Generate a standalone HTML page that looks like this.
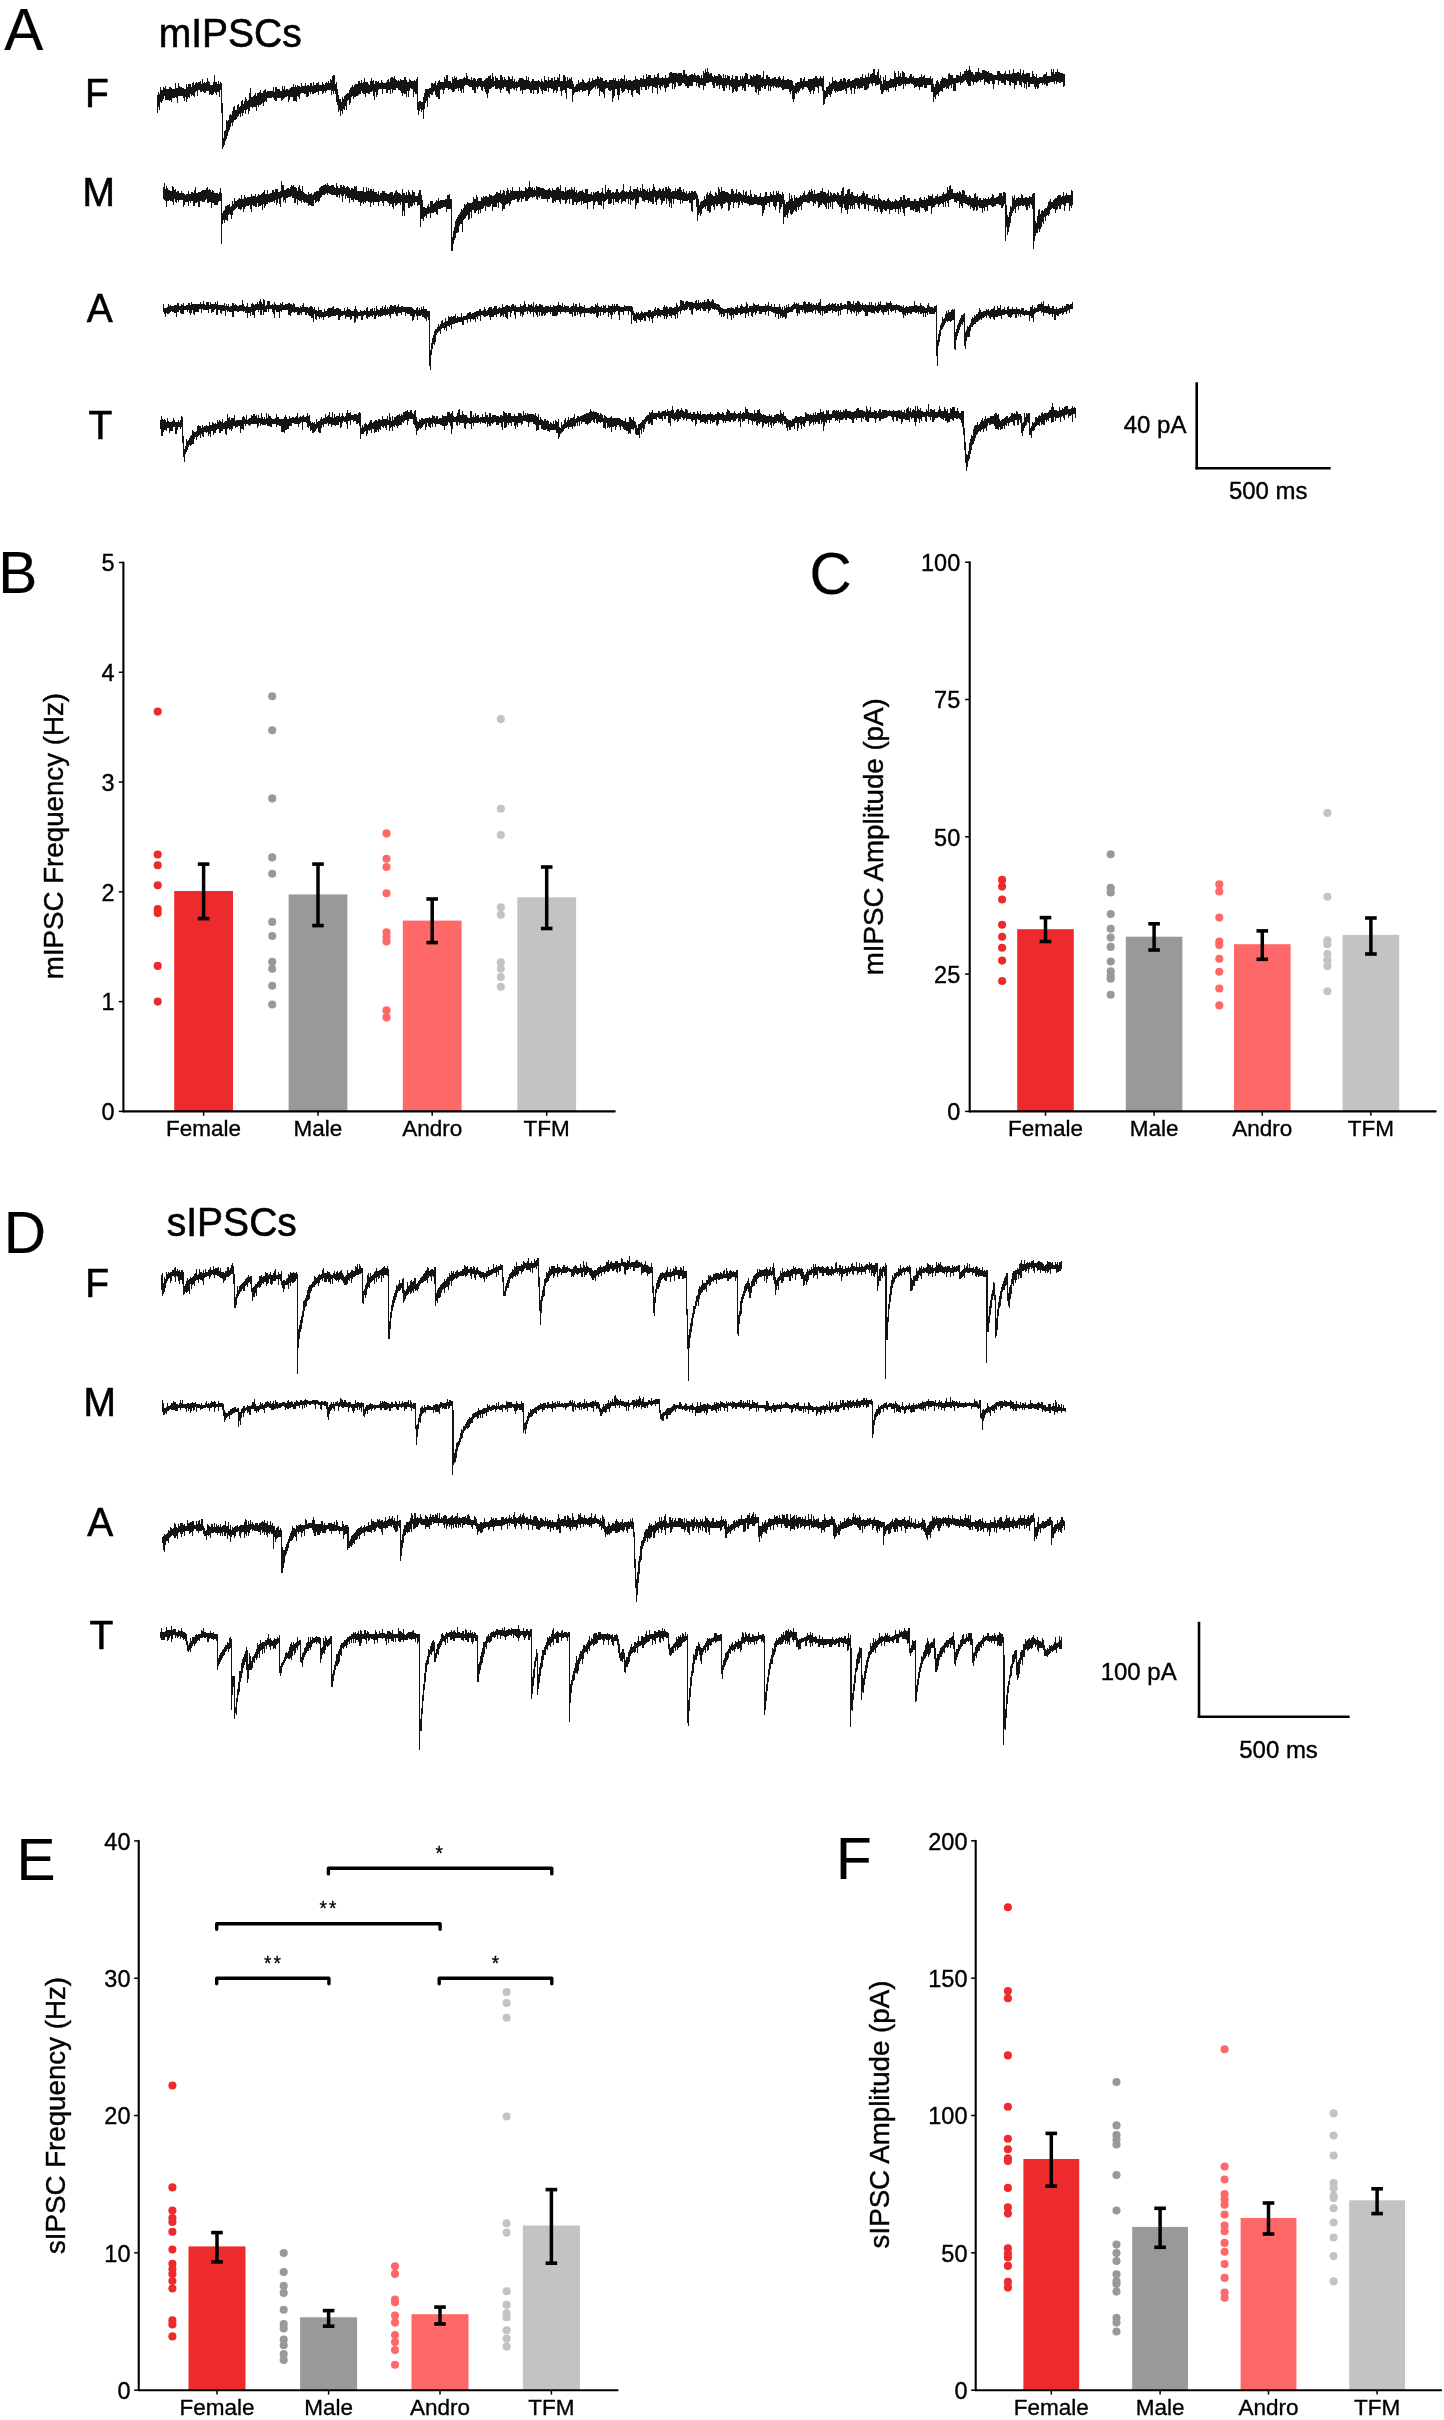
<!DOCTYPE html>
<html><head><meta charset="utf-8"><title>Figure</title>
<style>html,body{margin:0;padding:0;background:#fff;}svg{display:block;will-change:transform;}
text{font-family:"Liberation Sans", sans-serif;fill:#000;}</style></head>
<body><svg width="1444" height="2420" viewBox="0 0 1444 2420">
<rect width="1444" height="2420" fill="#fff"/>
<text x="0" y="0" transform="translate(4.15,49.90) scale(1,1.0)" font-size="58.5" text-anchor="start" stroke="#000" stroke-width="0.2" >A</text>
<text x="0" y="0" transform="translate(-1.75,593.00) scale(1,1.0)" font-size="58.5" text-anchor="start" stroke="#000" stroke-width="0.2" >B</text>
<text x="0" y="0" transform="translate(809.40,593.50) scale(1,1.0)" font-size="58.5" text-anchor="start" stroke="#000" stroke-width="0.2" >C</text>
<text x="0" y="0" transform="translate(3.65,1252.50) scale(1,1.0)" font-size="58.5" text-anchor="start" stroke="#000" stroke-width="0.2" >D</text>
<text x="0" y="0" transform="translate(16.55,1879.80) scale(1,1.0)" font-size="58.5" text-anchor="start" stroke="#000" stroke-width="0.2" >E</text>
<text x="0" y="0" transform="translate(836.05,1879.00) scale(1,1.0)" font-size="58.5" text-anchor="start" stroke="#000" stroke-width="0.2" >F</text>
<text x="0" y="0" transform="translate(158.80,46.50) scale(1,1.035)" font-size="39" text-anchor="start" stroke="#000" stroke-width="0.58" >mIPSCs</text>
<text x="0" y="0" transform="translate(166.80,1236.10) scale(1,1.035)" font-size="39" text-anchor="start" stroke="#000" stroke-width="0.58" >sIPSCs</text>
<text x="0" y="0" transform="translate(84.95,107.00) scale(1,1.035)" font-size="39" text-anchor="start" stroke="#000" stroke-width="0.58" >F</text>
<text x="0" y="0" transform="translate(82.45,206.10) scale(1,1.035)" font-size="39" text-anchor="start" stroke="#000" stroke-width="0.58" >M</text>
<text x="0" y="0" transform="translate(86.75,321.80) scale(1,1.035)" font-size="39" text-anchor="start" stroke="#000" stroke-width="0.58" >A</text>
<text x="0" y="0" transform="translate(88.40,438.90) scale(1,1.035)" font-size="39" text-anchor="start" stroke="#000" stroke-width="0.58" >T</text>
<text x="0" y="0" transform="translate(85.35,1297.00) scale(1,1.035)" font-size="39" text-anchor="start" stroke="#000" stroke-width="0.58" >F</text>
<text x="0" y="0" transform="translate(83.45,1416.20) scale(1,1.035)" font-size="39" text-anchor="start" stroke="#000" stroke-width="0.58" >M</text>
<text x="0" y="0" transform="translate(87.25,1535.90) scale(1,1.035)" font-size="39" text-anchor="start" stroke="#000" stroke-width="0.58" >A</text>
<text x="0" y="0" transform="translate(89.40,1648.90) scale(1,1.035)" font-size="39" text-anchor="start" stroke="#000" stroke-width="0.58" >T</text>
<line x1="1196.70" y1="382.30" x2="1196.70" y2="469.30" stroke="#000" stroke-width="2.6" stroke-linecap="butt"/>
<line x1="1195.50" y1="468.20" x2="1330.70" y2="468.20" stroke="#000" stroke-width="2.6" stroke-linecap="butt"/>
<text x="0" y="0" transform="translate(1123.70,433.10) scale(1,1.035)" font-size="24" text-anchor="start" stroke="#000" stroke-width="0.36" >40 pA</text>
<text x="0" y="0" transform="translate(1228.90,499.00) scale(1,1.035)" font-size="24" text-anchor="start" stroke="#000" stroke-width="0.36" >500 ms</text>
<line x1="1199.00" y1="1621.80" x2="1199.00" y2="1718.00" stroke="#000" stroke-width="2.6" stroke-linecap="butt"/>
<line x1="1197.80" y1="1716.80" x2="1349.70" y2="1716.80" stroke="#000" stroke-width="2.6" stroke-linecap="butt"/>
<text x="0" y="0" transform="translate(1100.65,1679.60) scale(1,1.035)" font-size="24" text-anchor="start" stroke="#000" stroke-width="0.36" >100 pA</text>
<text x="0" y="0" transform="translate(1239.20,1757.90) scale(1,1.035)" font-size="24" text-anchor="start" stroke="#000" stroke-width="0.36" >500 ms</text>
<rect x="174.20" y="891.00" width="58.80" height="220.40" fill="#ed2a2c"/>
<rect x="288.60" y="894.40" width="58.80" height="217.00" fill="#999999"/>
<rect x="402.80" y="920.60" width="58.80" height="190.80" fill="#ff6868"/>
<rect x="517.30" y="897.30" width="58.80" height="214.10" fill="#c3c3c3"/>
<circle cx="157.70" cy="711.60" r="4.05" fill="#ed2a2c"/>
<circle cx="157.70" cy="854.50" r="4.05" fill="#ed2a2c"/>
<circle cx="157.70" cy="865.30" r="4.05" fill="#ed2a2c"/>
<circle cx="157.70" cy="885.30" r="4.05" fill="#ed2a2c"/>
<circle cx="157.70" cy="909.00" r="4.05" fill="#ed2a2c"/>
<circle cx="157.70" cy="913.10" r="4.05" fill="#ed2a2c"/>
<circle cx="157.70" cy="965.90" r="4.05" fill="#ed2a2c"/>
<circle cx="157.70" cy="1001.60" r="4.05" fill="#ed2a2c"/>
<circle cx="272.20" cy="696.20" r="4.05" fill="#999999"/>
<circle cx="272.20" cy="730.30" r="4.05" fill="#999999"/>
<circle cx="272.20" cy="798.40" r="4.05" fill="#999999"/>
<circle cx="272.20" cy="857.40" r="4.05" fill="#999999"/>
<circle cx="272.20" cy="873.70" r="4.05" fill="#999999"/>
<circle cx="272.20" cy="921.90" r="4.05" fill="#999999"/>
<circle cx="272.20" cy="936.00" r="4.05" fill="#999999"/>
<circle cx="272.20" cy="961.70" r="4.05" fill="#999999"/>
<circle cx="272.20" cy="968.80" r="4.05" fill="#999999"/>
<circle cx="272.20" cy="985.80" r="4.05" fill="#999999"/>
<circle cx="272.20" cy="1004.50" r="4.05" fill="#999999"/>
<circle cx="386.50" cy="833.40" r="4.05" fill="#ff6868"/>
<circle cx="386.50" cy="858.70" r="4.05" fill="#ff6868"/>
<circle cx="386.50" cy="867.00" r="4.05" fill="#ff6868"/>
<circle cx="386.50" cy="893.20" r="4.05" fill="#ff6868"/>
<circle cx="386.50" cy="932.20" r="4.05" fill="#ff6868"/>
<circle cx="386.50" cy="937.20" r="4.05" fill="#ff6868"/>
<circle cx="386.50" cy="941.40" r="4.05" fill="#ff6868"/>
<circle cx="386.50" cy="1010.40" r="4.05" fill="#ff6868"/>
<circle cx="386.50" cy="1017.40" r="4.05" fill="#ff6868"/>
<circle cx="500.80" cy="719.10" r="4.05" fill="#c3c3c3"/>
<circle cx="500.80" cy="808.80" r="4.05" fill="#c3c3c3"/>
<circle cx="500.80" cy="835.00" r="4.05" fill="#c3c3c3"/>
<circle cx="500.80" cy="907.30" r="4.05" fill="#c3c3c3"/>
<circle cx="500.80" cy="914.80" r="4.05" fill="#c3c3c3"/>
<circle cx="500.80" cy="962.20" r="4.05" fill="#c3c3c3"/>
<circle cx="500.80" cy="968.80" r="4.05" fill="#c3c3c3"/>
<circle cx="500.80" cy="977.10" r="4.05" fill="#c3c3c3"/>
<circle cx="500.80" cy="986.70" r="4.05" fill="#c3c3c3"/>
<line x1="203.60" y1="864.10" x2="203.60" y2="918.60" stroke="#000" stroke-width="3.5" stroke-linecap="butt"/>
<line x1="197.80" y1="864.10" x2="209.40" y2="864.10" stroke="#000" stroke-width="3.6" stroke-linecap="butt"/>
<line x1="197.80" y1="918.60" x2="209.40" y2="918.60" stroke="#000" stroke-width="3.6" stroke-linecap="butt"/>
<line x1="318.00" y1="864.10" x2="318.00" y2="925.60" stroke="#000" stroke-width="3.5" stroke-linecap="butt"/>
<line x1="312.20" y1="864.10" x2="323.80" y2="864.10" stroke="#000" stroke-width="3.6" stroke-linecap="butt"/>
<line x1="312.20" y1="925.60" x2="323.80" y2="925.60" stroke="#000" stroke-width="3.6" stroke-linecap="butt"/>
<line x1="432.20" y1="899.00" x2="432.20" y2="942.60" stroke="#000" stroke-width="3.5" stroke-linecap="butt"/>
<line x1="426.40" y1="899.00" x2="438.00" y2="899.00" stroke="#000" stroke-width="3.6" stroke-linecap="butt"/>
<line x1="426.40" y1="942.60" x2="438.00" y2="942.60" stroke="#000" stroke-width="3.6" stroke-linecap="butt"/>
<line x1="546.70" y1="867.00" x2="546.70" y2="928.50" stroke="#000" stroke-width="3.5" stroke-linecap="butt"/>
<line x1="540.90" y1="867.00" x2="552.50" y2="867.00" stroke="#000" stroke-width="3.6" stroke-linecap="butt"/>
<line x1="540.90" y1="928.50" x2="552.50" y2="928.50" stroke="#000" stroke-width="3.6" stroke-linecap="butt"/>
<line x1="123.40" y1="562.50" x2="123.40" y2="1111.40" stroke="#000" stroke-width="2.1" stroke-linecap="round"/>
<line x1="123.40" y1="1111.40" x2="614.70" y2="1111.40" stroke="#000" stroke-width="2.1" stroke-linecap="round"/>
<line x1="118.80" y1="1111.40" x2="123.40" y2="1111.40" stroke="#000" stroke-width="1.5" stroke-linecap="butt"/>
<text x="0" y="0" transform="translate(114.50,1120.20) scale(1,1.035)" font-size="23.5" text-anchor="end" stroke="#000" stroke-width="0.35" >0</text>
<line x1="118.80" y1="1001.62" x2="123.40" y2="1001.62" stroke="#000" stroke-width="1.5" stroke-linecap="butt"/>
<text x="0" y="0" transform="translate(114.50,1010.42) scale(1,1.035)" font-size="23.5" text-anchor="end" stroke="#000" stroke-width="0.35" >1</text>
<line x1="118.80" y1="891.84" x2="123.40" y2="891.84" stroke="#000" stroke-width="1.5" stroke-linecap="butt"/>
<text x="0" y="0" transform="translate(114.50,900.64) scale(1,1.035)" font-size="23.5" text-anchor="end" stroke="#000" stroke-width="0.35" >2</text>
<line x1="118.80" y1="782.06" x2="123.40" y2="782.06" stroke="#000" stroke-width="1.5" stroke-linecap="butt"/>
<text x="0" y="0" transform="translate(114.50,790.86) scale(1,1.035)" font-size="23.5" text-anchor="end" stroke="#000" stroke-width="0.35" >3</text>
<line x1="118.80" y1="672.28" x2="123.40" y2="672.28" stroke="#000" stroke-width="1.5" stroke-linecap="butt"/>
<text x="0" y="0" transform="translate(114.50,681.08) scale(1,1.035)" font-size="23.5" text-anchor="end" stroke="#000" stroke-width="0.35" >4</text>
<line x1="118.80" y1="562.50" x2="123.40" y2="562.50" stroke="#000" stroke-width="1.5" stroke-linecap="butt"/>
<text x="0" y="0" transform="translate(114.50,571.30) scale(1,1.035)" font-size="23.5" text-anchor="end" stroke="#000" stroke-width="0.35" >5</text>
<line x1="203.60" y1="1111.40" x2="203.60" y2="1115.80" stroke="#000" stroke-width="1.5" stroke-linecap="butt"/>
<text x="0" y="0" transform="translate(203.60,1136.00) scale(1,1.0)" font-size="22.5" text-anchor="middle" stroke="#000" stroke-width="0.34" >Female</text>
<line x1="318.00" y1="1111.40" x2="318.00" y2="1115.80" stroke="#000" stroke-width="1.5" stroke-linecap="butt"/>
<text x="0" y="0" transform="translate(318.00,1136.00) scale(1,1.0)" font-size="22.5" text-anchor="middle" stroke="#000" stroke-width="0.34" >Male</text>
<line x1="432.20" y1="1111.40" x2="432.20" y2="1115.80" stroke="#000" stroke-width="1.5" stroke-linecap="butt"/>
<text x="0" y="0" transform="translate(432.20,1136.00) scale(1,1.0)" font-size="22.5" text-anchor="middle" stroke="#000" stroke-width="0.34" >Andro</text>
<line x1="546.70" y1="1111.40" x2="546.70" y2="1115.80" stroke="#000" stroke-width="1.5" stroke-linecap="butt"/>
<text x="0" y="0" transform="translate(546.70,1136.00) scale(1,1.0)" font-size="22.5" text-anchor="middle" stroke="#000" stroke-width="0.34" >TFM</text>
<text x="0" y="0" font-size="27.7" stroke="#000" stroke-width="0.42" text-anchor="middle" transform="translate(63.10,836.10) rotate(-90)">mIPSC Frequency (Hz)</text>
<rect x="1017.20" y="929.20" width="56.60" height="182.20" fill="#ed2a2c"/>
<rect x="1125.80" y="936.70" width="56.60" height="174.70" fill="#999999"/>
<rect x="1234.00" y="944.20" width="56.60" height="167.20" fill="#ff6868"/>
<rect x="1342.60" y="934.90" width="56.60" height="176.50" fill="#c3c3c3"/>
<circle cx="1002.10" cy="879.90" r="4.05" fill="#ed2a2c"/>
<circle cx="1002.10" cy="886.60" r="4.05" fill="#ed2a2c"/>
<circle cx="1002.10" cy="899.50" r="4.05" fill="#ed2a2c"/>
<circle cx="1002.10" cy="924.70" r="4.05" fill="#ed2a2c"/>
<circle cx="1002.10" cy="936.70" r="4.05" fill="#ed2a2c"/>
<circle cx="1002.10" cy="947.80" r="4.05" fill="#ed2a2c"/>
<circle cx="1002.10" cy="960.60" r="4.05" fill="#ed2a2c"/>
<circle cx="1002.10" cy="981.00" r="4.05" fill="#ed2a2c"/>
<circle cx="1110.70" cy="854.20" r="4.05" fill="#999999"/>
<circle cx="1110.70" cy="887.90" r="4.05" fill="#999999"/>
<circle cx="1110.70" cy="892.40" r="4.05" fill="#999999"/>
<circle cx="1110.70" cy="914.10" r="4.05" fill="#999999"/>
<circle cx="1110.70" cy="928.70" r="4.05" fill="#999999"/>
<circle cx="1110.70" cy="937.60" r="4.05" fill="#999999"/>
<circle cx="1110.70" cy="946.90" r="4.05" fill="#999999"/>
<circle cx="1110.70" cy="961.50" r="4.05" fill="#999999"/>
<circle cx="1110.70" cy="971.30" r="4.05" fill="#999999"/>
<circle cx="1110.70" cy="975.70" r="4.05" fill="#999999"/>
<circle cx="1110.70" cy="978.80" r="4.05" fill="#999999"/>
<circle cx="1110.70" cy="994.70" r="4.05" fill="#999999"/>
<circle cx="1219.30" cy="884.40" r="4.05" fill="#ff6868"/>
<circle cx="1219.30" cy="891.50" r="4.05" fill="#ff6868"/>
<circle cx="1219.30" cy="917.60" r="4.05" fill="#ff6868"/>
<circle cx="1219.30" cy="941.50" r="4.05" fill="#ff6868"/>
<circle cx="1219.30" cy="945.10" r="4.05" fill="#ff6868"/>
<circle cx="1219.30" cy="958.80" r="4.05" fill="#ff6868"/>
<circle cx="1219.30" cy="971.70" r="4.05" fill="#ff6868"/>
<circle cx="1219.30" cy="988.50" r="4.05" fill="#ff6868"/>
<circle cx="1219.30" cy="1005.40" r="4.05" fill="#ff6868"/>
<circle cx="1327.40" cy="813.00" r="4.05" fill="#c3c3c3"/>
<circle cx="1327.40" cy="896.80" r="4.05" fill="#c3c3c3"/>
<circle cx="1327.40" cy="940.20" r="4.05" fill="#c3c3c3"/>
<circle cx="1327.40" cy="944.20" r="4.05" fill="#c3c3c3"/>
<circle cx="1327.40" cy="954.00" r="4.05" fill="#c3c3c3"/>
<circle cx="1327.40" cy="960.20" r="4.05" fill="#c3c3c3"/>
<circle cx="1327.40" cy="966.00" r="4.05" fill="#c3c3c3"/>
<circle cx="1327.40" cy="991.20" r="4.05" fill="#c3c3c3"/>
<line x1="1045.50" y1="917.60" x2="1045.50" y2="941.50" stroke="#000" stroke-width="3.5" stroke-linecap="butt"/>
<line x1="1039.70" y1="917.60" x2="1051.30" y2="917.60" stroke="#000" stroke-width="3.6" stroke-linecap="butt"/>
<line x1="1039.70" y1="941.50" x2="1051.30" y2="941.50" stroke="#000" stroke-width="3.6" stroke-linecap="butt"/>
<line x1="1154.10" y1="923.80" x2="1154.10" y2="950.00" stroke="#000" stroke-width="3.5" stroke-linecap="butt"/>
<line x1="1148.30" y1="923.80" x2="1159.90" y2="923.80" stroke="#000" stroke-width="3.6" stroke-linecap="butt"/>
<line x1="1148.30" y1="950.00" x2="1159.90" y2="950.00" stroke="#000" stroke-width="3.6" stroke-linecap="butt"/>
<line x1="1262.30" y1="930.90" x2="1262.30" y2="959.30" stroke="#000" stroke-width="3.5" stroke-linecap="butt"/>
<line x1="1256.50" y1="930.90" x2="1268.10" y2="930.90" stroke="#000" stroke-width="3.6" stroke-linecap="butt"/>
<line x1="1256.50" y1="959.30" x2="1268.10" y2="959.30" stroke="#000" stroke-width="3.6" stroke-linecap="butt"/>
<line x1="1370.90" y1="918.00" x2="1370.90" y2="954.00" stroke="#000" stroke-width="3.5" stroke-linecap="butt"/>
<line x1="1365.10" y1="918.00" x2="1376.70" y2="918.00" stroke="#000" stroke-width="3.6" stroke-linecap="butt"/>
<line x1="1365.10" y1="954.00" x2="1376.70" y2="954.00" stroke="#000" stroke-width="3.6" stroke-linecap="butt"/>
<line x1="969.70" y1="562.20" x2="969.70" y2="1111.40" stroke="#000" stroke-width="2.1" stroke-linecap="round"/>
<line x1="969.70" y1="1111.40" x2="1435.70" y2="1111.40" stroke="#000" stroke-width="2.1" stroke-linecap="round"/>
<line x1="965.10" y1="1111.40" x2="969.70" y2="1111.40" stroke="#000" stroke-width="1.5" stroke-linecap="butt"/>
<text x="0" y="0" transform="translate(960.20,1120.20) scale(1,1.035)" font-size="23.5" text-anchor="end" stroke="#000" stroke-width="0.35" >0</text>
<line x1="965.10" y1="974.10" x2="969.70" y2="974.10" stroke="#000" stroke-width="1.5" stroke-linecap="butt"/>
<text x="0" y="0" transform="translate(960.20,982.90) scale(1,1.035)" font-size="23.5" text-anchor="end" stroke="#000" stroke-width="0.35" >25</text>
<line x1="965.10" y1="836.80" x2="969.70" y2="836.80" stroke="#000" stroke-width="1.5" stroke-linecap="butt"/>
<text x="0" y="0" transform="translate(960.20,845.60) scale(1,1.035)" font-size="23.5" text-anchor="end" stroke="#000" stroke-width="0.35" >50</text>
<line x1="965.10" y1="699.50" x2="969.70" y2="699.50" stroke="#000" stroke-width="1.5" stroke-linecap="butt"/>
<text x="0" y="0" transform="translate(960.20,708.30) scale(1,1.035)" font-size="23.5" text-anchor="end" stroke="#000" stroke-width="0.35" >75</text>
<line x1="965.10" y1="562.20" x2="969.70" y2="562.20" stroke="#000" stroke-width="1.5" stroke-linecap="butt"/>
<text x="0" y="0" transform="translate(960.20,571.00) scale(1,1.035)" font-size="23.5" text-anchor="end" stroke="#000" stroke-width="0.35" >100</text>
<line x1="1045.50" y1="1111.40" x2="1045.50" y2="1115.80" stroke="#000" stroke-width="1.5" stroke-linecap="butt"/>
<text x="0" y="0" transform="translate(1045.50,1135.50) scale(1,1.0)" font-size="22.5" text-anchor="middle" stroke="#000" stroke-width="0.34" >Female</text>
<line x1="1154.10" y1="1111.40" x2="1154.10" y2="1115.80" stroke="#000" stroke-width="1.5" stroke-linecap="butt"/>
<text x="0" y="0" transform="translate(1154.10,1135.50) scale(1,1.0)" font-size="22.5" text-anchor="middle" stroke="#000" stroke-width="0.34" >Male</text>
<line x1="1262.30" y1="1111.40" x2="1262.30" y2="1115.80" stroke="#000" stroke-width="1.5" stroke-linecap="butt"/>
<text x="0" y="0" transform="translate(1262.30,1135.50) scale(1,1.0)" font-size="22.5" text-anchor="middle" stroke="#000" stroke-width="0.34" >Andro</text>
<line x1="1370.90" y1="1111.40" x2="1370.90" y2="1115.80" stroke="#000" stroke-width="1.5" stroke-linecap="butt"/>
<text x="0" y="0" transform="translate(1370.90,1135.50) scale(1,1.0)" font-size="22.5" text-anchor="middle" stroke="#000" stroke-width="0.34" >TFM</text>
<text x="0" y="0" font-size="27.7" stroke="#000" stroke-width="0.42" text-anchor="middle" transform="translate(883.10,836.80) rotate(-90)">mIPSC Amplitude (pA)</text>
<rect x="188.50" y="2246.40" width="57.00" height="143.80" fill="#ed2a2c"/>
<rect x="300.10" y="2317.30" width="57.00" height="72.90" fill="#999999"/>
<rect x="411.50" y="2314.20" width="57.00" height="76.00" fill="#ff6868"/>
<rect x="522.90" y="2225.50" width="57.00" height="164.70" fill="#c3c3c3"/>
<circle cx="172.40" cy="2085.50" r="4.05" fill="#ed2a2c"/>
<circle cx="172.40" cy="2187.40" r="4.05" fill="#ed2a2c"/>
<circle cx="172.40" cy="2210.50" r="4.05" fill="#ed2a2c"/>
<circle cx="172.40" cy="2218.00" r="4.05" fill="#ed2a2c"/>
<circle cx="172.40" cy="2222.00" r="4.05" fill="#ed2a2c"/>
<circle cx="172.40" cy="2231.80" r="4.05" fill="#ed2a2c"/>
<circle cx="172.40" cy="2249.50" r="4.05" fill="#ed2a2c"/>
<circle cx="172.40" cy="2263.70" r="4.05" fill="#ed2a2c"/>
<circle cx="172.40" cy="2269.00" r="4.05" fill="#ed2a2c"/>
<circle cx="172.40" cy="2273.90" r="4.05" fill="#ed2a2c"/>
<circle cx="172.40" cy="2281.00" r="4.05" fill="#ed2a2c"/>
<circle cx="172.40" cy="2288.50" r="4.05" fill="#ed2a2c"/>
<circle cx="172.40" cy="2320.40" r="4.05" fill="#ed2a2c"/>
<circle cx="172.40" cy="2324.40" r="4.05" fill="#ed2a2c"/>
<circle cx="172.40" cy="2336.40" r="4.05" fill="#ed2a2c"/>
<circle cx="283.70" cy="2253.00" r="4.05" fill="#999999"/>
<circle cx="283.70" cy="2272.10" r="4.05" fill="#999999"/>
<circle cx="283.70" cy="2285.80" r="4.05" fill="#999999"/>
<circle cx="283.70" cy="2292.90" r="4.05" fill="#999999"/>
<circle cx="283.70" cy="2309.80" r="4.05" fill="#999999"/>
<circle cx="283.70" cy="2324.00" r="4.05" fill="#999999"/>
<circle cx="283.70" cy="2328.40" r="4.05" fill="#999999"/>
<circle cx="283.70" cy="2339.50" r="4.05" fill="#999999"/>
<circle cx="283.70" cy="2345.20" r="4.05" fill="#999999"/>
<circle cx="283.70" cy="2354.10" r="4.05" fill="#999999"/>
<circle cx="283.70" cy="2359.90" r="4.05" fill="#999999"/>
<circle cx="395.00" cy="2266.30" r="4.05" fill="#ff6868"/>
<circle cx="395.00" cy="2273.90" r="4.05" fill="#ff6868"/>
<circle cx="395.00" cy="2299.60" r="4.05" fill="#ff6868"/>
<circle cx="395.00" cy="2302.30" r="4.05" fill="#ff6868"/>
<circle cx="395.00" cy="2315.50" r="4.05" fill="#ff6868"/>
<circle cx="395.00" cy="2322.60" r="4.05" fill="#ff6868"/>
<circle cx="395.00" cy="2335.00" r="4.05" fill="#ff6868"/>
<circle cx="395.00" cy="2342.10" r="4.05" fill="#ff6868"/>
<circle cx="395.00" cy="2350.10" r="4.05" fill="#ff6868"/>
<circle cx="395.00" cy="2364.70" r="4.05" fill="#ff6868"/>
<circle cx="506.60" cy="1992.00" r="4.05" fill="#c3c3c3"/>
<circle cx="506.60" cy="2003.00" r="4.05" fill="#c3c3c3"/>
<circle cx="506.60" cy="2017.70" r="4.05" fill="#c3c3c3"/>
<circle cx="506.60" cy="2116.50" r="4.05" fill="#c3c3c3"/>
<circle cx="506.60" cy="2223.30" r="4.05" fill="#c3c3c3"/>
<circle cx="506.60" cy="2232.60" r="4.05" fill="#c3c3c3"/>
<circle cx="506.60" cy="2291.20" r="4.05" fill="#c3c3c3"/>
<circle cx="506.60" cy="2304.90" r="4.05" fill="#c3c3c3"/>
<circle cx="506.60" cy="2313.30" r="4.05" fill="#c3c3c3"/>
<circle cx="506.60" cy="2317.30" r="4.05" fill="#c3c3c3"/>
<circle cx="506.60" cy="2330.20" r="4.05" fill="#c3c3c3"/>
<circle cx="506.60" cy="2338.60" r="4.05" fill="#c3c3c3"/>
<circle cx="506.60" cy="2346.60" r="4.05" fill="#c3c3c3"/>
<line x1="217.00" y1="2232.60" x2="217.00" y2="2261.90" stroke="#000" stroke-width="3.5" stroke-linecap="butt"/>
<line x1="211.20" y1="2232.60" x2="222.80" y2="2232.60" stroke="#000" stroke-width="3.6" stroke-linecap="butt"/>
<line x1="211.20" y1="2261.90" x2="222.80" y2="2261.90" stroke="#000" stroke-width="3.6" stroke-linecap="butt"/>
<line x1="328.60" y1="2310.60" x2="328.60" y2="2326.20" stroke="#000" stroke-width="3.5" stroke-linecap="butt"/>
<line x1="322.80" y1="2310.60" x2="334.40" y2="2310.60" stroke="#000" stroke-width="3.6" stroke-linecap="butt"/>
<line x1="322.80" y1="2326.20" x2="334.40" y2="2326.20" stroke="#000" stroke-width="3.6" stroke-linecap="butt"/>
<line x1="440.00" y1="2307.10" x2="440.00" y2="2324.00" stroke="#000" stroke-width="3.5" stroke-linecap="butt"/>
<line x1="434.20" y1="2307.10" x2="445.80" y2="2307.10" stroke="#000" stroke-width="3.6" stroke-linecap="butt"/>
<line x1="434.20" y1="2324.00" x2="445.80" y2="2324.00" stroke="#000" stroke-width="3.6" stroke-linecap="butt"/>
<line x1="551.40" y1="2189.60" x2="551.40" y2="2263.20" stroke="#000" stroke-width="3.5" stroke-linecap="butt"/>
<line x1="545.60" y1="2189.60" x2="557.20" y2="2189.60" stroke="#000" stroke-width="3.6" stroke-linecap="butt"/>
<line x1="545.60" y1="2263.20" x2="557.20" y2="2263.20" stroke="#000" stroke-width="3.6" stroke-linecap="butt"/>
<line x1="138.75" y1="1840.90" x2="138.75" y2="2390.20" stroke="#000" stroke-width="2.1" stroke-linecap="round"/>
<line x1="138.75" y1="2390.20" x2="617.60" y2="2390.20" stroke="#000" stroke-width="2.1" stroke-linecap="round"/>
<line x1="134.15" y1="2390.20" x2="138.75" y2="2390.20" stroke="#000" stroke-width="1.5" stroke-linecap="butt"/>
<text x="0" y="0" transform="translate(130.50,2399.00) scale(1,1.035)" font-size="23.5" text-anchor="end" stroke="#000" stroke-width="0.35" >0</text>
<line x1="134.15" y1="2252.88" x2="138.75" y2="2252.88" stroke="#000" stroke-width="1.5" stroke-linecap="butt"/>
<text x="0" y="0" transform="translate(130.50,2261.68) scale(1,1.035)" font-size="23.5" text-anchor="end" stroke="#000" stroke-width="0.35" >10</text>
<line x1="134.15" y1="2115.55" x2="138.75" y2="2115.55" stroke="#000" stroke-width="1.5" stroke-linecap="butt"/>
<text x="0" y="0" transform="translate(130.50,2124.35) scale(1,1.035)" font-size="23.5" text-anchor="end" stroke="#000" stroke-width="0.35" >20</text>
<line x1="134.15" y1="1978.22" x2="138.75" y2="1978.22" stroke="#000" stroke-width="1.5" stroke-linecap="butt"/>
<text x="0" y="0" transform="translate(130.50,1987.02) scale(1,1.035)" font-size="23.5" text-anchor="end" stroke="#000" stroke-width="0.35" >30</text>
<line x1="134.15" y1="1840.90" x2="138.75" y2="1840.90" stroke="#000" stroke-width="1.5" stroke-linecap="butt"/>
<text x="0" y="0" transform="translate(130.50,1849.70) scale(1,1.035)" font-size="23.5" text-anchor="end" stroke="#000" stroke-width="0.35" >40</text>
<line x1="217.00" y1="2390.20" x2="217.00" y2="2394.60" stroke="#000" stroke-width="1.5" stroke-linecap="butt"/>
<text x="0" y="0" transform="translate(217.00,2415.20) scale(1,1.0)" font-size="22.5" text-anchor="middle" stroke="#000" stroke-width="0.34" >Female</text>
<line x1="328.60" y1="2390.20" x2="328.60" y2="2394.60" stroke="#000" stroke-width="1.5" stroke-linecap="butt"/>
<text x="0" y="0" transform="translate(328.60,2415.20) scale(1,1.0)" font-size="22.5" text-anchor="middle" stroke="#000" stroke-width="0.34" >Male</text>
<line x1="440.00" y1="2390.20" x2="440.00" y2="2394.60" stroke="#000" stroke-width="1.5" stroke-linecap="butt"/>
<text x="0" y="0" transform="translate(440.00,2415.20) scale(1,1.0)" font-size="22.5" text-anchor="middle" stroke="#000" stroke-width="0.34" >Andro</text>
<line x1="551.40" y1="2390.20" x2="551.40" y2="2394.60" stroke="#000" stroke-width="1.5" stroke-linecap="butt"/>
<text x="0" y="0" transform="translate(551.40,2415.20) scale(1,1.0)" font-size="22.5" text-anchor="middle" stroke="#000" stroke-width="0.34" >TFM</text>
<text x="0" y="0" font-size="27.7" stroke="#000" stroke-width="0.42" text-anchor="middle" transform="translate(64.90,2115.50) rotate(-90)">sIPSC Frequency (Hz)</text>
<path d="M216.70,1983.80 V1978.20 H328.90 V1983.80" fill="none" stroke="#000" stroke-width="3.4" stroke-linecap="round" stroke-linejoin="round"/>
<text x="0" y="0" transform="translate(273.60,1970.20) scale(1,1.035)" font-size="19" text-anchor="middle" stroke="#000" stroke-width="0.28" letter-spacing="2.2">**</text>
<path d="M216.70,1929.30 V1923.70 H440.10 V1929.30" fill="none" stroke="#000" stroke-width="3.4" stroke-linecap="round" stroke-linejoin="round"/>
<text x="0" y="0" transform="translate(329.00,1915.10) scale(1,1.035)" font-size="19" text-anchor="middle" stroke="#000" stroke-width="0.28" letter-spacing="2.2">**</text>
<path d="M328.40,1873.90 V1868.30 H551.80 V1873.90" fill="none" stroke="#000" stroke-width="3.4" stroke-linecap="round" stroke-linejoin="round"/>
<text x="0" y="0" transform="translate(440.40,1860.40) scale(1,1.035)" font-size="19" text-anchor="middle" stroke="#000" stroke-width="0.28" letter-spacing="2.2">*</text>
<path d="M439.20,1983.80 V1978.20 H551.80 V1983.80" fill="none" stroke="#000" stroke-width="3.4" stroke-linecap="round" stroke-linejoin="round"/>
<text x="0" y="0" transform="translate(496.50,1970.20) scale(1,1.035)" font-size="19" text-anchor="middle" stroke="#000" stroke-width="0.28" letter-spacing="2.2">*</text>
<rect x="1023.40" y="2159.00" width="55.80" height="231.20" fill="#ed2a2c"/>
<rect x="1132.20" y="2226.90" width="55.80" height="163.30" fill="#999999"/>
<rect x="1240.60" y="2218.00" width="55.80" height="172.20" fill="#ff6868"/>
<rect x="1349.20" y="2200.30" width="55.80" height="189.90" fill="#c3c3c3"/>
<circle cx="1007.90" cy="1907.30" r="4.05" fill="#ed2a2c"/>
<circle cx="1007.90" cy="1991.10" r="4.05" fill="#ed2a2c"/>
<circle cx="1007.90" cy="1998.20" r="4.05" fill="#ed2a2c"/>
<circle cx="1007.90" cy="2055.40" r="4.05" fill="#ed2a2c"/>
<circle cx="1007.90" cy="2106.80" r="4.05" fill="#ed2a2c"/>
<circle cx="1007.90" cy="2138.70" r="4.05" fill="#ed2a2c"/>
<circle cx="1007.90" cy="2149.30" r="4.05" fill="#ed2a2c"/>
<circle cx="1007.90" cy="2158.20" r="4.05" fill="#ed2a2c"/>
<circle cx="1007.90" cy="2160.90" r="4.05" fill="#ed2a2c"/>
<circle cx="1007.90" cy="2187.90" r="4.05" fill="#ed2a2c"/>
<circle cx="1007.90" cy="2207.40" r="4.05" fill="#ed2a2c"/>
<circle cx="1007.90" cy="2213.60" r="4.05" fill="#ed2a2c"/>
<circle cx="1007.90" cy="2248.20" r="4.05" fill="#ed2a2c"/>
<circle cx="1007.90" cy="2253.50" r="4.05" fill="#ed2a2c"/>
<circle cx="1007.90" cy="2257.50" r="4.05" fill="#ed2a2c"/>
<circle cx="1007.90" cy="2265.90" r="4.05" fill="#ed2a2c"/>
<circle cx="1007.90" cy="2281.90" r="4.05" fill="#ed2a2c"/>
<circle cx="1007.90" cy="2287.60" r="4.05" fill="#ed2a2c"/>
<circle cx="1116.50" cy="2082.00" r="4.05" fill="#999999"/>
<circle cx="1116.50" cy="2125.40" r="4.05" fill="#999999"/>
<circle cx="1116.50" cy="2135.10" r="4.05" fill="#999999"/>
<circle cx="1116.50" cy="2139.60" r="4.05" fill="#999999"/>
<circle cx="1116.50" cy="2144.50" r="4.05" fill="#999999"/>
<circle cx="1116.50" cy="2175.00" r="4.05" fill="#999999"/>
<circle cx="1116.50" cy="2210.50" r="4.05" fill="#999999"/>
<circle cx="1116.50" cy="2244.60" r="4.05" fill="#999999"/>
<circle cx="1116.50" cy="2253.00" r="4.05" fill="#999999"/>
<circle cx="1116.50" cy="2261.00" r="4.05" fill="#999999"/>
<circle cx="1116.50" cy="2274.30" r="4.05" fill="#999999"/>
<circle cx="1116.50" cy="2281.40" r="4.05" fill="#999999"/>
<circle cx="1116.50" cy="2284.10" r="4.05" fill="#999999"/>
<circle cx="1116.50" cy="2291.60" r="4.05" fill="#999999"/>
<circle cx="1116.50" cy="2317.80" r="4.05" fill="#999999"/>
<circle cx="1116.50" cy="2322.60" r="4.05" fill="#999999"/>
<circle cx="1116.50" cy="2331.50" r="4.05" fill="#999999"/>
<circle cx="1224.60" cy="2049.20" r="4.05" fill="#ff6868"/>
<circle cx="1224.60" cy="2166.60" r="4.05" fill="#ff6868"/>
<circle cx="1224.60" cy="2179.50" r="4.05" fill="#ff6868"/>
<circle cx="1224.60" cy="2194.10" r="4.05" fill="#ff6868"/>
<circle cx="1224.60" cy="2199.40" r="4.05" fill="#ff6868"/>
<circle cx="1224.60" cy="2204.70" r="4.05" fill="#ff6868"/>
<circle cx="1224.60" cy="2214.50" r="4.05" fill="#ff6868"/>
<circle cx="1224.60" cy="2225.60" r="4.05" fill="#ff6868"/>
<circle cx="1224.60" cy="2231.30" r="4.05" fill="#ff6868"/>
<circle cx="1224.60" cy="2242.90" r="4.05" fill="#ff6868"/>
<circle cx="1224.60" cy="2251.70" r="4.05" fill="#ff6868"/>
<circle cx="1224.60" cy="2264.10" r="4.05" fill="#ff6868"/>
<circle cx="1224.60" cy="2277.90" r="4.05" fill="#ff6868"/>
<circle cx="1224.60" cy="2292.50" r="4.05" fill="#ff6868"/>
<circle cx="1224.60" cy="2297.80" r="4.05" fill="#ff6868"/>
<circle cx="1333.60" cy="2113.40" r="4.05" fill="#c3c3c3"/>
<circle cx="1333.60" cy="2135.60" r="4.05" fill="#c3c3c3"/>
<circle cx="1333.60" cy="2155.50" r="4.05" fill="#c3c3c3"/>
<circle cx="1333.60" cy="2183.00" r="4.05" fill="#c3c3c3"/>
<circle cx="1333.60" cy="2188.30" r="4.05" fill="#c3c3c3"/>
<circle cx="1333.60" cy="2195.90" r="4.05" fill="#c3c3c3"/>
<circle cx="1333.60" cy="2198.10" r="4.05" fill="#c3c3c3"/>
<circle cx="1333.60" cy="2208.30" r="4.05" fill="#c3c3c3"/>
<circle cx="1333.60" cy="2222.50" r="4.05" fill="#c3c3c3"/>
<circle cx="1333.60" cy="2237.50" r="4.05" fill="#c3c3c3"/>
<circle cx="1333.60" cy="2256.10" r="4.05" fill="#c3c3c3"/>
<circle cx="1333.60" cy="2281.40" r="4.05" fill="#c3c3c3"/>
<line x1="1051.30" y1="2133.40" x2="1051.30" y2="2186.10" stroke="#000" stroke-width="3.5" stroke-linecap="butt"/>
<line x1="1045.50" y1="2133.40" x2="1057.10" y2="2133.40" stroke="#000" stroke-width="3.6" stroke-linecap="butt"/>
<line x1="1045.50" y1="2186.10" x2="1057.10" y2="2186.10" stroke="#000" stroke-width="3.6" stroke-linecap="butt"/>
<line x1="1160.10" y1="2208.30" x2="1160.10" y2="2247.30" stroke="#000" stroke-width="3.5" stroke-linecap="butt"/>
<line x1="1154.30" y1="2208.30" x2="1165.90" y2="2208.30" stroke="#000" stroke-width="3.6" stroke-linecap="butt"/>
<line x1="1154.30" y1="2247.30" x2="1165.90" y2="2247.30" stroke="#000" stroke-width="3.6" stroke-linecap="butt"/>
<line x1="1268.50" y1="2203.00" x2="1268.50" y2="2234.00" stroke="#000" stroke-width="3.5" stroke-linecap="butt"/>
<line x1="1262.70" y1="2203.00" x2="1274.30" y2="2203.00" stroke="#000" stroke-width="3.6" stroke-linecap="butt"/>
<line x1="1262.70" y1="2234.00" x2="1274.30" y2="2234.00" stroke="#000" stroke-width="3.6" stroke-linecap="butt"/>
<line x1="1377.10" y1="2188.80" x2="1377.10" y2="2213.60" stroke="#000" stroke-width="3.5" stroke-linecap="butt"/>
<line x1="1371.30" y1="2188.80" x2="1382.90" y2="2188.80" stroke="#000" stroke-width="3.6" stroke-linecap="butt"/>
<line x1="1371.30" y1="2213.60" x2="1382.90" y2="2213.60" stroke="#000" stroke-width="3.6" stroke-linecap="butt"/>
<line x1="975.70" y1="1840.80" x2="975.70" y2="2390.20" stroke="#000" stroke-width="2.1" stroke-linecap="round"/>
<line x1="975.70" y1="2390.20" x2="1441.10" y2="2390.20" stroke="#000" stroke-width="2.1" stroke-linecap="round"/>
<line x1="971.10" y1="2390.20" x2="975.70" y2="2390.20" stroke="#000" stroke-width="1.5" stroke-linecap="butt"/>
<text x="0" y="0" transform="translate(967.50,2399.00) scale(1,1.035)" font-size="23.5" text-anchor="end" stroke="#000" stroke-width="0.35" >0</text>
<line x1="971.10" y1="2252.85" x2="975.70" y2="2252.85" stroke="#000" stroke-width="1.5" stroke-linecap="butt"/>
<text x="0" y="0" transform="translate(967.50,2261.65) scale(1,1.035)" font-size="23.5" text-anchor="end" stroke="#000" stroke-width="0.35" >50</text>
<line x1="971.10" y1="2115.50" x2="975.70" y2="2115.50" stroke="#000" stroke-width="1.5" stroke-linecap="butt"/>
<text x="0" y="0" transform="translate(967.50,2124.30) scale(1,1.035)" font-size="23.5" text-anchor="end" stroke="#000" stroke-width="0.35" >100</text>
<line x1="971.10" y1="1978.15" x2="975.70" y2="1978.15" stroke="#000" stroke-width="1.5" stroke-linecap="butt"/>
<text x="0" y="0" transform="translate(967.50,1986.95) scale(1,1.035)" font-size="23.5" text-anchor="end" stroke="#000" stroke-width="0.35" >150</text>
<line x1="971.10" y1="1840.80" x2="975.70" y2="1840.80" stroke="#000" stroke-width="1.5" stroke-linecap="butt"/>
<text x="0" y="0" transform="translate(967.50,1849.60) scale(1,1.035)" font-size="23.5" text-anchor="end" stroke="#000" stroke-width="0.35" >200</text>
<line x1="1051.30" y1="2390.20" x2="1051.30" y2="2394.60" stroke="#000" stroke-width="1.5" stroke-linecap="butt"/>
<text x="0" y="0" transform="translate(1051.30,2415.20) scale(1,1.0)" font-size="22.5" text-anchor="middle" stroke="#000" stroke-width="0.34" >Female</text>
<line x1="1160.10" y1="2390.20" x2="1160.10" y2="2394.60" stroke="#000" stroke-width="1.5" stroke-linecap="butt"/>
<text x="0" y="0" transform="translate(1160.10,2415.20) scale(1,1.0)" font-size="22.5" text-anchor="middle" stroke="#000" stroke-width="0.34" >Male</text>
<line x1="1268.50" y1="2390.20" x2="1268.50" y2="2394.60" stroke="#000" stroke-width="1.5" stroke-linecap="butt"/>
<text x="0" y="0" transform="translate(1268.50,2415.20) scale(1,1.0)" font-size="22.5" text-anchor="middle" stroke="#000" stroke-width="0.34" >Andro</text>
<line x1="1377.10" y1="2390.20" x2="1377.10" y2="2394.60" stroke="#000" stroke-width="1.5" stroke-linecap="butt"/>
<text x="0" y="0" transform="translate(1377.10,2415.20) scale(1,1.0)" font-size="22.5" text-anchor="middle" stroke="#000" stroke-width="0.34" >TFM</text>
<text x="0" y="0" font-size="27.7" stroke="#000" stroke-width="0.42" text-anchor="middle" transform="translate(889.00,2114.50) rotate(-90)">sIPSC Amplitude (pA)</text>
<path d="M157.5,94.9V112.7M158.5,92.0V106.7M159.5,93.5V109.8M160.5,87.0V101.9M161.5,90.0V103.3M162.5,89.5V100.6M163.5,87.3V99.0M164.5,88.3V96.2M165.5,85.5V100.1M166.5,89.1V100.0M167.5,88.8V99.9M168.5,88.8V99.8M169.5,86.7V100.5M170.5,86.7V100.3M171.5,88.2V101.6M172.5,88.7V97.5M173.5,89.1V98.0M174.5,88.8V97.5M175.5,82.9V96.9M176.5,88.3V98.0M177.5,88.4V102.7M178.5,83.0V95.6M179.5,85.9V96.4M180.5,86.6V96.2M181.5,86.5V95.7M182.5,87.8V96.2M183.5,88.1V98.0M184.5,89.2V100.9M185.5,89.2V96.5M186.5,84.0V101.5M187.5,87.0V99.3M188.5,84.3V97.0M189.5,84.0V97.6M190.5,83.8V93.7M191.5,87.3V95.6M192.5,82.5V95.0M193.5,82.0V95.5M194.5,85.1V96.6M195.5,83.2V91.8M196.5,82.4V91.1M197.5,83.3V95.7M198.5,82.0V90.3M199.5,81.6V90.3M200.5,80.9V92.2M201.5,83.6V92.3M202.5,78.9V91.3M203.5,83.1V91.8M204.5,82.4V93.2M205.5,82.6V93.4M206.5,81.5V91.3M207.5,77.7V91.3M208.5,81.3V91.3M209.5,81.6V94.9M210.5,84.7V93.6M211.5,85.1V94.6M212.5,84.8V94.6M213.5,81.7V94.1M214.5,74.8V91.8M215.5,81.5V92.9M216.5,81.5V95.1M217.5,83.6V92.0M218.5,80.6V92.0M219.5,83.8V96.8M220.5,81.8V90.1M221.5,82.6V112.5M222.5,103.3V149.2M223.5,137.5V147.4M224.5,130.7V144.8M225.5,130.1V140.9M226.5,119.6V138.9M227.5,121.3V135.6M228.5,120.4V131.9M229.5,114.6V129.5M230.5,113.9V126.5M231.5,115.2V122.5M232.5,111.4V125.5M233.5,106.7V121.6M234.5,105.6V120.4M235.5,110.3V120.0M236.5,109.7V118.6M237.5,104.9V116.8M238.5,104.1V116.2M239.5,107.0V113.5M240.5,106.1V116.7M241.5,101.4V112.8M242.5,99.7V116.4M243.5,104.1V112.9M244.5,100.6V109.6M245.5,97.0V113.9M246.5,99.0V110.4M247.5,100.7V108.8M248.5,99.9V113.5M249.5,93.4V110.8M250.5,88.2V107.4M251.5,97.0V106.7M252.5,96.5V108.3M253.5,95.6V107.4M254.5,94.9V107.3M255.5,93.4V106.6M256.5,95.6V110.9M257.5,92.6V105.3M258.5,93.2V107.0M259.5,91.7V105.0M260.5,90.4V104.6M261.5,93.4V103.8M262.5,93.0V103.2M263.5,90.9V106.3M264.5,90.2V101.9M265.5,89.4V101.2M266.5,91.5V101.5M267.5,91.2V98.0M268.5,90.7V98.0M269.5,90.6V98.3M270.5,90.6V97.9M271.5,90.6V98.0M272.5,91.0V97.0M273.5,86.9V97.5M274.5,91.6V100.4M275.5,87.0V101.4M276.5,86.8V101.4M277.5,88.7V97.6M278.5,89.2V97.6M279.5,89.2V97.5M280.5,90.7V97.6M281.5,90.7V101.2M282.5,85.6V100.0M283.5,89.0V99.2M284.5,86.3V98.1M285.5,89.5V96.5M286.5,88.9V96.5M287.5,88.9V96.0M288.5,90.2V102.1M289.5,88.8V100.2M290.5,88.4V96.8M291.5,86.9V96.5M292.5,86.8V96.5M293.5,83.6V101.3M294.5,87.0V101.0M295.5,85.3V100.5M296.5,87.4V101.8M297.5,84.7V95.6M298.5,85.5V97.1M299.5,85.6V98.9M300.5,86.9V94.1M301.5,83.1V93.4M302.5,86.1V93.1M303.5,86.1V92.6M304.5,86.2V94.3M305.5,82.7V94.3M306.5,86.4V97.0M307.5,85.3V96.7M308.5,85.3V96.4M309.5,85.8V92.1M310.5,83.0V93.8M311.5,83.0V91.9M312.5,86.1V94.4M313.5,82.4V94.1M314.5,85.1V93.2M315.5,84.9V93.2M316.5,83.4V91.5M317.5,83.3V91.5M318.5,82.4V95.4M319.5,84.7V90.7M320.5,84.7V90.6M321.5,84.8V90.6M322.5,82.3V93.5M323.5,84.3V93.1M324.5,84.6V91.3M325.5,82.9V93.0M326.5,82.2V90.6M327.5,82.9V90.2M328.5,80.9V90.2M329.5,83.0V90.0M330.5,79.1V90.0M331.5,80.4V95.3M332.5,75.6V90.9M333.5,74.8V93.5M334.5,74.8V90.6M335.5,84.1V94.2M336.5,82.2V101.8M337.5,89.4V105.4M338.5,95.3V112.1M339.5,98.7V110.0M340.5,99.0V115.7M341.5,102.3V110.8M342.5,96.8V114.1M343.5,98.9V108.6M344.5,96.1V110.3M345.5,95.0V105.7M346.5,93.5V109.9M347.5,93.1V101.2M348.5,92.7V100.1M349.5,89.9V104.5M350.5,88.2V103.0M351.5,87.3V97.0M352.5,84.8V95.8M353.5,87.1V98.7M354.5,84.7V97.4M355.5,84.4V96.6M356.5,84.2V95.9M357.5,83.7V95.8M358.5,80.8V94.8M359.5,80.6V94.2M360.5,83.1V94.0M361.5,80.4V90.5M362.5,82.9V93.4M363.5,81.5V94.2M364.5,77.9V94.1M365.5,81.9V97.1M366.5,82.1V93.0M367.5,82.1V92.9M368.5,84.3V93.5M369.5,84.5V94.2M370.5,81.3V92.0M371.5,77.6V91.8M372.5,80.9V91.1M373.5,79.5V96.3M374.5,84.0V99.8M375.5,80.7V92.4M376.5,80.6V97.3M377.5,82.1V95.0M378.5,81.0V89.5M379.5,82.9V89.3M380.5,83.0V89.3M381.5,80.0V89.3M382.5,82.1V94.0M383.5,82.7V89.0M384.5,82.9V89.3M385.5,83.2V89.3M386.5,82.2V92.6M387.5,80.2V93.2M388.5,78.7V89.8M389.5,82.3V89.6M390.5,77.7V93.5M391.5,77.1V88.6M392.5,76.8V92.9M393.5,77.7V90.4M394.5,76.0V90.4M395.5,78.8V90.1M396.5,80.2V88.3M397.5,80.5V88.3M398.5,80.3V89.9M399.5,80.7V90.1M400.5,78.7V90.8M401.5,80.4V93.4M402.5,80.2V95.7M403.5,79.9V93.1M404.5,77.2V94.3M405.5,77.1V94.2M406.5,79.8V96.5M407.5,82.0V91.0M408.5,82.1V96.5M409.5,79.1V90.6M410.5,79.7V88.2M411.5,81.4V88.6M412.5,81.1V89.4M413.5,80.5V97.4M414.5,79.9V91.8M415.5,80.5V94.3M416.5,78.8V94.0M417.5,77.1V109.6M418.5,101.5V114.6M419.5,101.4V111.1M420.5,100.8V109.0M421.5,101.7V112.4M422.5,101.9V109.8M423.5,96.8V119.0M424.5,93.1V108.7M425.5,88.9V102.6M426.5,88.6V100.6M427.5,89.3V106.5M428.5,89.3V96.5M429.5,88.3V97.7M430.5,87.5V94.2M431.5,83.2V95.1M432.5,82.6V94.7M433.5,83.6V91.7M434.5,83.2V91.2M435.5,81.4V94.9M436.5,85.4V96.7M437.5,83.2V96.5M438.5,80.5V98.9M439.5,80.1V98.7M440.5,82.0V89.9M441.5,81.7V89.2M442.5,82.4V90.2M443.5,82.4V94.0M444.5,76.6V90.2M445.5,79.1V87.9M446.5,74.9V88.0M447.5,74.9V88.0M448.5,81.1V90.1M449.5,81.0V88.5M450.5,81.0V89.3M451.5,82.6V90.2M452.5,77.1V91.5M453.5,78.8V91.5M454.5,75.8V91.1M455.5,77.6V88.8M456.5,76.7V88.7M457.5,79.6V88.1M458.5,79.6V90.6M459.5,78.5V88.0M460.5,79.3V90.8M461.5,79.3V92.5M462.5,79.4V88.8M463.5,78.0V93.4M464.5,76.7V86.1M465.5,77.8V85.0M466.5,73.2V85.0M467.5,75.9V85.1M468.5,78.9V86.4M469.5,79.2V87.4M470.5,80.0V87.4M471.5,76.9V87.4M472.5,79.5V90.1M473.5,77.7V89.6M474.5,77.8V92.5M475.5,79.4V93.0M476.5,80.9V87.3M477.5,78.9V89.4M478.5,77.6V86.9M479.5,77.6V86.4M480.5,77.8V86.6M481.5,78.2V90.0M482.5,81.3V91.0M483.5,80.9V86.7M484.5,80.1V88.8M485.5,78.6V92.3M486.5,77.7V93.7M487.5,77.9V97.9M488.5,76.0V92.5M489.5,75.8V88.8M490.5,75.3V88.7M491.5,79.1V88.4M492.5,72.8V87.0M493.5,77.0V87.4M494.5,80.7V86.3M495.5,76.2V89.4M496.5,77.5V89.2M497.5,77.6V89.3M498.5,79.6V88.4M499.5,80.3V88.5M500.5,75.2V93.0M501.5,75.2V89.8M502.5,77.2V87.8M503.5,79.7V89.3M504.5,76.8V86.9M505.5,78.9V86.6M506.5,80.4V91.0M507.5,80.4V91.0M508.5,76.4V92.8M509.5,76.5V94.2M510.5,78.7V88.8M511.5,79.2V89.2M512.5,76.4V88.1M513.5,80.6V88.5M514.5,78.5V89.7M515.5,81.9V87.7M516.5,81.4V90.8M517.5,81.9V87.8M518.5,79.5V87.2M519.5,78.1V87.2M520.5,78.0V90.5M521.5,78.0V89.9M522.5,78.0V94.2M523.5,78.7V90.3M524.5,79.9V89.6M525.5,80.1V89.6M526.5,75.8V88.8M527.5,79.9V89.0M528.5,76.7V89.2M529.5,80.9V89.5M530.5,81.5V92.7M531.5,80.5V93.1M532.5,78.9V89.9M533.5,78.8V94.0M534.5,80.7V89.6M535.5,80.9V89.6M536.5,80.8V89.6M537.5,80.5V94.2M538.5,80.4V92.6M539.5,80.9V87.0M540.5,81.5V88.5M541.5,79.2V90.5M542.5,81.1V93.8M543.5,81.6V89.9M544.5,76.1V91.0M545.5,79.7V90.9M546.5,79.6V90.9M547.5,81.0V87.6M548.5,77.4V91.9M549.5,79.8V87.6M550.5,80.1V87.6M551.5,78.0V88.8M552.5,78.0V88.5M553.5,80.8V93.3M554.5,77.3V90.7M555.5,79.9V90.3M556.5,79.6V93.1M557.5,76.8V91.0M558.5,77.7V86.8M559.5,74.2V87.1M560.5,81.3V91.1M561.5,81.4V96.2M562.5,80.9V91.0M563.5,75.0V90.2M564.5,75.0V90.2M565.5,77.3V93.4M566.5,80.9V98.6M567.5,76.9V87.6M568.5,79.6V88.0M569.5,78.0V89.3M570.5,79.2V89.1M571.5,77.0V89.1M572.5,80.7V102.0M573.5,84.4V95.0M574.5,86.5V92.6M575.5,85.8V91.7M576.5,84.2V91.9M577.5,83.5V91.7M578.5,80.0V91.0M579.5,82.8V92.1M580.5,82.4V90.2M581.5,81.5V89.5M582.5,78.7V92.4M583.5,79.9V90.9M584.5,81.6V90.9M585.5,83.1V90.8M586.5,83.1V90.3M587.5,82.4V90.4M588.5,80.5V96.0M589.5,78.2V94.1M590.5,81.8V91.1M591.5,80.7V89.7M592.5,77.5V89.4M593.5,79.5V87.5M594.5,79.5V87.3M595.5,79.0V88.9M596.5,79.0V85.8M597.5,76.2V88.5M598.5,77.4V88.3M599.5,78.5V95.9M600.5,77.2V91.3M601.5,77.6V91.7M602.5,78.0V92.1M603.5,80.8V93.6M604.5,80.8V97.6M605.5,79.8V88.6M606.5,79.7V87.8M607.5,81.6V88.0M608.5,81.6V90.4M609.5,80.1V90.6M610.5,79.6V90.5M611.5,79.6V90.4M612.5,79.9V101.6M613.5,77.7V97.8M614.5,80.1V96.0M615.5,77.7V89.3M616.5,81.2V88.5M617.5,80.7V95.2M618.5,78.5V100.0M619.5,80.9V95.0M620.5,78.6V87.5M621.5,78.2V90.5M622.5,79.0V93.2M623.5,79.0V92.3M624.5,75.3V90.7M625.5,81.1V88.6M626.5,79.0V88.6M627.5,80.5V89.6M628.5,80.3V93.4M629.5,80.3V90.1M630.5,80.4V90.4M631.5,80.8V95.2M632.5,81.0V96.8M633.5,79.7V90.5M634.5,79.7V89.9M635.5,75.8V90.0M636.5,78.9V92.6M637.5,79.1V92.6M638.5,80.4V94.3M639.5,80.3V94.7M640.5,78.1V87.1M641.5,78.1V90.1M642.5,79.2V86.8M643.5,75.1V86.8M644.5,79.0V86.8M645.5,79.0V90.2M646.5,74.4V90.0M647.5,76.8V86.0M648.5,74.8V88.5M649.5,74.8V87.4M650.5,75.4V86.0M651.5,78.2V85.6M652.5,77.5V92.6M653.5,77.5V87.4M654.5,74.5V87.3M655.5,76.9V87.7M656.5,76.9V87.8M657.5,73.5V94.1M658.5,72.6V84.9M659.5,78.2V87.5M660.5,77.7V89.5M661.5,77.7V86.0M662.5,77.1V87.2M663.5,78.3V85.4M664.5,78.3V88.1M665.5,74.6V92.3M666.5,78.0V87.6M667.5,77.7V87.0M668.5,77.1V86.8M669.5,72.6V83.7M670.5,72.0V83.4M671.5,72.0V82.7M672.5,73.0V89.2M673.5,72.6V83.9M674.5,73.2V88.6M675.5,72.9V86.7M676.5,73.1V82.3M677.5,74.1V82.8M678.5,73.1V85.7M679.5,73.3V85.9M680.5,72.8V85.9M681.5,72.8V85.3M682.5,74.5V83.2M683.5,70.4V82.8M684.5,70.1V83.9M685.5,74.1V85.6M686.5,74.1V85.7M687.5,75.9V88.0M688.5,75.8V88.0M689.5,74.8V85.6M690.5,75.0V85.6M691.5,73.6V85.6M692.5,73.6V86.1M693.5,74.8V82.2M694.5,73.4V82.4M695.5,75.0V82.4M696.5,76.4V86.1M697.5,74.9V82.8M698.5,75.2V86.9M699.5,75.5V88.0M700.5,78.0V85.4M701.5,75.2V85.4M702.5,77.6V85.2M703.5,71.3V89.7M704.5,73.2V86.3M705.5,69.1V85.8M706.5,72.4V83.2M707.5,67.5V83.1M708.5,71.8V82.6M709.5,73.5V82.1M710.5,73.4V81.5M711.5,73.4V82.1M712.5,76.3V84.7M713.5,76.5V87.9M714.5,75.2V88.3M715.5,75.6V83.1M716.5,76.0V85.9M717.5,75.8V85.9M718.5,73.9V84.8M719.5,74.2V89.1M720.5,74.7V84.9M721.5,76.2V85.1M722.5,77.7V88.1M723.5,73.6V90.5M724.5,77.7V91.1M725.5,75.4V86.4M726.5,78.0V87.7M727.5,75.4V84.9M728.5,75.9V84.9M729.5,75.9V90.4M730.5,79.9V86.4M731.5,78.1V86.9M732.5,74.5V92.8M733.5,78.8V91.5M734.5,79.0V89.0M735.5,76.3V91.4M736.5,75.8V91.7M737.5,76.4V90.9M738.5,79.5V86.6M739.5,79.6V86.7M740.5,75.8V86.0M741.5,78.6V85.5M742.5,76.3V89.7M743.5,78.4V87.6M744.5,76.4V90.9M745.5,73.2V90.9M746.5,72.7V84.4M747.5,74.3V84.0M748.5,78.5V87.1M749.5,78.9V85.4M750.5,75.2V85.0M751.5,76.4V86.8M752.5,76.6V87.3M753.5,75.4V85.9M754.5,76.2V87.2M755.5,76.3V91.5M756.5,73.5V92.6M757.5,73.7V88.8M758.5,75.3V94.6M759.5,74.9V91.2M760.5,74.5V90.7M761.5,78.0V87.3M762.5,77.2V88.1M763.5,70.8V86.1M764.5,78.9V89.2M765.5,79.1V89.2M766.5,75.3V85.9M767.5,75.3V85.4M768.5,76.9V91.0M769.5,77.2V86.0M770.5,78.8V91.2M771.5,78.9V86.7M772.5,78.4V85.9M773.5,78.3V88.1M774.5,77.4V86.3M775.5,77.4V87.0M776.5,78.6V87.7M777.5,78.7V86.5M778.5,77.1V88.0M779.5,76.1V86.5M780.5,78.4V86.5M781.5,79.7V87.7M782.5,78.9V89.6M783.5,76.3V90.0M784.5,79.9V89.2M785.5,79.9V88.9M786.5,80.2V88.9M787.5,78.6V89.4M788.5,78.6V88.7M789.5,79.7V91.6M790.5,80.2V93.6M791.5,79.7V91.1M792.5,80.9V98.5M793.5,84.6V102.4M794.5,86.2V98.5M795.5,82.9V93.4M796.5,82.6V94.0M797.5,81.5V91.8M798.5,82.3V92.5M799.5,82.0V90.7M800.5,78.0V88.7M801.5,78.4V87.8M802.5,80.6V89.5M803.5,78.7V89.1M804.5,76.7V87.2M805.5,80.7V87.3M806.5,81.0V87.4M807.5,80.7V87.5M808.5,79.1V90.4M809.5,79.1V91.7M810.5,79.3V94.1M811.5,79.0V90.9M812.5,78.7V90.4M813.5,78.3V93.6M814.5,77.7V90.8M815.5,75.9V86.9M816.5,75.8V86.9M817.5,77.5V88.4M818.5,78.6V92.8M819.5,77.6V85.6M820.5,75.7V85.7M821.5,78.0V86.6M822.5,78.3V91.1M823.5,75.5V104.6M824.5,89.5V103.9M825.5,90.5V99.2M826.5,86.5V97.2M827.5,87.0V96.8M828.5,85.9V93.6M829.5,82.2V95.4M830.5,84.1V96.5M831.5,83.3V94.4M832.5,77.2V90.6M833.5,80.9V88.9M834.5,80.5V90.6M835.5,79.8V92.9M836.5,80.6V91.0M837.5,82.3V91.5M838.5,81.6V91.4M839.5,81.0V90.7M840.5,79.1V90.6M841.5,79.3V90.9M842.5,81.0V90.0M843.5,77.8V89.8M844.5,77.5V89.2M845.5,79.2V90.9M846.5,81.7V93.5M847.5,79.5V88.0M848.5,79.1V88.0M849.5,78.6V87.3M850.5,80.6V89.8M851.5,80.6V94.3M852.5,80.1V87.9M853.5,80.2V87.9M854.5,78.6V93.7M855.5,78.1V88.6M856.5,78.0V85.6M857.5,78.0V89.4M858.5,78.1V87.9M859.5,79.1V88.7M860.5,77.1V88.3M861.5,76.6V88.0M862.5,73.9V88.0M863.5,78.0V86.4M864.5,78.0V89.9M865.5,74.6V90.4M866.5,77.0V90.0M867.5,76.9V89.2M868.5,72.9V87.9M869.5,76.6V84.2M870.5,74.1V82.7M871.5,74.1V84.4M872.5,73.2V85.8M873.5,69.0V83.2M874.5,68.9V82.9M875.5,75.2V86.2M876.5,75.4V85.3M877.5,72.3V85.4M878.5,69.2V85.2M879.5,77.8V83.9M880.5,74.7V90.4M881.5,81.1V93.7M882.5,83.8V93.7M883.5,77.4V91.6M884.5,80.2V90.4M885.5,74.9V89.6M886.5,81.4V91.0M887.5,80.8V90.4M888.5,80.8V91.6M889.5,79.5V87.7M890.5,77.9V88.0M891.5,79.1V87.6M892.5,78.6V87.4M893.5,79.3V88.4M894.5,70.6V86.8M895.5,73.0V91.3M896.5,77.3V86.5M897.5,76.5V84.1M898.5,71.2V86.3M899.5,75.5V86.4M900.5,73.0V85.6M901.5,76.5V85.4M902.5,71.2V83.6M903.5,72.0V89.3M904.5,73.0V84.0M905.5,76.9V86.3M906.5,76.9V84.0M907.5,77.5V83.9M908.5,77.5V83.8M909.5,76.0V84.3M910.5,74.3V83.3M911.5,74.4V83.7M912.5,76.6V84.3M913.5,76.1V84.7M914.5,78.2V87.7M915.5,78.2V86.5M916.5,78.2V86.7M917.5,77.5V86.3M918.5,77.5V86.5M919.5,76.5V89.8M920.5,77.3V86.8M921.5,73.8V86.8M922.5,76.9V87.3M923.5,76.3V84.5M924.5,74.9V87.9M925.5,77.6V87.9M926.5,77.6V87.9M927.5,77.8V84.6M928.5,77.6V84.5M929.5,78.0V84.8M930.5,75.8V85.2M931.5,78.6V92.2M932.5,77.5V92.3M933.5,83.5V102.0M934.5,87.2V96.9M935.5,84.1V99.2M936.5,81.3V94.6M937.5,80.1V93.8M938.5,82.3V95.5M939.5,84.1V91.5M940.5,80.9V90.6M941.5,78.8V90.7M942.5,76.5V92.3M943.5,78.0V88.0M944.5,78.4V87.6M945.5,77.6V87.3M946.5,78.8V88.8M947.5,78.7V88.0M948.5,73.5V88.9M949.5,73.2V85.6M950.5,74.5V85.3M951.5,75.2V88.2M952.5,75.3V83.9M953.5,77.9V91.3M954.5,77.8V91.3M955.5,77.5V91.3M956.5,75.1V83.2M957.5,74.7V82.6M958.5,74.7V82.5M959.5,75.7V82.1M960.5,72.2V85.1M961.5,75.8V83.2M962.5,74.1V82.6M963.5,74.4V82.0M964.5,71.4V80.5M965.5,71.1V80.1M966.5,69.1V81.5M967.5,71.4V83.7M968.5,70.0V85.8M969.5,66.4V85.7M970.5,69.7V85.8M971.5,71.6V81.4M972.5,72.0V82.0M973.5,74.0V85.4M974.5,74.6V81.7M975.5,72.4V81.7M976.5,72.4V83.3M977.5,72.1V81.6M978.5,68.2V81.3M979.5,72.0V80.0M980.5,72.6V82.2M981.5,72.7V79.9M982.5,70.3V80.1M983.5,69.5V79.3M984.5,69.5V84.5M985.5,70.9V81.9M986.5,70.9V82.4M987.5,71.7V82.9M988.5,71.4V83.6M989.5,72.9V84.2M990.5,73.0V80.8M991.5,72.7V80.7M992.5,74.2V84.0M993.5,74.5V89.2M994.5,74.5V83.9M995.5,74.5V80.4M996.5,74.5V80.2M997.5,71.1V80.1M998.5,70.7V85.2M999.5,70.9V80.7M1000.5,72.9V80.8M1001.5,74.1V82.5M1002.5,74.0V82.5M1003.5,74.0V82.6M1004.5,73.0V85.1M1005.5,71.1V85.3M1006.5,73.9V80.4M1007.5,73.9V80.6M1008.5,73.7V80.6M1009.5,70.0V84.5M1010.5,74.0V85.5M1011.5,74.0V81.7M1012.5,72.8V83.0M1013.5,69.2V83.2M1014.5,72.9V88.5M1015.5,73.1V85.4M1016.5,73.2V85.4M1017.5,71.8V81.2M1018.5,72.1V81.3M1019.5,72.5V84.9M1020.5,69.0V85.1M1021.5,74.6V86.7M1022.5,72.6V82.4M1023.5,70.2V82.9M1024.5,74.3V88.0M1025.5,74.4V84.4M1026.5,72.8V89.2M1027.5,72.6V82.0M1028.5,72.7V86.7M1029.5,72.7V86.6M1030.5,76.5V84.3M1031.5,76.7V84.3M1032.5,70.5V83.8M1033.5,73.7V83.8M1034.5,75.8V86.8M1035.5,76.6V88.7M1036.5,74.0V86.9M1037.5,78.4V88.6M1038.5,77.9V87.8M1039.5,76.6V83.6M1040.5,76.6V83.4M1041.5,76.8V83.4M1042.5,77.4V85.4M1043.5,75.3V83.1M1044.5,74.4V84.6M1045.5,74.1V84.0M1046.5,72.4V86.2M1047.5,76.1V86.3M1048.5,75.8V82.9M1049.5,76.0V82.5M1050.5,75.5V82.2M1051.5,69.1V82.0M1052.5,72.3V82.0M1053.5,68.5V81.8M1054.5,74.3V83.6M1055.5,72.1V81.1M1056.5,72.1V83.6M1057.5,69.3V82.0M1058.5,71.9V82.0M1059.5,72.4V83.2M1060.5,72.7V82.7M1061.5,72.7V82.4M1062.5,72.5V82.4M1063.5,73.8V87.4M1064.5,73.8V86.0" fill="none" stroke="#141414" stroke-width="1" shape-rendering="crispEdges"/>
<path d="M163.5,187.2V199.4M164.5,183.3V199.7M165.5,188.5V200.6M166.5,186.3V206.6M167.5,187.8V201.4M168.5,189.7V201.4M169.5,189.8V200.0M170.5,190.8V200.9M171.5,190.8V201.0M172.5,185.5V201.7M173.5,186.6V204.8M174.5,189.5V198.7M175.5,189.4V201.7M176.5,191.9V203.3M177.5,191.0V200.0M178.5,191.2V202.0M179.5,192.8V199.9M180.5,193.4V199.9M181.5,190.7V200.0M182.5,193.0V200.1M183.5,193.4V206.7M184.5,194.1V204.6M185.5,194.5V201.9M186.5,194.4V201.7M187.5,194.4V202.2M188.5,190.8V206.2M189.5,194.0V200.7M190.5,193.6V203.4M191.5,191.6V201.3M192.5,191.6V201.3M193.5,193.3V205.5M194.5,189.5V206.2M195.5,187.1V202.7M196.5,193.2V202.7M197.5,193.1V202.4M198.5,192.2V206.7M199.5,192.2V207.0M200.5,191.7V200.8M201.5,190.9V200.5M202.5,189.5V202.0M203.5,189.5V201.8M204.5,189.5V201.8M205.5,190.2V199.9M206.5,187.9V198.6M207.5,187.0V202.8M208.5,190.2V202.8M209.5,188.8V202.3M210.5,190.1V202.4M211.5,191.6V207.8M212.5,190.4V203.0M213.5,191.4V203.0M214.5,192.7V204.8M215.5,192.8V205.1M216.5,193.0V205.1M217.5,193.4V205.3M218.5,193.5V202.3M219.5,192.0V201.4M220.5,188.0V201.1M221.5,193.2V243.6M222.5,212.7V223.7M223.5,211.3V219.9M224.5,209.7V222.5M225.5,205.9V219.5M226.5,206.0V219.9M227.5,205.0V221.0M228.5,204.9V215.1M229.5,204.1V214.2M230.5,206.5V214.5M231.5,205.8V219.2M232.5,201.4V215.1M233.5,203.6V211.2M234.5,198.3V209.8M235.5,201.1V208.6M236.5,200.8V207.9M237.5,200.2V207.4M238.5,199.0V208.8M239.5,198.2V208.8M240.5,198.5V210.4M241.5,194.8V208.5M242.5,198.7V206.5M243.5,198.5V211.7M244.5,195.2V208.8M245.5,196.6V206.5M246.5,197.5V206.4M247.5,196.9V206.1M248.5,196.9V205.8M249.5,196.6V204.6M250.5,196.9V209.3M251.5,193.7V211.9M252.5,195.9V205.3M253.5,195.7V205.9M254.5,195.8V205.9M255.5,194.3V207.4M256.5,196.9V207.4M257.5,195.7V202.9M258.5,193.8V206.6M259.5,195.0V205.8M260.5,194.5V205.8M261.5,194.4V205.2M262.5,193.2V209.8M263.5,191.5V203.7M264.5,189.7V207.6M265.5,193.9V206.1M266.5,193.9V203.9M267.5,189.8V204.2M268.5,193.8V202.0M269.5,193.6V203.2M270.5,193.3V202.2M271.5,193.3V202.0M272.5,189.7V202.0M273.5,190.2V201.2M274.5,191.9V203.1M275.5,189.2V200.0M276.5,188.9V205.1M277.5,188.9V203.0M278.5,192.1V199.2M279.5,191.6V204.2M280.5,191.0V207.2M281.5,180.9V197.7M282.5,184.8V197.0M283.5,184.8V202.0M284.5,189.5V199.6M285.5,189.5V203.1M286.5,189.0V198.3M287.5,188.2V197.5M288.5,188.4V197.3M289.5,188.5V197.3M290.5,186.7V196.5M291.5,185.3V195.7M292.5,185.8V197.9M293.5,185.2V197.8M294.5,186.6V202.8M295.5,186.6V203.1M296.5,187.6V199.1M297.5,190.8V204.7M298.5,186.8V199.5M299.5,184.7V200.8M300.5,188.9V201.4M301.5,191.2V203.4M302.5,186.2V199.6M303.5,192.4V201.5M304.5,193.0V202.8M305.5,193.9V202.1M306.5,193.9V202.7M307.5,194.6V203.3M308.5,192.1V205.6M309.5,194.2V205.3M310.5,193.9V205.3M311.5,192.9V205.7M312.5,194.6V205.9M313.5,193.8V205.5M314.5,191.7V200.1M315.5,192.1V202.6M316.5,191.4V202.0M317.5,190.6V201.3M318.5,190.5V202.1M319.5,187.5V200.8M320.5,186.7V197.6M321.5,185.7V196.8M322.5,185.6V195.4M323.5,185.1V195.3M324.5,184.8V194.8M325.5,183.6V194.3M326.5,185.1V193.2M327.5,182.9V194.9M328.5,184.7V192.9M329.5,186.0V194.0M330.5,186.0V194.4M331.5,184.7V194.7M332.5,184.7V195.1M333.5,185.1V195.2M334.5,187.0V194.8M335.5,187.8V195.0M336.5,183.0V197.1M337.5,186.0V197.4M338.5,188.0V194.6M339.5,187.9V197.8M340.5,184.9V194.2M341.5,184.9V195.5M342.5,187.1V201.8M343.5,185.3V195.8M344.5,185.7V194.1M345.5,188.0V199.1M346.5,186.5V195.8M347.5,186.2V197.6M348.5,186.7V198.0M349.5,188.4V203.0M350.5,189.6V197.8M351.5,188.0V199.5M352.5,188.3V199.9M353.5,189.3V201.8M354.5,186.4V199.1M355.5,186.8V199.5M356.5,186.1V199.6M357.5,190.7V199.7M358.5,190.5V201.6M359.5,190.5V201.6M360.5,190.8V205.9M361.5,190.9V202.5M362.5,190.9V202.3M363.5,187.3V204.2M364.5,191.9V202.0M365.5,192.0V202.5M366.5,186.7V201.4M367.5,191.1V201.2M368.5,188.4V202.2M369.5,190.5V202.4M370.5,188.9V207.4M371.5,188.9V202.6M372.5,191.2V201.8M373.5,188.8V204.7M374.5,191.6V201.7M375.5,191.6V202.0M376.5,192.0V202.1M377.5,194.1V201.7M378.5,190.6V205.6M379.5,195.0V202.2M380.5,193.1V201.4M381.5,193.0V201.3M382.5,190.5V202.6M383.5,190.5V206.3M384.5,191.2V201.3M385.5,193.1V201.1M386.5,193.4V201.1M387.5,193.7V202.1M388.5,194.3V202.5M389.5,193.3V206.3M390.5,192.4V204.0M391.5,191.5V204.1M392.5,192.4V206.6M393.5,194.7V209.4M394.5,192.8V203.2M395.5,191.0V205.6M396.5,190.4V205.3M397.5,192.0V203.5M398.5,192.7V203.3M399.5,192.7V202.7M400.5,194.3V204.8M401.5,194.6V201.5M402.5,189.0V216.3M403.5,192.9V211.1M404.5,193.4V215.8M405.5,194.8V203.3M406.5,191.6V203.3M407.5,194.7V203.4M408.5,189.5V207.6M409.5,192.3V207.6M410.5,194.4V206.3M411.5,194.6V207.0M412.5,189.6V206.4M413.5,192.3V203.2M414.5,192.3V205.2M415.5,196.2V202.3M416.5,196.1V202.1M417.5,195.6V205.8M418.5,193.2V204.9M419.5,189.5V204.9M420.5,189.5V226.7M421.5,195.0V218.6M422.5,199.9V218.6M423.5,207.3V220.9M424.5,207.0V217.4M425.5,207.9V215.7M426.5,207.5V217.8M427.5,206.3V214.3M428.5,203.8V214.0M429.5,206.7V213.3M430.5,201.4V217.7M431.5,201.4V213.2M432.5,201.3V213.2M433.5,204.1V212.5M434.5,203.3V212.1M435.5,201.8V211.5M436.5,199.9V213.7M437.5,200.7V214.8M438.5,197.6V209.4M439.5,201.4V208.9M440.5,200.1V209.0M441.5,200.1V208.1M442.5,200.1V207.7M443.5,200.1V207.1M444.5,200.1V207.1M445.5,199.1V206.6M446.5,199.0V211.7M447.5,194.7V209.1M448.5,194.9V209.1M449.5,194.4V209.0M450.5,199.4V208.6M451.5,199.4V250.7M452.5,237.1V250.7M453.5,230.5V244.0M454.5,226.6V240.2M455.5,221.3V238.4M456.5,219.2V233.0M457.5,217.3V233.2M458.5,215.2V231.6M459.5,214.3V225.7M460.5,212.3V223.6M461.5,208.7V224.3M462.5,210.1V232.0M463.5,207.9V219.9M464.5,204.4V219.0M465.5,204.6V217.7M466.5,204.3V216.2M467.5,201.7V214.5M468.5,202.8V219.5M469.5,202.7V218.7M470.5,203.2V212.4M471.5,202.5V217.6M472.5,201.5V210.2M473.5,196.9V209.9M474.5,199.0V213.2M475.5,198.9V213.1M476.5,194.8V210.5M477.5,197.1V210.3M478.5,200.9V213.5M479.5,200.5V209.5M480.5,200.6V212.6M481.5,197.3V209.4M482.5,198.2V209.3M483.5,195.9V208.2M484.5,197.3V205.5M485.5,195.8V210.6M486.5,196.3V206.1M487.5,197.2V207.1M488.5,196.6V206.9M489.5,193.6V206.7M490.5,195.1V206.1M491.5,195.0V203.7M492.5,196.1V211.2M493.5,195.5V207.3M494.5,195.0V206.6M495.5,194.1V207.1M496.5,192.0V207.0M497.5,191.8V203.4M498.5,192.7V207.9M499.5,193.3V202.4M500.5,189.8V202.8M501.5,194.0V204.1M502.5,192.6V210.9M503.5,189.5V209.2M504.5,191.0V208.9M505.5,194.6V205.3M506.5,191.4V204.1M507.5,187.9V204.1M508.5,190.2V203.0M509.5,193.1V206.3M510.5,189.7V204.0M511.5,190.8V200.8M512.5,186.6V200.1M513.5,191.4V199.9M514.5,190.6V199.8M515.5,190.5V199.0M516.5,190.5V198.6M517.5,191.0V202.4M518.5,190.5V201.9M519.5,186.7V200.4M520.5,191.3V198.1M521.5,190.0V202.4M522.5,191.1V199.3M523.5,191.2V199.3M524.5,190.5V197.4M525.5,186.7V200.6M526.5,188.3V200.6M527.5,188.7V200.6M528.5,187.1V198.5M529.5,181.4V197.5M530.5,187.4V197.2M531.5,187.8V197.3M532.5,187.3V198.3M533.5,190.0V196.6M534.5,187.9V196.6M535.5,189.7V196.4M536.5,186.0V198.5M537.5,186.5V199.7M538.5,186.5V196.8M539.5,186.5V198.1M540.5,188.2V196.3M541.5,187.9V199.0M542.5,187.7V199.0M543.5,187.7V199.3M544.5,189.4V198.9M545.5,190.1V199.3M546.5,190.1V199.1M547.5,190.1V202.3M548.5,188.7V199.4M549.5,187.6V198.7M550.5,190.1V196.9M551.5,190.5V197.5M552.5,188.3V202.7M553.5,190.2V203.0M554.5,190.1V201.3M555.5,190.1V201.8M556.5,188.2V200.3M557.5,186.6V199.6M558.5,186.6V199.8M559.5,188.8V202.2M560.5,185.2V204.1M561.5,190.7V199.4M562.5,191.3V199.5M563.5,191.4V199.5M564.5,191.9V199.8M565.5,187.0V204.1M566.5,190.8V202.7M567.5,189.9V199.6M568.5,189.6V199.4M569.5,189.4V204.0M570.5,190.3V199.4M571.5,186.8V199.3M572.5,189.0V205.2M573.5,189.6V204.9M574.5,186.9V201.6M575.5,192.1V202.4M576.5,189.7V205.0M577.5,192.6V203.4M578.5,192.1V201.9M579.5,191.2V201.5M580.5,191.2V200.9M581.5,191.2V204.7M582.5,189.7V200.8M583.5,192.1V204.0M584.5,193.4V203.3M585.5,188.6V202.5M586.5,189.1V202.7M587.5,189.2V208.6M588.5,193.9V202.4M589.5,194.2V202.4M590.5,194.2V202.1M591.5,191.7V200.9M592.5,194.7V201.1M593.5,192.4V208.5M594.5,192.6V205.1M595.5,192.2V201.5M596.5,192.0V200.6M597.5,191.0V202.3M598.5,190.7V205.1M599.5,193.0V205.1M600.5,193.3V205.4M601.5,192.1V205.7M602.5,188.0V201.2M603.5,193.1V209.0M604.5,193.7V202.3M605.5,185.0V201.3M606.5,192.4V199.6M607.5,189.7V199.4M608.5,188.0V204.3M609.5,190.3V204.3M610.5,190.2V203.6M611.5,192.5V203.4M612.5,192.2V199.0M613.5,192.2V204.6M614.5,192.7V199.4M615.5,192.3V201.5M616.5,189.0V201.5M617.5,189.3V201.6M618.5,191.7V203.3M619.5,192.5V200.1M620.5,192.1V199.1M621.5,191.3V203.9M622.5,190.4V202.4M623.5,184.1V201.2M624.5,191.0V201.3M625.5,191.6V201.9M626.5,191.2V198.8M627.5,191.5V198.5M628.5,191.5V203.5M629.5,189.8V199.4M630.5,186.1V205.3M631.5,190.7V200.4M632.5,192.0V200.5M633.5,189.1V199.6M634.5,188.7V198.9M635.5,189.2V208.5M636.5,188.8V204.9M637.5,187.4V202.6M638.5,189.9V203.2M639.5,190.5V197.4M640.5,188.3V197.3M641.5,190.6V197.5M642.5,184.3V201.4M643.5,188.6V201.4M644.5,188.6V201.7M645.5,190.3V200.0M646.5,191.1V200.0M647.5,189.0V199.9M648.5,192.0V202.5M649.5,188.0V201.1M650.5,190.7V202.0M651.5,191.2V201.9M652.5,188.7V204.3M653.5,184.2V204.3M654.5,186.8V197.3M655.5,190.2V202.1M656.5,191.3V205.1M657.5,191.4V200.0M658.5,190.4V199.2M659.5,188.4V198.1M660.5,189.3V199.7M661.5,191.4V204.5M662.5,188.7V203.3M663.5,187.7V201.2M664.5,190.9V201.2M665.5,187.0V197.5M666.5,187.3V203.9M667.5,189.2V199.1M668.5,185.9V201.0M669.5,187.8V206.7M670.5,189.0V202.8M671.5,191.8V208.2M672.5,190.5V199.2M673.5,190.5V203.6M674.5,190.8V199.4M675.5,188.1V199.1M676.5,191.4V198.7M677.5,189.4V200.1M678.5,189.4V200.2M679.5,187.3V199.8M680.5,187.4V204.1M681.5,190.1V200.4M682.5,192.3V203.2M683.5,189.4V200.5M684.5,191.8V200.9M685.5,192.9V200.8M686.5,191.3V200.8M687.5,193.7V201.0M688.5,193.1V200.4M689.5,190.8V203.2M690.5,193.0V203.2M691.5,190.7V210.8M692.5,190.8V212.4M693.5,192.0V200.4M694.5,191.4V200.0M695.5,191.2V199.4M696.5,192.7V207.4M697.5,194.7V220.6M698.5,198.6V215.0M699.5,204.7V212.7M700.5,201.9V215.6M701.5,201.3V213.7M702.5,200.8V208.7M703.5,199.7V208.0M704.5,196.3V206.5M705.5,198.6V209.3M706.5,193.7V205.5M707.5,191.6V211.4M708.5,194.6V210.7M709.5,193.4V213.0M710.5,191.0V212.3M711.5,193.6V206.2M712.5,194.7V205.1M713.5,195.8V206.9M714.5,195.8V209.7M715.5,192.0V204.4M716.5,193.3V206.0M717.5,194.6V205.7M718.5,187.3V203.5M719.5,189.3V203.5M720.5,191.5V206.4M721.5,187.1V208.5M722.5,190.9V207.7M723.5,191.3V204.3M724.5,191.4V204.4M725.5,192.3V202.8M726.5,191.7V201.5M727.5,192.3V202.8M728.5,193.1V211.1M729.5,194.0V210.4M730.5,194.0V204.6M731.5,189.3V202.4M732.5,189.2V202.2M733.5,190.6V207.7M734.5,194.0V203.3M735.5,193.3V201.5M736.5,188.6V203.3M737.5,194.0V201.7M738.5,191.9V207.5M739.5,191.8V204.6M740.5,192.7V201.4M741.5,194.2V203.0M742.5,195.3V205.0M743.5,190.3V202.2M744.5,195.3V203.1M745.5,191.7V203.3M746.5,191.1V203.3M747.5,195.5V203.9M748.5,195.3V203.8M749.5,196.0V206.3M750.5,190.2V205.2M751.5,194.4V204.9M752.5,196.6V205.2M753.5,196.5V205.2M754.5,194.4V203.8M755.5,194.6V204.0M756.5,194.8V204.0M757.5,197.3V205.1M758.5,197.3V204.9M759.5,195.8V204.6M760.5,192.8V204.6M761.5,196.5V205.6M762.5,196.8V216.1M763.5,196.7V213.0M764.5,196.3V210.0M765.5,191.9V204.9M766.5,191.7V204.9M767.5,196.1V202.7M768.5,195.8V202.5M769.5,195.7V206.8M770.5,191.9V202.2M771.5,194.2V201.8M772.5,195.4V202.2M773.5,191.4V206.4M774.5,195.0V207.2M775.5,194.5V210.3M776.5,191.2V206.1M777.5,192.5V201.7M778.5,190.8V202.2M779.5,194.3V212.6M780.5,194.3V209.4M781.5,195.1V207.1M782.5,192.1V204.3M783.5,194.1V224.0M784.5,199.5V216.5M785.5,204.2V216.5M786.5,201.9V214.5M787.5,201.5V217.6M788.5,200.8V213.0M789.5,192.8V209.8M790.5,199.1V214.4M791.5,194.5V214.8M792.5,198.4V214.4M793.5,201.1V211.9M794.5,194.7V209.6M795.5,197.5V211.4M796.5,196.6V211.8M797.5,198.3V207.4M798.5,197.7V209.9M799.5,197.1V206.5M800.5,195.4V205.8M801.5,195.7V209.5M802.5,195.1V204.4M803.5,192.7V202.0M804.5,190.5V202.0M805.5,195.3V202.2M806.5,195.0V202.1M807.5,194.1V202.5M808.5,192.3V202.9M809.5,190.4V203.4M810.5,191.7V200.9M811.5,189.0V200.8M812.5,191.0V201.5M813.5,194.0V206.3M814.5,190.1V203.1M815.5,194.0V204.2M816.5,193.6V200.6M817.5,192.9V202.4M818.5,193.0V207.5M819.5,193.0V206.6M820.5,190.5V204.7M821.5,191.1V204.7M822.5,188.2V203.1M823.5,192.0V204.4M824.5,192.3V204.9M825.5,191.5V207.2M826.5,193.6V208.9M827.5,193.3V203.3M828.5,189.9V208.7M829.5,195.6V202.5M830.5,192.3V206.8M831.5,193.2V202.4M832.5,194.9V208.9M833.5,193.3V201.7M834.5,192.5V201.5M835.5,194.3V201.4M836.5,194.5V201.6M837.5,191.8V203.5M838.5,193.0V205.0M839.5,195.0V206.7M840.5,195.2V206.8M841.5,191.3V212.5M842.5,187.5V207.9M843.5,186.5V204.4M844.5,195.7V207.9M845.5,193.8V209.9M846.5,193.7V209.6M847.5,189.5V214.1M848.5,189.0V208.6M849.5,188.9V204.5M850.5,193.9V208.6M851.5,192.1V205.8M852.5,192.1V208.9M853.5,195.4V204.6M854.5,195.9V208.5M855.5,195.9V202.7M856.5,196.1V202.8M857.5,193.6V205.2M858.5,196.5V208.4M859.5,196.0V208.6M860.5,196.0V203.3M861.5,194.8V205.3M862.5,192.9V204.1M863.5,190.9V204.3M864.5,193.0V209.1M865.5,195.6V209.4M866.5,193.7V204.2M867.5,193.7V204.5M868.5,197.9V211.4M869.5,198.2V205.0M870.5,198.2V205.0M871.5,198.5V205.8M872.5,195.6V206.1M873.5,199.3V206.1M874.5,195.4V210.8M875.5,198.7V208.6M876.5,199.4V209.0M877.5,199.6V211.7M878.5,193.6V207.4M879.5,197.5V209.4M880.5,199.2V211.6M881.5,200.3V213.7M882.5,200.9V212.0M883.5,200.2V209.4M884.5,199.6V210.4M885.5,201.1V210.7M886.5,201.4V210.7M887.5,198.7V208.9M888.5,198.3V208.5M889.5,200.1V214.3M890.5,201.2V210.2M891.5,201.6V210.3M892.5,201.3V210.3M893.5,201.6V208.9M894.5,200.7V208.9M895.5,199.1V211.7M896.5,199.6V208.9M897.5,201.0V209.4M898.5,201.0V213.5M899.5,200.1V209.1M900.5,196.8V212.1M901.5,196.7V207.0M902.5,199.6V209.3M903.5,195.1V212.7M904.5,195.0V215.8M905.5,198.8V207.5M906.5,199.6V208.2M907.5,197.7V206.9M908.5,197.9V207.2M909.5,198.2V207.4M910.5,201.4V210.4M911.5,201.2V210.3M912.5,200.5V210.1M913.5,200.8V210.5M914.5,198.6V208.5M915.5,199.0V211.8M916.5,200.9V211.8M917.5,200.5V211.5M918.5,200.6V210.5M919.5,197.7V212.6M920.5,196.8V207.4M921.5,198.8V208.0M922.5,199.8V208.0M923.5,199.8V208.0M924.5,197.2V209.7M925.5,199.7V212.3M926.5,198.0V210.8M927.5,199.4V211.2M928.5,195.1V205.9M929.5,195.6V205.6M930.5,196.0V205.6M931.5,196.3V213.9M932.5,194.2V207.5M933.5,197.7V206.8M934.5,197.7V206.6M935.5,196.3V204.6M936.5,196.3V204.2M937.5,194.4V204.2M938.5,196.8V207.4M939.5,196.1V204.9M940.5,196.2V204.3M941.5,196.1V203.4M942.5,194.0V204.1M943.5,191.8V207.3M944.5,194.1V202.1M945.5,193.5V206.9M946.5,193.2V200.6M947.5,186.5V202.6M948.5,190.2V207.3M949.5,185.9V199.6M950.5,185.2V199.6M951.5,188.7V198.7M952.5,188.9V198.9M953.5,192.5V199.3M954.5,192.8V202.4M955.5,192.8V202.4M956.5,192.9V202.5M957.5,192.2V201.2M958.5,192.7V201.2M959.5,190.9V208.1M960.5,192.1V204.3M961.5,194.2V205.8M962.5,189.8V207.8M963.5,189.9V202.7M964.5,190.9V202.8M965.5,194.6V203.9M966.5,194.6V204.0M967.5,196.5V204.5M968.5,197.0V205.6M969.5,195.2V204.6M970.5,195.7V208.8M971.5,197.7V207.1M972.5,198.1V208.4M973.5,198.4V210.6M974.5,194.0V209.8M975.5,193.3V206.5M976.5,196.9V210.7M977.5,196.0V210.1M978.5,199.5V206.3M979.5,197.9V207.7M980.5,197.9V207.6M981.5,199.7V208.1M982.5,199.9V212.7M983.5,197.9V208.2M984.5,198.6V211.1M985.5,198.3V207.2M986.5,199.3V207.1M987.5,199.2V211.2M988.5,196.8V205.2M989.5,198.9V205.2M990.5,198.2V205.2M991.5,196.8V206.4M992.5,193.5V206.5M993.5,194.6V206.5M994.5,197.6V206.4M995.5,197.6V206.4M996.5,197.1V204.2M997.5,196.8V203.9M998.5,196.3V203.7M999.5,193.1V204.8M1000.5,192.9V204.8M1001.5,192.7V207.5M1002.5,195.5V208.1M1003.5,191.9V206.3M1004.5,191.9V203.8M1005.5,193.2V241.0M1006.5,204.9V226.5M1007.5,215.4V235.2M1008.5,217.2V232.3M1009.5,212.2V226.5M1010.5,205.5V223.0M1011.5,206.8V216.1M1012.5,195.7V213.3M1013.5,198.2V210.9M1014.5,195.4V209.4M1015.5,200.3V213.4M1016.5,197.7V206.6M1017.5,197.6V205.8M1018.5,197.4V209.8M1019.5,198.0V205.8M1020.5,197.8V205.5M1021.5,194.1V205.3M1022.5,195.4V206.2M1023.5,197.9V206.3M1024.5,198.0V205.0M1025.5,197.2V207.1M1026.5,197.3V210.1M1027.5,197.8V210.4M1028.5,197.5V206.2M1029.5,196.4V207.5M1030.5,196.6V204.1M1031.5,197.0V204.5M1032.5,193.7V209.0M1033.5,193.2V249.3M1034.5,193.2V241.0M1035.5,220.9V236.3M1036.5,223.2V232.8M1037.5,215.9V233.4M1038.5,210.3V229.4M1039.5,209.3V231.6M1040.5,214.2V228.9M1041.5,210.8V227.0M1042.5,210.1V222.0M1043.5,210.6V224.4M1044.5,208.7V216.8M1045.5,207.6V220.6M1046.5,207.8V216.1M1047.5,206.3V215.0M1048.5,202.0V215.5M1049.5,201.4V214.0M1050.5,199.4V210.3M1051.5,201.8V208.8M1052.5,201.6V208.0M1053.5,199.8V209.0M1054.5,198.9V208.6M1055.5,197.9V213.4M1056.5,198.0V209.5M1057.5,196.1V209.3M1058.5,195.4V205.6M1059.5,195.2V209.3M1060.5,195.2V208.9M1061.5,196.8V204.8M1062.5,196.1V203.9M1063.5,192.0V204.7M1064.5,195.7V210.9M1065.5,194.9V205.6M1066.5,193.4V203.4M1067.5,195.2V202.8M1068.5,195.0V202.8M1069.5,195.2V211.4M1070.5,194.9V205.6M1071.5,190.0V207.9M1072.5,191.1V204.5" fill="none" stroke="#141414" stroke-width="1" shape-rendering="crispEdges"/>
<path d="M163.5,304.2V312.2M164.5,307.6V314.3M165.5,307.8V316.5M166.5,307.8V312.5M167.5,306.7V313.8M168.5,304.3V313.6M169.5,306.2V313.3M170.5,304.9V311.7M171.5,305.7V311.4M172.5,305.9V311.5M173.5,305.9V311.9M174.5,305.4V313.2M175.5,305.0V312.7M176.5,305.0V316.5M177.5,303.1V311.9M178.5,303.0V311.8M179.5,306.2V310.4M180.5,305.8V313.2M181.5,303.6V314.4M182.5,305.1V313.8M183.5,303.0V314.0M184.5,306.0V310.3M185.5,305.5V310.0M186.5,305.1V309.6M187.5,304.8V312.4M188.5,302.6V310.4M189.5,303.1V313.1M190.5,304.8V314.5M191.5,301.7V312.9M192.5,304.3V310.3M193.5,303.5V313.8M194.5,303.8V314.7M195.5,303.7V311.8M196.5,303.8V311.9M197.5,303.6V311.9M198.5,303.6V311.6M199.5,303.9V309.2M200.5,302.3V309.3M201.5,304.4V312.7M202.5,304.2V308.5M203.5,300.7V309.8M204.5,304.3V309.7M205.5,304.7V309.8M206.5,302.0V309.8M207.5,302.0V309.6M208.5,302.1V312.9M209.5,304.6V309.0M210.5,301.9V309.3M211.5,303.7V312.6M212.5,304.4V311.8M213.5,304.4V311.9M214.5,303.9V310.1M215.5,302.2V309.3M216.5,303.8V314.6M217.5,300.7V314.8M218.5,304.7V310.0M219.5,304.7V310.0M220.5,304.8V313.2M221.5,305.0V313.8M222.5,305.0V310.8M223.5,305.3V310.8M224.5,302.9V311.4M225.5,306.4V316.4M226.5,304.4V310.3M227.5,305.6V312.1M228.5,304.4V310.7M229.5,306.5V312.3M230.5,306.3V312.3M231.5,306.3V312.3M232.5,303.4V316.9M233.5,303.1V316.9M234.5,304.8V311.2M235.5,303.8V311.2M236.5,304.9V311.3M237.5,305.8V311.8M238.5,305.7V311.8M239.5,305.2V311.4M240.5,305.3V311.4M241.5,305.3V311.4M242.5,300.1V311.2M243.5,303.6V311.6M244.5,305.8V311.0M245.5,306.5V312.9M246.5,306.3V312.9M247.5,302.8V317.7M248.5,306.6V313.4M249.5,306.6V313.3M250.5,306.5V315.6M251.5,304.2V312.4M252.5,303.4V314.6M253.5,303.8V314.8M254.5,305.4V317.7M255.5,304.4V310.9M256.5,304.4V309.5M257.5,302.1V309.8M258.5,304.0V312.0M259.5,301.3V310.4M260.5,299.3V314.8M261.5,302.2V315.2M262.5,303.8V310.1M263.5,299.3V315.2M264.5,299.7V312.0M265.5,305.6V312.2M266.5,305.0V311.8M267.5,301.3V308.9M268.5,301.3V311.5M269.5,301.4V309.1M270.5,305.2V309.3M271.5,305.2V309.2M272.5,303.5V311.8M273.5,304.7V313.7M274.5,301.7V318.0M275.5,303.7V309.6M276.5,304.9V312.1M277.5,304.8V312.1M278.5,305.0V312.4M279.5,305.2V318.0M280.5,302.8V310.5M281.5,303.6V312.2M282.5,302.1V310.1M283.5,304.5V310.0M284.5,305.0V310.0M285.5,303.8V309.8M286.5,304.0V310.1M287.5,304.2V310.1M288.5,302.8V315.2M289.5,303.3V315.4M290.5,303.5V315.7M291.5,304.3V313.1M292.5,304.6V311.9M293.5,303.4V311.9M294.5,303.7V313.4M295.5,306.5V312.2M296.5,306.7V312.3M297.5,306.9V314.8M298.5,306.9V315.2M299.5,307.5V315.3M300.5,305.5V312.9M301.5,306.7V314.6M302.5,305.0V312.0M303.5,303.1V312.2M304.5,306.5V312.3M305.5,307.1V314.6M306.5,307.1V314.9M307.5,306.7V312.8M308.5,308.3V314.5M309.5,307.1V315.7M310.5,306.0V315.5M311.5,306.0V317.8M312.5,307.3V317.8M313.5,308.8V321.7M314.5,306.9V314.0M315.5,309.8V318.7M316.5,310.0V320.0M317.5,310.5V315.9M318.5,307.1V316.9M319.5,309.8V319.3M320.5,310.0V317.3M321.5,309.7V318.0M322.5,311.5V316.9M323.5,311.5V320.1M324.5,308.5V317.0M325.5,311.2V317.0M326.5,310.9V315.6M327.5,308.6V315.6M328.5,307.9V317.5M329.5,307.8V317.2M330.5,307.8V317.4M331.5,308.0V315.7M332.5,307.2V315.6M333.5,306.4V316.0M334.5,309.0V316.0M335.5,309.0V316.0M336.5,308.0V315.4M337.5,308.0V315.3M338.5,308.2V319.9M339.5,309.2V320.4M340.5,309.4V316.5M341.5,311.3V315.9M342.5,310.9V315.8M343.5,310.9V315.4M344.5,308.2V315.0M345.5,311.3V318.9M346.5,309.7V316.5M347.5,306.8V316.5M348.5,309.4V317.2M349.5,309.4V316.9M350.5,310.2V319.9M351.5,310.5V319.4M352.5,310.7V315.6M353.5,310.8V315.8M354.5,308.6V322.6M355.5,305.6V321.6M356.5,309.2V317.6M357.5,311.2V318.8M358.5,311.5V316.1M359.5,311.5V316.2M360.5,310.4V316.3M361.5,311.3V320.1M362.5,310.7V319.6M363.5,311.4V315.7M364.5,309.5V315.4M365.5,310.8V315.2M366.5,307.6V317.8M367.5,307.3V319.3M368.5,311.0V317.2M369.5,310.8V317.0M370.5,309.3V315.5M371.5,309.3V315.9M372.5,308.0V316.9M373.5,310.7V315.4M374.5,307.6V319.1M375.5,310.5V318.7M376.5,306.1V315.7M377.5,308.6V315.4M378.5,310.0V317.0M379.5,310.1V315.8M380.5,307.9V316.5M381.5,307.9V316.3M382.5,305.8V316.3M383.5,308.8V315.3M384.5,306.9V315.3M385.5,305.2V315.9M386.5,309.1V314.5M387.5,307.0V314.5M388.5,308.9V314.4M389.5,307.3V315.6M390.5,305.1V317.7M391.5,304.8V314.1M392.5,305.7V314.0M393.5,305.7V313.5M394.5,304.8V311.9M395.5,305.0V313.5M396.5,306.5V316.2M397.5,306.4V316.1M398.5,304.1V313.0M399.5,306.7V313.2M400.5,306.9V313.4M401.5,306.1V314.9M402.5,306.3V312.3M403.5,306.6V312.1M404.5,306.6V312.3M405.5,307.0V315.8M406.5,306.6V313.4M407.5,306.7V313.5M408.5,306.6V313.5M409.5,307.2V314.0M410.5,307.2V315.8M411.5,307.3V316.1M412.5,307.6V320.6M413.5,308.6V320.0M414.5,310.2V316.9M415.5,310.1V314.1M416.5,308.3V315.8M417.5,306.9V319.6M418.5,309.9V315.9M419.5,307.7V316.2M420.5,310.3V316.3M421.5,307.2V314.5M422.5,308.9V316.9M423.5,306.4V317.3M424.5,309.4V317.7M425.5,309.1V318.5M426.5,309.3V320.9M427.5,310.9V316.5M428.5,310.5V320.2M429.5,310.5V366.4M430.5,350.1V370.3M431.5,342.7V354.7M432.5,337.7V348.7M433.5,334.7V343.8M434.5,331.4V344.6M435.5,329.0V341.7M436.5,328.7V334.7M437.5,327.3V332.9M438.5,324.1V332.2M439.5,325.8V331.1M440.5,323.9V334.1M441.5,320.6V329.0M442.5,319.7V328.3M443.5,322.6V327.8M444.5,322.1V330.0M445.5,318.2V328.1M446.5,320.7V331.3M447.5,320.6V325.9M448.5,315.6V325.9M449.5,316.7V326.8M450.5,316.6V324.6M451.5,316.4V329.0M452.5,316.6V324.0M453.5,316.1V323.6M454.5,315.6V323.6M455.5,313.6V323.1M456.5,317.7V323.3M457.5,316.3V322.5M458.5,317.0V322.1M459.5,316.6V322.1M460.5,316.8V321.8M461.5,313.1V321.8M462.5,316.5V325.1M463.5,316.2V324.7M464.5,316.2V320.4M465.5,315.7V320.2M466.5,315.4V319.6M467.5,313.0V323.1M468.5,312.8V319.0M469.5,312.4V318.8M470.5,311.6V322.1M471.5,313.5V319.2M472.5,313.2V319.2M473.5,312.7V319.7M474.5,312.4V319.2M475.5,312.1V322.1M476.5,311.2V316.7M477.5,310.8V318.5M478.5,310.8V315.9M479.5,309.0V315.9M480.5,309.2V320.9M481.5,310.8V315.1M482.5,310.7V314.8M483.5,310.4V315.6M484.5,307.1V316.5M485.5,309.1V316.5M486.5,311.0V315.8M487.5,309.8V315.7M488.5,308.1V315.3M489.5,307.0V316.7M490.5,307.0V320.3M491.5,306.9V316.8M492.5,308.7V316.7M493.5,308.2V316.5M494.5,306.2V315.4M495.5,306.0V315.3M496.5,305.9V316.8M497.5,308.7V313.8M498.5,308.4V313.8M499.5,306.8V313.3M500.5,308.2V317.3M501.5,307.9V315.5M502.5,304.2V315.1M503.5,307.1V317.0M504.5,306.8V313.6M505.5,305.6V316.6M506.5,305.3V318.3M507.5,305.1V318.6M508.5,305.8V312.2M509.5,305.6V312.2M510.5,306.5V316.6M511.5,304.9V313.4M512.5,303.6V311.2M513.5,303.6V311.4M514.5,305.5V314.9M515.5,304.8V318.6M516.5,307.0V312.0M517.5,306.8V311.9M518.5,307.2V311.8M519.5,306.9V311.8M520.5,304.0V316.1M521.5,306.1V314.0M522.5,305.5V316.5M523.5,305.1V315.2M524.5,300.9V312.2M525.5,303.9V312.4M526.5,306.7V310.9M527.5,307.0V313.8M528.5,304.0V311.0M529.5,304.7V312.0M530.5,304.7V313.5M531.5,304.0V312.0M532.5,305.6V312.2M533.5,301.8V316.5M534.5,306.7V312.0M535.5,304.9V313.2M536.5,303.9V314.9M537.5,305.9V317.1M538.5,305.5V312.3M539.5,304.1V315.6M540.5,303.9V312.4M541.5,305.3V315.9M542.5,305.0V315.5M543.5,306.9V313.5M544.5,306.9V315.5M545.5,306.4V315.0M546.5,306.4V313.1M547.5,306.4V312.6M548.5,306.4V312.2M549.5,307.2V311.6M550.5,304.8V313.9M551.5,307.3V312.0M552.5,307.2V316.0M553.5,304.9V315.6M554.5,306.1V316.2M555.5,306.1V316.1M556.5,305.7V316.1M557.5,305.1V314.5M558.5,301.7V311.5M559.5,305.1V311.5M560.5,304.7V314.4M561.5,306.3V311.5M562.5,302.9V311.5M563.5,307.1V311.9M564.5,305.4V311.9M565.5,305.6V312.9M566.5,306.0V312.4M567.5,306.1V312.4M568.5,306.1V312.4M569.5,307.5V313.8M570.5,307.4V313.8M571.5,306.2V313.8M572.5,306.1V317.3M573.5,302.7V311.9M574.5,306.1V315.8M575.5,303.6V316.1M576.5,303.6V312.4M577.5,306.9V314.7M578.5,306.9V311.8M579.5,303.2V314.0M580.5,306.2V316.9M581.5,306.4V314.4M582.5,306.9V313.1M583.5,307.2V313.1M584.5,305.2V316.6M585.5,307.9V313.3M586.5,308.3V313.3M587.5,308.2V313.3M588.5,308.3V313.2M589.5,308.3V312.8M590.5,306.5V314.2M591.5,306.2V314.0M592.5,305.8V312.9M593.5,307.4V313.8M594.5,307.1V313.7M595.5,303.9V312.8M596.5,305.2V316.8M597.5,303.0V317.7M598.5,305.5V316.1M599.5,307.1V311.8M600.5,306.9V316.2M601.5,305.7V311.5M602.5,307.6V312.1M603.5,305.1V314.6M604.5,305.9V312.8M605.5,304.7V313.0M606.5,307.6V312.3M607.5,307.6V311.8M608.5,304.7V317.3M609.5,306.1V312.9M610.5,306.2V314.6M611.5,305.9V318.5M612.5,304.1V315.2M613.5,306.4V312.0M614.5,304.0V314.4M615.5,306.1V311.7M616.5,304.2V311.1M617.5,304.2V311.4M618.5,305.6V315.0M619.5,305.5V319.5M620.5,307.0V312.1M621.5,307.1V312.1M622.5,306.5V312.4M623.5,307.1V314.5M624.5,305.4V311.4M625.5,306.4V310.6M626.5,306.4V310.7M627.5,305.9V311.2M628.5,305.9V314.8M629.5,306.1V311.1M630.5,306.1V312.1M631.5,306.1V323.6M632.5,306.5V315.4M633.5,311.3V320.4M634.5,312.8V321.4M635.5,314.1V320.8M636.5,311.5V322.6M637.5,312.5V318.7M638.5,311.9V320.0M639.5,313.7V319.5M640.5,312.9V322.4M641.5,311.4V320.4M642.5,312.2V320.0M643.5,312.6V318.4M644.5,312.3V321.0M645.5,312.1V320.5M646.5,311.8V316.3M647.5,311.8V316.5M648.5,310.4V318.2M649.5,310.4V320.5M650.5,310.4V316.5M651.5,311.6V318.5M652.5,311.0V322.6M653.5,310.8V317.8M654.5,309.4V316.0M655.5,307.3V315.8M656.5,310.2V315.1M657.5,307.8V318.4M658.5,307.6V315.8M659.5,309.3V315.7M660.5,309.5V316.9M661.5,309.9V314.6M662.5,310.0V314.6M663.5,307.3V315.8M664.5,304.8V319.4M665.5,306.9V315.8M666.5,306.3V318.6M667.5,306.6V316.7M668.5,308.6V314.0M669.5,306.7V315.9M670.5,306.7V315.9M671.5,306.7V317.8M672.5,308.0V314.7M673.5,307.9V314.5M674.5,307.2V315.5M675.5,306.8V319.4M676.5,302.5V314.1M677.5,304.7V317.8M678.5,306.6V311.8M679.5,306.3V311.1M680.5,299.8V314.3M681.5,300.3V310.5M682.5,301.1V310.1M683.5,300.9V310.1M684.5,304.0V311.3M685.5,302.4V309.6M686.5,301.4V309.6M687.5,301.4V308.8M688.5,301.5V306.7M689.5,301.5V309.8M690.5,301.6V310.2M691.5,301.6V313.5M692.5,302.0V314.7M693.5,302.6V308.5M694.5,302.6V308.4M695.5,301.3V308.8M696.5,300.1V310.5M697.5,302.7V310.2M698.5,299.7V310.4M699.5,302.6V309.0M700.5,302.4V310.8M701.5,302.6V307.8M702.5,302.1V308.5M703.5,301.7V310.6M704.5,300.2V311.0M705.5,301.7V310.7M706.5,301.6V308.5M707.5,299.0V308.6M708.5,299.0V313.3M709.5,301.2V311.0M710.5,301.5V309.5M711.5,300.8V308.0M712.5,299.3V308.7M713.5,300.4V309.1M714.5,302.8V309.6M715.5,303.1V308.6M716.5,303.5V309.8M717.5,304.2V310.2M718.5,304.3V311.5M719.5,305.1V315.1M720.5,307.2V313.9M721.5,308.1V316.5M722.5,308.3V314.3M723.5,308.9V316.8M724.5,308.8V316.0M725.5,308.7V312.9M726.5,308.7V312.9M727.5,307.9V318.8M728.5,308.1V313.2M729.5,307.8V315.4M730.5,308.1V315.7M731.5,306.9V320.1M732.5,308.0V315.1M733.5,308.1V318.3M734.5,308.7V313.8M735.5,307.2V315.0M736.5,306.9V315.0M737.5,305.3V315.2M738.5,308.0V312.9M739.5,308.1V312.9M740.5,306.1V314.5M741.5,303.6V314.4M742.5,305.5V314.1M743.5,306.9V313.0M744.5,306.8V313.0M745.5,306.4V317.8M746.5,302.2V314.1M747.5,303.8V312.6M748.5,307.6V315.7M749.5,306.4V312.1M750.5,306.3V312.1M751.5,306.1V316.2M752.5,306.0V316.8M753.5,303.0V312.6M754.5,304.4V312.2M755.5,305.2V315.4M756.5,305.0V312.7M757.5,304.7V311.2M758.5,304.3V310.9M759.5,305.7V314.0M760.5,306.0V314.0M761.5,306.0V314.1M762.5,306.1V311.5M763.5,306.0V312.4M764.5,305.9V312.4M765.5,304.1V314.6M766.5,305.6V311.8M767.5,304.7V310.9M768.5,302.0V315.6M769.5,305.6V310.7M770.5,306.0V310.8M771.5,303.7V311.6M772.5,306.8V311.9M773.5,307.1V312.9M774.5,304.0V313.1M775.5,306.6V316.6M776.5,306.8V313.5M777.5,307.2V314.0M778.5,306.6V318.5M779.5,304.1V314.2M780.5,306.8V317.5M781.5,309.3V316.3M782.5,307.1V318.3M783.5,309.7V316.8M784.5,306.4V316.6M785.5,307.7V318.6M786.5,304.5V318.2M787.5,307.1V313.4M788.5,304.3V312.6M789.5,306.8V312.4M790.5,306.8V312.4M791.5,306.1V311.6M792.5,304.8V311.9M793.5,303.9V309.8M794.5,301.8V309.3M795.5,303.5V309.3M796.5,303.4V312.8M797.5,303.6V316.1M798.5,303.2V312.6M799.5,304.5V313.9M800.5,304.9V310.1M801.5,304.9V310.0M802.5,304.9V312.0M803.5,302.2V310.0M804.5,300.8V312.5M805.5,302.2V314.3M806.5,304.0V311.9M807.5,304.0V312.7M808.5,302.3V311.7M809.5,302.3V311.6M810.5,304.3V311.5M811.5,302.9V311.5M812.5,304.5V313.4M813.5,304.2V310.9M814.5,305.0V310.0M815.5,305.2V314.2M816.5,302.5V310.1M817.5,305.4V311.0M818.5,302.6V312.7M819.5,302.4V312.7M820.5,299.3V314.8M821.5,305.9V311.2M822.5,305.7V315.8M823.5,306.2V310.7M824.5,306.0V313.8M825.5,306.0V313.1M826.5,304.9V312.7M827.5,305.0V312.7M828.5,303.7V310.8M829.5,302.8V310.8M830.5,304.6V310.6M831.5,303.8V309.7M832.5,302.8V313.2M833.5,303.5V310.7M834.5,303.6V311.0M835.5,302.9V311.9M836.5,305.8V311.8M837.5,304.3V310.9M838.5,303.9V315.8M839.5,305.5V310.5M840.5,302.5V314.8M841.5,302.9V310.3M842.5,305.1V309.6M843.5,304.8V309.3M844.5,304.2V309.0M845.5,304.1V308.9M846.5,305.1V309.3M847.5,301.3V313.6M848.5,301.3V309.6M849.5,301.4V310.1M850.5,301.7V312.2M851.5,304.2V313.6M852.5,303.9V310.5M853.5,301.0V312.4M854.5,305.0V313.4M855.5,303.0V310.8M856.5,302.9V316.0M857.5,301.0V312.2M858.5,300.6V314.3M859.5,302.4V311.9M860.5,304.4V312.4M861.5,304.9V311.0M862.5,303.3V309.7M863.5,304.9V311.3M864.5,305.1V311.8M865.5,304.3V316.1M866.5,305.2V316.1M867.5,305.2V315.9M868.5,304.7V311.7M869.5,302.4V311.7M870.5,304.9V311.7M871.5,302.2V313.1M872.5,304.8V313.2M873.5,304.6V313.2M874.5,306.2V313.5M875.5,302.8V310.8M876.5,306.2V312.2M877.5,304.7V312.6M878.5,301.8V312.8M879.5,304.0V310.6M880.5,300.6V310.3M881.5,305.4V312.1M882.5,304.5V312.6M883.5,304.5V314.8M884.5,304.5V312.3M885.5,304.8V312.3M886.5,301.9V312.0M887.5,302.7V311.1M888.5,302.7V314.6M889.5,302.6V309.2M890.5,301.4V311.3M891.5,302.7V312.4M892.5,305.2V310.6M893.5,305.2V310.6M894.5,305.3V310.2M895.5,305.4V312.8M896.5,304.2V310.2M897.5,304.7V310.2M898.5,305.1V310.7M899.5,305.1V311.8M900.5,305.6V312.0M901.5,305.8V312.3M902.5,307.2V313.5M903.5,304.5V317.7M904.5,307.9V314.8M905.5,306.5V316.2M906.5,306.2V312.9M907.5,306.8V315.1M908.5,306.6V313.3M909.5,306.4V313.0M910.5,306.4V314.4M911.5,306.0V314.1M912.5,306.1V311.5M913.5,306.0V311.5M914.5,301.0V312.3M915.5,304.5V312.6M916.5,304.6V312.6M917.5,305.7V311.9M918.5,305.7V313.8M919.5,306.2V312.0M920.5,302.6V313.7M921.5,304.7V313.8M922.5,305.9V313.4M923.5,306.0V317.1M924.5,307.4V312.6M925.5,307.6V316.5M926.5,308.0V313.2M927.5,305.3V315.0M928.5,302.9V312.0M929.5,306.0V314.4M930.5,306.5V313.5M931.5,306.5V313.6M932.5,306.6V313.6M933.5,307.9V314.2M934.5,305.9V313.9M935.5,305.8V311.7M936.5,304.6V356.0M937.5,339.5V366.2M938.5,334.0V346.1M939.5,330.0V342.4M940.5,325.3V336.2M941.5,322.7V329.9M942.5,317.3V329.4M943.5,318.8V327.1M944.5,317.5V325.2M945.5,314.2V322.6M946.5,310.5V321.3M947.5,312.8V322.0M948.5,309.7V321.1M949.5,311.6V320.5M950.5,312.1V322.4M951.5,309.7V321.0M952.5,309.2V320.4M953.5,310.1V319.9M954.5,309.3V349.0M955.5,332.3V349.8M956.5,328.7V340.1M957.5,325.2V335.8M958.5,322.8V332.6M959.5,320.2V329.6M960.5,318.1V327.0M961.5,315.1V323.5M962.5,315.0V325.2M963.5,313.8V321.9M964.5,313.4V346.1M965.5,332.1V349.2M966.5,330.3V340.8M967.5,326.4V337.2M968.5,326.9V336.7M969.5,325.1V336.8M970.5,322.9V331.4M971.5,319.3V327.0M972.5,316.5V327.0M973.5,318.0V325.1M974.5,315.4V323.8M975.5,315.7V323.5M976.5,314.0V322.1M977.5,313.5V321.5M978.5,311.7V321.0M979.5,308.3V319.6M980.5,309.7V318.9M981.5,312.2V320.1M982.5,311.9V318.1M983.5,311.4V317.6M984.5,310.8V317.1M985.5,311.0V315.5M986.5,309.4V318.0M987.5,310.4V315.2M988.5,308.8V315.9M989.5,310.7V317.7M990.5,310.4V319.3M991.5,309.2V316.8M992.5,309.2V316.9M993.5,308.1V319.4M994.5,305.8V319.5M995.5,310.2V317.0M996.5,309.9V317.0M997.5,306.4V316.6M998.5,308.1V315.9M999.5,308.3V316.1M1000.5,304.9V316.1M1001.5,309.6V318.7M1002.5,308.5V314.9M1003.5,308.5V314.9M1004.5,307.3V314.9M1005.5,309.9V313.7M1006.5,310.0V313.8M1007.5,307.4V315.0M1008.5,306.4V316.9M1009.5,308.5V317.4M1010.5,308.7V317.7M1011.5,308.5V316.6M1012.5,307.2V315.0M1013.5,309.4V313.7M1014.5,309.3V313.7M1015.5,309.4V318.3M1016.5,307.4V318.2M1017.5,308.7V314.1M1018.5,309.1V315.9M1019.5,309.2V314.3M1020.5,309.8V316.7M1021.5,307.7V314.3M1022.5,307.7V314.5M1023.5,307.9V314.9M1024.5,311.0V315.7M1025.5,310.2V315.2M1026.5,310.1V315.2M1027.5,310.6V315.3M1028.5,310.6V315.4M1029.5,311.1V320.7M1030.5,307.4V316.1M1031.5,307.0V317.6M1032.5,305.4V318.1M1033.5,308.8V322.3M1034.5,306.6V314.2M1035.5,308.0V312.9M1036.5,307.7V312.4M1037.5,304.9V312.4M1038.5,304.3V311.5M1039.5,304.0V311.3M1040.5,303.9V311.0M1041.5,301.8V312.6M1042.5,303.8V312.2M1043.5,300.5V316.1M1044.5,305.6V312.7M1045.5,306.1V312.9M1046.5,306.1V312.9M1047.5,306.3V313.0M1048.5,303.5V314.4M1049.5,306.4V314.9M1050.5,308.0V313.6M1051.5,308.3V314.0M1052.5,306.0V316.6M1053.5,306.2V313.5M1054.5,309.4V320.1M1055.5,309.4V319.9M1056.5,307.0V314.6M1057.5,309.3V316.0M1058.5,309.1V316.2M1059.5,308.4V313.8M1060.5,308.1V313.6M1061.5,307.9V313.3M1062.5,305.6V314.6M1063.5,307.5V314.0M1064.5,306.1V312.4M1065.5,305.8V311.7M1066.5,304.3V313.6M1067.5,303.9V310.5M1068.5,303.6V310.0M1069.5,304.5V313.4M1070.5,304.4V309.4M1071.5,304.2V309.4M1072.5,302.0V308.6" fill="none" stroke="#141414" stroke-width="1" shape-rendering="crispEdges"/>
<path d="M160.5,420.4V428.7M161.5,416.0V436.3M162.5,419.1V436.4M163.5,419.8V432.0M164.5,418.7V429.7M165.5,420.2V429.7M166.5,421.5V431.4M167.5,418.1V428.3M168.5,421.3V428.3M169.5,422.3V433.4M170.5,422.2V431.0M171.5,422.3V431.0M172.5,420.5V431.0M173.5,417.6V427.3M174.5,419.5V427.0M175.5,422.4V434.0M176.5,422.4V433.8M177.5,422.4V429.9M178.5,420.1V427.3M179.5,422.3V427.1M180.5,420.0V429.4M181.5,415.8V427.0M182.5,416.9V443.4M183.5,435.6V457.3M184.5,448.5V461.7M185.5,445.5V453.8M186.5,439.3V452.4M187.5,440.9V449.5M188.5,439.8V447.1M189.5,437.8V445.3M190.5,436.1V445.5M191.5,435.1V444.6M192.5,429.7V443.6M193.5,430.7V444.2M194.5,432.4V438.5M195.5,431.8V437.3M196.5,430.7V440.4M197.5,426.2V436.5M198.5,425.0V435.5M199.5,426.0V435.1M200.5,425.8V438.3M201.5,427.8V434.1M202.5,424.6V435.6M203.5,426.9V436.6M204.5,426.4V432.1M205.5,426.2V431.6M206.5,425.1V432.5M207.5,426.3V432.1M208.5,426.1V436.3M209.5,422.2V434.1M210.5,425.2V436.7M211.5,425.1V431.3M212.5,421.6V431.2M213.5,423.4V435.2M214.5,423.5V433.4M215.5,423.1V433.2M216.5,424.0V430.2M217.5,419.5V428.9M218.5,421.9V428.9M219.5,420.4V432.6M220.5,421.0V432.6M221.5,422.1V431.1M222.5,419.0V431.1M223.5,422.8V429.2M224.5,422.3V429.0M225.5,420.7V434.3M226.5,420.7V434.7M227.5,414.3V428.6M228.5,417.5V427.6M229.5,417.4V430.1M230.5,420.2V428.6M231.5,418.1V431.2M232.5,418.4V428.7M233.5,418.1V425.9M234.5,415.2V425.9M235.5,420.5V427.8M236.5,420.3V427.1M237.5,420.1V426.6M238.5,419.7V425.5M239.5,419.7V425.7M240.5,419.9V432.7M241.5,419.8V429.1M242.5,417.2V429.0M243.5,416.3V429.9M244.5,417.4V424.4M245.5,418.9V425.9M246.5,415.3V424.4M247.5,419.8V424.2M248.5,419.0V425.0M249.5,418.0V425.5M250.5,417.7V424.9M251.5,415.4V423.7M252.5,415.6V423.9M253.5,414.0V424.2M254.5,413.7V423.6M255.5,415.6V423.5M256.5,415.4V423.9M257.5,418.2V428.0M258.5,414.6V426.4M259.5,418.0V423.4M260.5,417.9V426.0M261.5,413.3V424.4M262.5,416.8V425.0M263.5,418.7V425.3M264.5,417.1V425.4M265.5,419.1V425.4M266.5,413.4V424.2M267.5,417.5V426.2M268.5,414.4V426.4M269.5,416.2V426.4M270.5,416.4V426.8M271.5,418.2V426.7M272.5,419.0V423.8M273.5,419.0V424.1M274.5,419.3V424.2M275.5,417.5V424.3M276.5,413.6V427.4M277.5,417.2V424.9M278.5,417.3V424.9M279.5,418.9V425.9M280.5,419.3V426.2M281.5,419.1V432.4M282.5,418.6V432.3M283.5,419.4V431.8M284.5,416.6V432.8M285.5,415.0V429.7M286.5,416.7V429.5M287.5,419.3V429.1M288.5,419.1V428.6M289.5,415.7V426.3M290.5,418.0V425.8M291.5,418.0V425.8M292.5,417.1V423.2M293.5,416.6V423.2M294.5,417.7V424.4M295.5,417.4V424.4M296.5,416.4V424.3M297.5,413.2V424.3M298.5,417.9V427.3M299.5,416.6V423.7M300.5,416.4V423.2M301.5,416.5V422.2M302.5,416.3V430.4M303.5,415.1V422.0M304.5,417.0V422.1M305.5,416.8V421.9M306.5,415.5V423.1M307.5,413.0V426.9M308.5,416.2V428.1M309.5,415.1V426.4M310.5,421.0V431.0M311.5,422.8V430.2M312.5,422.4V432.7M313.5,423.4V432.7M314.5,421.9V432.0M315.5,423.8V431.2M316.5,419.0V428.8M317.5,422.2V427.7M318.5,421.3V431.5M319.5,420.6V432.9M320.5,418.9V433.2M321.5,416.8V427.6M322.5,418.6V425.1M323.5,417.9V427.4M324.5,417.5V424.2M325.5,414.1V423.5M326.5,416.7V423.5M327.5,416.1V423.1M328.5,414.9V426.3M329.5,411.7V423.9M330.5,417.2V424.0M331.5,417.2V427.0M332.5,412.4V425.1M333.5,417.5V425.2M334.5,413.5V425.0M335.5,416.8V425.7M336.5,416.1V425.2M337.5,416.4V425.3M338.5,416.2V425.3M339.5,412.8V421.9M340.5,416.7V427.6M341.5,416.4V427.2M342.5,412.8V422.7M343.5,416.3V421.4M344.5,416.5V422.4M345.5,415.8V422.4M346.5,413.3V424.1M347.5,410.0V428.7M348.5,413.1V421.4M349.5,413.1V421.0M350.5,411.8V425.3M351.5,414.6V420.2M352.5,414.5V419.8M353.5,414.7V421.6M354.5,413.5V421.3M355.5,414.1V421.4M356.5,413.9V424.4M357.5,415.4V423.5M358.5,413.1V422.6M359.5,411.8V426.0M360.5,413.4V438.5M361.5,427.6V434.4M362.5,424.9V434.4M363.5,427.3V433.6M364.5,423.7V432.0M365.5,423.3V431.1M366.5,423.8V436.2M367.5,424.6V434.2M368.5,424.4V429.5M369.5,421.8V431.4M370.5,420.2V429.8M371.5,419.8V432.5M372.5,423.0V428.8M373.5,421.8V429.2M374.5,420.8V432.6M375.5,420.4V432.0M376.5,420.4V431.6M377.5,420.9V429.7M378.5,418.9V432.0M379.5,418.5V429.4M380.5,419.9V429.6M381.5,420.1V426.2M382.5,416.3V426.9M383.5,418.8V428.1M384.5,418.7V425.8M385.5,418.7V427.9M386.5,418.6V430.4M387.5,416.2V425.3M388.5,419.9V425.4M389.5,413.3V430.7M390.5,417.3V427.6M391.5,420.9V427.4M392.5,415.5V431.1M393.5,419.5V426.2M394.5,416.5V426.6M395.5,416.5V424.5M396.5,416.2V426.4M397.5,415.1V427.5M398.5,414.9V425.7M399.5,414.2V424.7M400.5,415.7V424.6M401.5,413.8V424.7M402.5,414.8V421.6M403.5,411.6V423.3M404.5,412.3V420.7M405.5,410.6V420.0M406.5,410.6V420.0M407.5,410.2V424.7M408.5,412.0V420.8M409.5,411.9V418.6M410.5,409.5V418.6M411.5,410.3V418.6M412.5,413.2V419.2M413.5,413.9V424.1M414.5,411.2V425.0M415.5,410.1V427.6M416.5,417.3V435.0M417.5,421.3V430.5M418.5,422.2V429.7M419.5,419.0V427.7M420.5,420.2V428.9M421.5,418.4V427.6M422.5,417.5V427.2M423.5,418.7V425.2M424.5,418.5V424.2M425.5,417.5V430.4M426.5,417.5V426.8M427.5,418.0V423.4M428.5,418.0V426.0M429.5,417.4V426.6M430.5,418.2V427.6M431.5,418.2V423.5M432.5,414.5V426.6M433.5,416.0V423.4M434.5,416.1V423.7M435.5,417.8V427.2M436.5,415.8V423.8M437.5,415.7V423.8M438.5,418.5V423.6M439.5,418.2V423.6M440.5,417.8V424.8M441.5,417.8V424.5M442.5,414.5V425.9M443.5,416.2V425.9M444.5,416.0V430.4M445.5,415.5V426.0M446.5,415.5V425.6M447.5,412.0V425.4M448.5,412.0V422.2M449.5,411.8V422.5M450.5,413.8V426.2M451.5,412.5V433.5M452.5,410.7V428.8M453.5,416.3V421.7M454.5,416.5V421.8M455.5,416.5V421.9M456.5,416.4V425.1M457.5,412.6V425.6M458.5,410.1V421.5M459.5,408.5V424.5M460.5,415.0V422.8M461.5,415.0V422.6M462.5,410.6V422.6M463.5,414.1V423.4M464.5,414.7V427.7M465.5,415.2V429.1M466.5,415.4V424.3M467.5,417.3V423.0M468.5,417.6V423.0M469.5,417.6V423.5M470.5,411.4V423.8M471.5,411.3V428.8M472.5,416.8V422.8M473.5,414.6V425.7M474.5,416.8V423.2M475.5,412.9V423.1M476.5,416.2V423.1M477.5,414.7V423.2M478.5,414.7V423.1M479.5,417.5V422.0M480.5,417.3V424.1M481.5,416.9V422.3M482.5,413.8V423.0M483.5,416.9V422.7M484.5,417.0V423.0M485.5,411.5V424.1M486.5,414.8V422.1M487.5,414.7V426.9M488.5,416.8V423.6M489.5,413.1V425.7M490.5,413.3V425.9M491.5,416.9V423.3M492.5,414.5V423.5M493.5,415.2V422.6M494.5,414.7V422.2M495.5,414.5V421.7M496.5,415.7V424.8M497.5,416.2V424.9M498.5,416.3V425.2M499.5,417.1V423.2M500.5,414.9V422.5M501.5,414.6V426.5M502.5,415.7V430.1M503.5,410.9V422.1M504.5,411.7V427.8M505.5,413.4V427.5M506.5,413.2V427.3M507.5,414.8V423.1M508.5,412.9V424.6M509.5,412.8V422.6M510.5,412.7V422.5M511.5,415.6V425.7M512.5,416.0V422.2M513.5,416.0V422.4M514.5,413.6V426.3M515.5,416.1V429.4M516.5,415.9V424.9M517.5,415.9V426.6M518.5,412.9V423.1M519.5,413.0V423.3M520.5,413.4V422.5M521.5,413.5V424.5M522.5,416.2V423.8M523.5,411.2V420.8M524.5,415.0V420.7M525.5,413.0V420.9M526.5,415.2V422.0M527.5,412.5V421.8M528.5,413.9V426.9M529.5,413.5V423.0M530.5,413.7V421.7M531.5,413.7V421.6M532.5,414.0V422.0M533.5,413.8V423.5M534.5,414.9V424.2M535.5,413.2V425.4M536.5,415.6V430.8M537.5,417.2V430.3M538.5,414.1V429.8M539.5,419.5V425.1M540.5,416.5V425.3M541.5,419.3V428.5M542.5,420.1V429.1M543.5,420.5V429.5M544.5,418.5V429.7M545.5,419.4V429.8M546.5,421.2V429.1M547.5,420.3V430.6M548.5,421.1V430.8M549.5,423.7V432.2M550.5,422.3V430.2M551.5,423.1V429.5M552.5,423.7V429.9M553.5,420.9V429.5M554.5,423.6V429.5M555.5,420.1V429.6M556.5,421.4V432.9M557.5,421.5V432.7M558.5,418.9V439.4M559.5,426.6V437.2M560.5,427.8V434.3M561.5,422.4V432.9M562.5,425.0V432.2M563.5,423.7V431.2M564.5,419.5V429.2M565.5,418.4V428.2M566.5,421.8V427.8M567.5,419.7V427.0M568.5,417.1V428.5M569.5,419.6V427.3M570.5,418.0V426.8M571.5,417.9V426.8M572.5,418.2V428.6M573.5,416.5V425.7M574.5,414.3V426.7M575.5,418.9V426.3M576.5,418.3V423.2M577.5,416.4V425.6M578.5,416.0V422.1M579.5,416.6V425.8M580.5,416.0V421.4M581.5,415.9V424.0M582.5,415.0V421.9M583.5,414.8V421.9M584.5,413.9V421.7M585.5,413.5V424.4M586.5,413.0V424.3M587.5,412.9V425.1M588.5,412.7V423.8M589.5,412.3V423.3M590.5,408.9V423.0M591.5,410.7V420.9M592.5,412.4V420.0M593.5,411.1V422.0M594.5,411.7V422.6M595.5,411.5V418.7M596.5,412.0V422.9M597.5,412.9V423.7M598.5,412.9V421.5M599.5,415.3V422.1M600.5,413.4V423.4M601.5,414.0V422.0M602.5,414.6V422.4M603.5,417.5V427.8M604.5,415.3V428.2M605.5,415.9V429.4M606.5,416.8V423.4M607.5,418.0V427.7M608.5,417.9V427.4M609.5,417.9V427.7M610.5,417.4V427.3M611.5,416.3V431.8M612.5,417.7V427.4M613.5,418.1V427.4M614.5,418.1V426.1M615.5,418.0V429.8M616.5,417.8V426.7M617.5,417.8V425.1M618.5,417.8V424.9M619.5,417.5V427.0M620.5,419.3V429.6M621.5,420.3V426.0M622.5,420.3V426.6M623.5,420.5V429.2M624.5,420.5V429.5M625.5,417.9V430.0M626.5,421.5V431.1M627.5,422.1V431.3M628.5,422.2V433.9M629.5,417.3V433.1M630.5,417.3V433.6M631.5,419.0V428.9M632.5,420.4V429.0M633.5,417.0V430.1M634.5,421.1V428.0M635.5,422.4V433.6M636.5,424.6V435.0M637.5,427.7V435.1M638.5,423.5V435.1M639.5,423.7V437.8M640.5,423.0V430.2M641.5,422.1V433.5M642.5,419.7V428.0M643.5,419.5V431.9M644.5,418.8V428.7M645.5,417.2V423.5M646.5,416.4V421.9M647.5,414.8V421.4M648.5,414.6V424.3M649.5,411.7V423.6M650.5,413.2V422.8M651.5,411.5V425.0M652.5,410.3V425.0M653.5,413.4V418.9M654.5,413.4V418.7M655.5,413.0V418.7M656.5,412.6V419.7M657.5,412.6V417.0M658.5,411.3V418.4M659.5,410.7V418.6M660.5,412.5V418.8M661.5,411.9V418.7M662.5,410.6V420.6M663.5,410.5V416.4M664.5,410.5V419.4M665.5,410.4V419.1M666.5,411.5V416.2M667.5,409.4V416.4M668.5,410.7V423.1M669.5,410.5V423.1M670.5,410.5V426.2M671.5,409.5V418.3M672.5,406.4V418.5M673.5,409.8V418.5M674.5,412.5V420.6M675.5,412.3V420.0M676.5,410.2V418.9M677.5,408.9V421.5M678.5,408.9V421.3M679.5,411.2V418.5M680.5,409.7V418.5M681.5,407.6V417.3M682.5,409.7V417.8M683.5,411.4V420.1M684.5,412.0V418.5M685.5,408.6V418.0M686.5,409.2V420.6M687.5,410.1V418.9M688.5,412.7V419.1M689.5,412.6V419.1M690.5,412.4V418.9M691.5,413.5V421.2M692.5,413.5V421.6M693.5,412.1V419.8M694.5,412.2V419.8M695.5,414.1V426.1M696.5,413.9V424.2M697.5,411.2V419.4M698.5,413.3V419.6M699.5,413.5V420.0M700.5,411.0V422.5M701.5,414.5V422.1M702.5,414.3V421.8M703.5,414.3V421.8M704.5,414.0V422.5M705.5,414.2V424.4M706.5,414.7V422.2M707.5,413.6V423.7M708.5,414.3V419.5M709.5,414.4V419.7M710.5,412.2V423.7M711.5,414.2V420.7M712.5,414.0V422.7M713.5,414.7V422.2M714.5,414.6V422.2M715.5,414.0V419.9M716.5,414.1V424.6M717.5,411.7V426.1M718.5,411.7V424.0M719.5,413.3V419.8M720.5,413.8V420.2M721.5,414.2V420.3M722.5,411.5V421.3M723.5,413.0V422.9M724.5,414.5V420.9M725.5,414.5V423.2M726.5,412.4V421.1M727.5,409.4V421.1M728.5,409.6V421.1M729.5,410.7V422.4M730.5,413.4V421.6M731.5,413.4V419.8M732.5,412.7V420.2M733.5,412.6V421.5M734.5,411.3V421.1M735.5,412.8V420.6M736.5,413.6V418.5M737.5,413.5V418.4M738.5,413.2V422.0M739.5,412.7V420.6M740.5,410.8V426.6M741.5,414.0V418.7M742.5,412.6V422.3M743.5,411.6V420.9M744.5,413.0V420.9M745.5,407.3V418.9M746.5,409.4V418.8M747.5,408.9V418.8M748.5,412.3V424.2M749.5,413.1V420.3M750.5,413.1V420.3M751.5,413.1V420.5M752.5,413.1V424.9M753.5,413.5V421.0M754.5,410.4V421.5M755.5,413.1V420.5M756.5,413.3V425.0M757.5,410.4V425.8M758.5,410.4V423.4M759.5,409.0V423.7M760.5,413.4V422.4M761.5,413.5V422.4M762.5,415.2V428.3M763.5,414.4V425.8M764.5,415.2V423.4M765.5,415.2V423.6M766.5,415.6V423.7M767.5,416.1V422.6M768.5,416.2V427.1M769.5,414.2V422.0M770.5,416.1V424.6M771.5,415.1V427.5M772.5,416.6V423.3M773.5,417.2V426.3M774.5,415.0V423.8M775.5,414.8V423.0M776.5,414.4V422.9M777.5,414.0V421.4M778.5,413.7V423.3M779.5,414.7V421.8M780.5,410.4V423.5M781.5,413.3V423.0M782.5,413.9V425.4M783.5,411.7V421.0M784.5,415.8V424.2M785.5,416.0V423.8M786.5,418.3V427.6M787.5,419.2V430.6M788.5,420.0V426.6M789.5,420.0V429.8M790.5,420.3V429.9M791.5,420.5V427.4M792.5,418.9V427.4M793.5,418.8V426.1M794.5,417.9V428.5M795.5,416.2V423.4M796.5,416.4V423.4M797.5,416.8V431.3M798.5,417.3V428.2M799.5,416.8V423.1M800.5,416.0V425.0M801.5,416.2V429.4M802.5,416.7V423.7M803.5,416.9V426.3M804.5,416.6V426.5M805.5,412.4V422.6M806.5,412.5V420.8M807.5,413.7V420.8M808.5,413.7V420.8M809.5,415.3V425.9M810.5,414.0V424.2M811.5,415.1V422.5M812.5,414.8V422.2M813.5,413.2V424.8M814.5,414.8V422.0M815.5,412.4V423.9M816.5,415.0V421.7M817.5,413.2V421.6M818.5,413.2V424.2M819.5,413.1V424.2M820.5,408.7V420.3M821.5,412.0V423.9M822.5,411.8V421.5M823.5,411.0V431.1M824.5,414.3V426.4M825.5,414.0V422.1M826.5,409.5V422.7M827.5,410.7V420.3M828.5,410.3V420.2M829.5,413.9V423.0M830.5,414.2V420.2M831.5,413.5V420.1M832.5,410.5V418.3M833.5,409.8V418.3M834.5,409.8V417.6M835.5,411.1V420.9M836.5,409.9V420.4M837.5,411.1V420.7M838.5,409.8V418.7M839.5,411.6V422.6M840.5,409.7V420.0M841.5,411.6V420.0M842.5,411.6V420.0M843.5,409.7V419.3M844.5,411.2V418.1M845.5,408.5V419.8M846.5,409.4V419.7M847.5,410.9V417.8M848.5,410.7V417.6M849.5,410.7V418.6M850.5,411.1V418.7M851.5,411.5V419.7M852.5,411.7V423.2M853.5,411.8V422.5M854.5,411.3V418.9M855.5,411.0V418.4M856.5,408.8V419.5M857.5,408.3V417.8M858.5,407.6V417.8M859.5,409.9V417.7M860.5,409.9V417.6M861.5,410.4V422.1M862.5,410.4V418.3M863.5,410.8V418.6M864.5,411.2V417.0M865.5,411.7V420.1M866.5,406.0V421.4M867.5,409.2V421.7M868.5,411.0V422.1M869.5,410.4V418.4M870.5,407.0V418.2M871.5,411.8V417.9M872.5,411.8V417.9M873.5,411.7V417.7M874.5,409.7V418.9M875.5,410.8V423.3M876.5,411.0V419.0M877.5,412.5V418.0M878.5,410.7V418.0M879.5,408.8V421.0M880.5,409.0V421.0M881.5,411.7V418.8M882.5,410.2V418.9M883.5,409.7V418.6M884.5,409.7V418.3M885.5,409.6V418.2M886.5,409.6V417.9M887.5,411.4V417.1M888.5,411.1V416.3M889.5,409.9V415.9M890.5,410.8V415.9M891.5,411.1V417.0M892.5,411.2V419.7M893.5,409.8V422.4M894.5,411.4V416.9M895.5,411.4V416.9M896.5,411.4V421.1M897.5,410.7V421.1M898.5,410.1V418.2M899.5,410.4V418.5M900.5,411.2V418.5M901.5,410.0V424.3M902.5,411.8V422.1M903.5,411.8V418.5M904.5,409.7V418.7M905.5,412.8V419.9M906.5,409.4V419.9M907.5,407.9V420.2M908.5,407.4V420.2M909.5,410.7V422.2M910.5,408.1V417.2M911.5,411.5V419.0M912.5,409.6V418.0M913.5,409.3V417.8M914.5,409.8V421.6M915.5,406.1V426.1M916.5,410.5V422.3M917.5,406.2V418.3M918.5,409.1V418.5M919.5,409.8V423.3M920.5,407.8V418.7M921.5,410.8V420.7M922.5,410.8V417.2M923.5,412.2V417.1M924.5,412.3V417.4M925.5,412.0V421.0M926.5,409.0V421.7M927.5,411.2V416.3M928.5,404.1V417.2M929.5,411.7V416.7M930.5,409.4V420.1M931.5,409.0V416.6M932.5,410.2V421.7M933.5,410.4V421.7M934.5,409.1V419.8M935.5,412.0V417.6M936.5,412.0V417.8M937.5,411.9V417.8M938.5,409.6V416.6M939.5,406.1V417.2M940.5,409.0V417.7M941.5,410.7V419.3M942.5,410.7V419.3M943.5,410.8V419.8M944.5,406.8V418.0M945.5,409.1V421.2M946.5,411.0V420.9M947.5,409.3V422.5M948.5,412.8V422.3M949.5,412.5V422.1M950.5,407.7V418.7M951.5,409.1V419.1M952.5,407.2V420.2M953.5,407.2V421.3M954.5,407.2V418.2M955.5,410.5V417.9M956.5,410.6V418.7M957.5,408.1V418.7M958.5,411.1V418.4M959.5,412.9V419.0M960.5,412.9V419.7M961.5,410.8V423.2M962.5,411.3V427.4M963.5,410.5V435.2M964.5,427.6V449.9M965.5,442.0V462.6M966.5,453.5V471.4M967.5,455.0V467.0M968.5,450.6V460.7M969.5,442.5V458.9M970.5,438.6V454.3M971.5,435.3V450.4M972.5,436.3V445.1M973.5,428.7V443.8M974.5,426.4V440.7M975.5,424.9V438.4M976.5,425.3V435.2M977.5,422.0V433.5M978.5,425.1V431.5M979.5,424.2V430.7M980.5,421.7V432.2M981.5,419.6V430.0M982.5,417.8V429.0M983.5,421.1V432.0M984.5,418.7V428.7M985.5,416.2V428.2M986.5,419.0V431.3M987.5,418.4V426.1M988.5,418.1V423.1M989.5,418.1V424.9M990.5,416.1V424.6M991.5,415.8V423.7M992.5,416.2V424.4M993.5,415.8V424.1M994.5,413.6V426.0M995.5,412.5V428.8M996.5,412.5V428.9M997.5,415.0V429.0M998.5,414.0V430.4M999.5,418.8V426.6M1000.5,421.0V429.9M1001.5,419.7V429.3M1002.5,419.1V428.5M1003.5,419.1V425.5M1004.5,418.3V429.2M1005.5,417.3V424.5M1006.5,416.4V425.9M1007.5,416.4V423.3M1008.5,417.8V425.8M1009.5,416.5V423.1M1010.5,416.0V421.7M1011.5,412.5V421.6M1012.5,412.8V421.5M1013.5,413.6V424.5M1014.5,413.2V426.3M1015.5,414.0V419.8M1016.5,410.6V419.8M1017.5,411.6V424.8M1018.5,414.4V424.8M1019.5,414.0V420.2M1020.5,414.0V422.6M1021.5,415.6V432.5M1022.5,423.1V435.8M1023.5,421.5V430.8M1024.5,412.5V427.9M1025.5,417.3V426.1M1026.5,412.5V424.7M1027.5,413.7V421.5M1028.5,413.4V423.0M1029.5,413.4V435.2M1030.5,427.7V435.0M1031.5,425.9V437.6M1032.5,422.0V431.4M1033.5,423.3V431.4M1034.5,422.4V430.3M1035.5,416.7V427.3M1036.5,416.6V425.8M1037.5,418.0V424.7M1038.5,416.1V425.1M1039.5,415.4V426.4M1040.5,415.8V421.9M1041.5,412.5V425.1M1042.5,411.9V424.4M1043.5,414.2V425.3M1044.5,412.6V425.2M1045.5,413.3V419.7M1046.5,413.4V421.9M1047.5,413.1V419.6M1048.5,411.8V420.6M1049.5,410.2V417.8M1050.5,410.4V417.9M1051.5,407.4V422.5M1052.5,403.0V422.1M1053.5,406.5V421.7M1054.5,409.9V416.9M1055.5,409.5V421.0M1056.5,409.5V418.3M1057.5,411.4V417.6M1058.5,411.1V417.6M1059.5,407.0V417.3M1060.5,410.1V421.9M1061.5,410.0V417.4M1062.5,408.4V416.1M1063.5,408.8V417.7M1064.5,406.8V420.2M1065.5,406.2V415.0M1066.5,406.2V414.6M1067.5,406.3V414.3M1068.5,409.4V418.0M1069.5,409.1V416.1M1070.5,408.5V415.9M1071.5,407.6V415.2M1072.5,406.0V421.6M1073.5,408.1V414.1M1074.5,406.5V414.0M1075.5,407.8V417.8" fill="none" stroke="#141414" stroke-width="1" shape-rendering="crispEdges"/>
<path d="M161.5,1275.2V1290.1M162.5,1272.9V1295.7M163.5,1283.3V1293.6M164.5,1277.3V1291.5M165.5,1278.5V1287.7M166.5,1271.7V1283.0M167.5,1274.0V1281.1M168.5,1271.8V1278.7M169.5,1272.8V1277.7M170.5,1272.3V1282.9M171.5,1271.7V1280.8M172.5,1270.2V1275.7M173.5,1270.2V1275.6M174.5,1268.4V1277.1M175.5,1267.1V1281.5M176.5,1270.7V1276.4M177.5,1269.2V1276.5M178.5,1270.9V1280.6M179.5,1270.0V1284.1M180.5,1272.2V1279.5M181.5,1270.3V1279.5M182.5,1270.4V1284.3M183.5,1272.3V1294.7M184.5,1285.5V1293.9M185.5,1283.6V1292.4M186.5,1280.6V1292.6M187.5,1278.1V1292.1M188.5,1280.1V1290.9M189.5,1278.8V1293.6M190.5,1277.2V1284.4M191.5,1278.1V1289.1M192.5,1276.5V1284.5M193.5,1275.7V1283.5M194.5,1273.5V1285.6M195.5,1272.8V1280.8M196.5,1268.6V1280.1M197.5,1274.5V1280.4M198.5,1274.2V1282.6M199.5,1269.1V1279.2M200.5,1272.4V1279.6M201.5,1272.2V1279.6M202.5,1273.3V1280.7M203.5,1269.9V1285.2M204.5,1272.9V1277.7M205.5,1268.9V1277.4M206.5,1271.9V1276.9M207.5,1272.1V1276.2M208.5,1270.2V1276.3M209.5,1269.4V1278.9M210.5,1267.1V1276.8M211.5,1270.4V1274.5M212.5,1270.2V1274.4M213.5,1266.0V1274.8M214.5,1268.6V1277.9M215.5,1268.0V1274.5M216.5,1268.0V1274.8M217.5,1268.3V1275.5M218.5,1267.4V1276.1M219.5,1270.7V1276.8M220.5,1267.5V1278.2M221.5,1272.2V1278.4M222.5,1272.3V1279.1M223.5,1272.0V1282.8M224.5,1272.6V1280.7M225.5,1270.7V1280.3M226.5,1271.1V1277.1M227.5,1266.6V1276.9M228.5,1266.6V1276.6M229.5,1270.2V1275.5M230.5,1268.4V1274.6M231.5,1265.4V1274.0M232.5,1262.9V1273.6M233.5,1266.1V1283.5M234.5,1274.3V1308.0M235.5,1296.6V1308.0M236.5,1293.7V1305.0M237.5,1286.3V1298.2M238.5,1290.0V1295.8M239.5,1286.1V1294.2M240.5,1285.4V1292.3M241.5,1284.1V1290.6M242.5,1283.2V1289.3M243.5,1282.0V1291.3M244.5,1280.5V1291.3M245.5,1278.8V1285.5M246.5,1278.0V1284.5M247.5,1277.2V1287.2M248.5,1275.0V1282.8M249.5,1276.7V1281.9M250.5,1276.0V1283.6M251.5,1276.0V1292.1M252.5,1288.4V1301.4M253.5,1286.9V1297.2M254.5,1286.0V1297.1M255.5,1284.4V1293.2M256.5,1283.5V1295.7M257.5,1281.9V1288.0M258.5,1280.7V1286.7M259.5,1276.3V1287.5M260.5,1275.9V1286.5M261.5,1275.0V1285.2M262.5,1277.4V1282.7M263.5,1276.2V1283.5M264.5,1275.7V1282.1M265.5,1272.1V1281.7M266.5,1273.0V1285.6M267.5,1272.5V1284.0M268.5,1274.6V1283.1M269.5,1274.0V1279.2M270.5,1272.4V1283.8M271.5,1274.5V1284.5M272.5,1274.7V1283.7M273.5,1272.8V1280.8M274.5,1270.9V1280.8M275.5,1268.9V1280.5M276.5,1275.1V1278.9M277.5,1275.0V1278.7M278.5,1272.2V1284.8M279.5,1274.0V1279.2M280.5,1273.6V1280.9M281.5,1270.8V1284.5M282.5,1280.6V1288.2M283.5,1279.5V1291.6M284.5,1280.1V1289.4M285.5,1280.9V1285.4M286.5,1278.8V1285.2M287.5,1277.6V1285.3M288.5,1273.7V1288.7M289.5,1274.6V1283.1M290.5,1271.8V1285.9M291.5,1273.1V1281.8M292.5,1272.6V1282.9M293.5,1271.8V1282.8M294.5,1272.9V1281.5M295.5,1272.9V1280.6M296.5,1271.8V1279.2M297.5,1273.7V1373.6M298.5,1329.4V1347.7M299.5,1324.6V1339.2M300.5,1319.7V1331.9M301.5,1315.5V1328.7M302.5,1310.7V1322.6M303.5,1301.2V1317.4M304.5,1299.9V1310.9M305.5,1298.2V1306.9M306.5,1294.9V1305.6M307.5,1289.9V1301.1M308.5,1287.3V1300.4M309.5,1285.1V1298.8M310.5,1285.3V1292.6M311.5,1283.8V1290.8M312.5,1282.2V1288.2M313.5,1281.3V1286.5M314.5,1276.1V1286.9M315.5,1276.5V1285.0M316.5,1277.7V1284.0M317.5,1276.7V1283.2M318.5,1274.5V1285.5M319.5,1273.6V1283.0M320.5,1275.1V1280.2M321.5,1274.0V1279.3M322.5,1269.7V1281.0M323.5,1268.3V1277.5M324.5,1272.9V1282.1M325.5,1272.9V1281.9M326.5,1273.0V1282.0M327.5,1271.0V1278.6M328.5,1271.7V1281.5M329.5,1272.3V1281.7M330.5,1274.1V1283.7M331.5,1274.8V1279.3M332.5,1274.5V1283.9M333.5,1273.0V1278.4M334.5,1271.1V1278.5M335.5,1274.2V1279.9M336.5,1272.3V1280.6M337.5,1271.4V1279.9M338.5,1273.0V1281.9M339.5,1272.2V1279.5M340.5,1271.4V1278.7M341.5,1270.2V1280.1M342.5,1272.8V1280.9M343.5,1274.8V1282.9M344.5,1276.8V1285.2M345.5,1276.2V1285.2M346.5,1275.0V1285.3M347.5,1270.3V1284.2M348.5,1272.8V1279.7M349.5,1272.5V1281.1M350.5,1271.9V1278.4M351.5,1270.0V1283.1M352.5,1269.6V1279.4M353.5,1271.0V1277.4M354.5,1270.5V1276.7M355.5,1265.9V1276.3M356.5,1267.1V1275.4M357.5,1264.1V1274.9M358.5,1268.8V1275.3M359.5,1264.3V1273.6M360.5,1265.7V1273.6M361.5,1267.7V1273.4M362.5,1267.7V1303.0M363.5,1290.7V1303.6M364.5,1288.6V1295.4M365.5,1284.9V1298.1M366.5,1282.9V1295.0M367.5,1274.6V1288.7M368.5,1272.6V1286.8M369.5,1277.4V1288.1M370.5,1272.6V1283.0M371.5,1276.0V1282.3M372.5,1274.9V1281.2M373.5,1274.0V1280.2M374.5,1271.9V1284.3M375.5,1271.3V1277.6M376.5,1268.0V1281.6M377.5,1271.4V1277.1M378.5,1271.0V1278.6M379.5,1270.4V1278.0M380.5,1269.7V1275.4M381.5,1268.7V1281.8M382.5,1267.5V1275.5M383.5,1266.8V1277.9M384.5,1265.7V1274.9M385.5,1268.0V1274.7M386.5,1268.0V1275.0M387.5,1266.1V1275.6M388.5,1268.9V1339.0M389.5,1321.3V1338.5M390.5,1312.2V1329.1M391.5,1305.2V1317.6M392.5,1299.9V1310.8M393.5,1296.2V1306.8M394.5,1292.6V1303.2M395.5,1289.6V1299.6M396.5,1284.5V1297.4M397.5,1285.7V1293.1M398.5,1284.0V1290.7M399.5,1280.1V1290.5M400.5,1282.5V1290.3M401.5,1282.5V1287.9M402.5,1278.7V1292.6M403.5,1277.5V1302.8M404.5,1289.5V1301.1M405.5,1290.9V1298.5M406.5,1289.1V1296.0M407.5,1281.6V1294.8M408.5,1285.7V1294.0M409.5,1284.5V1292.1M410.5,1280.6V1293.6M411.5,1280.2V1292.5M412.5,1281.7V1291.4M413.5,1280.6V1293.2M414.5,1278.4V1288.8M415.5,1277.7V1291.4M416.5,1284.4V1290.0M417.5,1283.2V1290.8M418.5,1281.1V1289.0M419.5,1279.5V1286.0M420.5,1277.8V1284.1M421.5,1276.7V1282.6M422.5,1275.6V1282.8M423.5,1274.3V1281.8M424.5,1273.4V1280.5M425.5,1270.8V1280.6M426.5,1270.0V1279.8M427.5,1266.5V1282.8M428.5,1267.9V1278.4M429.5,1271.4V1275.7M430.5,1270.4V1276.9M431.5,1269.4V1280.6M432.5,1269.2V1275.6M433.5,1270.4V1277.0M434.5,1267.3V1283.5M435.5,1267.4V1305.5M436.5,1292.7V1301.0M437.5,1290.4V1303.4M438.5,1288.3V1298.4M439.5,1286.6V1297.9M440.5,1285.0V1297.0M441.5,1283.5V1292.8M442.5,1283.1V1290.0M443.5,1282.1V1288.7M444.5,1278.7V1293.4M445.5,1280.6V1288.3M446.5,1278.7V1286.8M447.5,1277.4V1287.3M448.5,1276.7V1290.0M449.5,1273.2V1285.0M450.5,1274.9V1281.2M451.5,1271.4V1286.2M452.5,1273.4V1280.8M453.5,1271.1V1279.9M454.5,1273.8V1278.8M455.5,1271.6V1278.2M456.5,1270.5V1278.5M457.5,1270.2V1278.1M458.5,1271.5V1277.1M459.5,1271.5V1276.1M460.5,1270.9V1276.0M461.5,1270.8V1275.6M462.5,1269.4V1276.3M463.5,1269.1V1276.3M464.5,1265.3V1274.9M465.5,1266.0V1276.6M466.5,1266.6V1276.2M467.5,1265.7V1275.3M468.5,1269.1V1273.0M469.5,1269.1V1272.7M470.5,1267.4V1276.3M471.5,1267.1V1278.8M472.5,1268.9V1273.5M473.5,1266.0V1274.0M474.5,1266.6V1277.8M475.5,1269.8V1279.9M476.5,1268.1V1274.6M477.5,1266.8V1274.4M478.5,1269.5V1274.9M479.5,1271.0V1277.1M480.5,1271.4V1277.5M481.5,1271.8V1277.8M482.5,1271.6V1276.7M483.5,1272.2V1278.8M484.5,1272.6V1281.9M485.5,1272.8V1277.2M486.5,1271.1V1278.8M487.5,1270.5V1276.9M488.5,1266.5V1276.3M489.5,1270.4V1275.9M490.5,1270.0V1275.4M491.5,1269.3V1274.5M492.5,1268.7V1273.9M493.5,1264.4V1273.3M494.5,1268.0V1273.4M495.5,1267.4V1272.7M496.5,1264.9V1277.1M497.5,1266.7V1272.2M498.5,1266.0V1275.2M499.5,1265.7V1269.8M500.5,1264.4V1269.7M501.5,1265.1V1270.0M502.5,1265.1V1281.6M503.5,1277.1V1296.3M504.5,1291.1V1296.1M505.5,1285.5V1295.5M506.5,1282.5V1290.9M507.5,1280.2V1288.2M508.5,1277.0V1288.2M509.5,1273.6V1282.6M510.5,1273.0V1279.3M511.5,1271.5V1277.5M512.5,1268.5V1278.5M513.5,1269.5V1277.3M514.5,1265.7V1275.5M515.5,1266.7V1277.2M516.5,1262.4V1275.3M517.5,1265.8V1275.8M518.5,1265.5V1273.9M519.5,1266.2V1270.8M520.5,1265.5V1270.5M521.5,1263.5V1274.2M522.5,1264.7V1271.7M523.5,1261.0V1271.0M524.5,1262.0V1268.8M525.5,1263.4V1268.3M526.5,1262.5V1270.3M527.5,1261.4V1270.3M528.5,1258.4V1269.5M529.5,1262.7V1269.5M530.5,1262.8V1271.9M531.5,1261.1V1267.7M532.5,1263.4V1272.6M533.5,1262.6V1267.6M534.5,1259.4V1267.8M535.5,1260.6V1266.6M536.5,1260.2V1269.2M537.5,1257.8V1265.6M538.5,1257.8V1287.0M539.5,1276.6V1311.0M540.5,1299.6V1324.8M541.5,1295.5V1313.0M542.5,1290.2V1301.4M543.5,1285.8V1297.0M544.5,1278.8V1296.2M545.5,1277.8V1286.4M546.5,1272.3V1282.9M547.5,1273.0V1281.6M548.5,1271.4V1280.9M549.5,1266.9V1277.7M550.5,1269.2V1275.5M551.5,1266.4V1275.2M552.5,1265.7V1274.4M553.5,1266.3V1278.2M554.5,1266.0V1275.8M555.5,1267.9V1273.1M556.5,1268.1V1273.3M557.5,1263.9V1277.3M558.5,1267.4V1273.5M559.5,1267.3V1273.3M560.5,1268.4V1272.3M561.5,1268.5V1274.7M562.5,1267.1V1273.1M563.5,1265.4V1272.6M564.5,1265.2V1272.5M565.5,1266.8V1272.7M566.5,1266.5V1272.7M567.5,1266.3V1272.0M568.5,1267.5V1271.4M569.5,1267.7V1271.9M570.5,1268.5V1272.0M571.5,1268.5V1276.8M572.5,1268.5V1276.0M573.5,1266.5V1276.8M574.5,1265.9V1274.5M575.5,1265.3V1272.5M576.5,1265.5V1274.4M577.5,1268.0V1274.9M578.5,1267.9V1273.8M579.5,1267.5V1272.9M580.5,1264.0V1272.7M581.5,1267.1V1276.6M582.5,1267.7V1276.5M583.5,1260.7V1272.3M584.5,1264.6V1277.2M585.5,1267.4V1274.8M586.5,1262.2V1275.4M587.5,1266.2V1272.6M588.5,1267.0V1271.9M589.5,1267.6V1274.8M590.5,1267.7V1275.6M591.5,1268.4V1278.0M592.5,1269.5V1279.6M593.5,1270.8V1279.8M594.5,1270.2V1277.9M595.5,1270.2V1281.4M596.5,1269.6V1275.9M597.5,1268.0V1275.4M598.5,1267.1V1276.5M599.5,1266.9V1273.7M600.5,1265.0V1272.8M601.5,1267.0V1276.2M602.5,1266.6V1272.2M603.5,1265.7V1271.5M604.5,1265.8V1274.3M605.5,1265.4V1271.7M606.5,1262.3V1271.3M607.5,1262.2V1271.8M608.5,1260.4V1271.6M609.5,1264.1V1271.4M610.5,1262.1V1268.6M611.5,1261.2V1268.9M612.5,1263.4V1270.7M613.5,1263.4V1270.7M614.5,1263.2V1270.4M615.5,1260.7V1268.7M616.5,1261.2V1271.7M617.5,1261.0V1273.0M618.5,1263.1V1268.2M619.5,1263.4V1271.5M620.5,1262.5V1270.7M621.5,1258.1V1266.1M622.5,1259.4V1265.9M623.5,1261.7V1266.8M624.5,1261.9V1273.7M625.5,1261.9V1274.5M626.5,1262.5V1270.4M627.5,1260.1V1269.5M628.5,1260.5V1269.4M629.5,1256.2V1267.4M630.5,1263.4V1268.6M631.5,1262.1V1267.1M632.5,1261.5V1266.7M633.5,1261.9V1271.2M634.5,1261.7V1271.2M635.5,1260.7V1268.4M636.5,1260.3V1268.2M637.5,1260.3V1268.4M638.5,1262.2V1267.9M639.5,1262.2V1266.9M640.5,1262.5V1267.1M641.5,1262.0V1275.4M642.5,1264.2V1273.0M643.5,1264.5V1272.8M644.5,1263.9V1271.6M645.5,1261.3V1272.2M646.5,1265.4V1272.7M647.5,1264.5V1276.4M648.5,1266.0V1273.6M649.5,1266.5V1274.2M650.5,1267.2V1273.0M651.5,1262.8V1272.9M652.5,1267.1V1293.3M653.5,1285.9V1312.6M654.5,1296.7V1316.3M655.5,1288.5V1302.9M656.5,1282.7V1293.3M657.5,1280.0V1288.9M658.5,1276.8V1289.4M659.5,1274.8V1286.7M660.5,1273.4V1283.4M661.5,1272.6V1279.7M662.5,1271.9V1279.0M663.5,1272.8V1278.0M664.5,1272.5V1279.5M665.5,1272.4V1281.2M666.5,1270.4V1280.6M667.5,1267.4V1276.5M668.5,1272.1V1276.6M669.5,1271.7V1276.6M670.5,1268.9V1281.6M671.5,1271.7V1276.9M672.5,1270.9V1276.3M673.5,1268.2V1275.8M674.5,1269.2V1281.2M675.5,1266.1V1274.9M676.5,1266.7V1274.9M677.5,1270.3V1274.9M678.5,1269.7V1279.4M679.5,1269.5V1279.4M680.5,1267.3V1275.9M681.5,1267.5V1276.2M682.5,1269.9V1278.5M683.5,1266.3V1278.5M684.5,1271.1V1277.6M685.5,1271.0V1277.6M686.5,1271.0V1314.9M687.5,1309.0V1349.2M688.5,1334.6V1380.9M689.5,1328.7V1348.1M690.5,1322.5V1337.6M691.5,1317.7V1331.7M692.5,1312.8V1326.0M693.5,1306.3V1318.1M694.5,1305.5V1313.6M695.5,1301.4V1309.4M696.5,1296.0V1305.7M697.5,1295.1V1302.3M698.5,1289.0V1305.5M699.5,1286.1V1299.3M700.5,1286.5V1295.1M701.5,1284.7V1293.0M702.5,1280.0V1291.5M703.5,1283.2V1290.0M704.5,1283.2V1290.0M705.5,1282.6V1288.7M706.5,1279.8V1291.9M707.5,1279.6V1285.1M708.5,1275.2V1284.1M709.5,1275.6V1285.5M710.5,1275.4V1284.5M711.5,1277.3V1282.0M712.5,1276.7V1281.2M713.5,1274.4V1282.1M714.5,1273.7V1279.9M715.5,1273.4V1279.5M716.5,1272.9V1284.2M717.5,1272.8V1278.7M718.5,1273.1V1280.0M719.5,1274.4V1279.6M720.5,1271.8V1279.2M721.5,1272.5V1279.1M722.5,1273.6V1279.1M723.5,1271.4V1277.9M724.5,1270.3V1277.7M725.5,1273.9V1277.6M726.5,1267.6V1277.7M727.5,1271.2V1280.7M728.5,1272.5V1281.1M729.5,1270.5V1278.5M730.5,1270.1V1278.5M731.5,1271.4V1277.8M732.5,1272.1V1277.0M733.5,1270.5V1276.9M734.5,1271.7V1276.5M735.5,1271.9V1281.0M736.5,1269.8V1277.6M737.5,1269.8V1334.1M738.5,1315.2V1336.0M739.5,1310.6V1323.8M740.5,1300.5V1316.0M741.5,1297.3V1314.3M742.5,1294.2V1303.3M743.5,1290.5V1298.9M744.5,1286.1V1296.2M745.5,1283.6V1293.0M746.5,1282.9V1291.2M747.5,1281.3V1288.7M748.5,1277.9V1292.3M749.5,1282.5V1298.3M750.5,1286.0V1298.3M751.5,1281.3V1293.1M752.5,1279.4V1287.3M753.5,1276.0V1285.5M754.5,1275.2V1285.5M755.5,1273.5V1282.1M756.5,1273.4V1284.1M757.5,1269.0V1278.5M758.5,1271.8V1277.6M759.5,1268.6V1276.6M760.5,1270.4V1277.2M761.5,1270.2V1276.6M762.5,1269.7V1275.5M763.5,1269.7V1276.1M764.5,1269.3V1281.2M765.5,1269.3V1276.3M766.5,1267.2V1283.2M767.5,1269.4V1278.7M768.5,1269.7V1275.8M769.5,1269.3V1275.6M770.5,1267.2V1274.7M771.5,1270.5V1276.0M772.5,1267.2V1275.4M773.5,1262.5V1279.9M774.5,1267.6V1283.6M775.5,1276.9V1295.1M776.5,1279.6V1289.7M777.5,1278.1V1286.0M778.5,1277.0V1289.6M779.5,1275.8V1281.1M780.5,1271.1V1279.7M781.5,1272.7V1283.0M782.5,1268.2V1282.7M783.5,1271.7V1281.3M784.5,1271.2V1276.7M785.5,1272.3V1277.1M786.5,1270.8V1277.1M787.5,1269.1V1276.9M788.5,1270.4V1277.2M789.5,1270.6V1280.9M790.5,1269.5V1280.8M791.5,1269.3V1275.8M792.5,1268.8V1277.6M793.5,1266.3V1274.1M794.5,1267.8V1274.0M795.5,1266.5V1279.8M796.5,1269.3V1274.6M797.5,1269.4V1274.1M798.5,1267.6V1274.2M799.5,1267.8V1274.4M800.5,1268.8V1276.0M801.5,1267.9V1278.9M802.5,1269.3V1279.3M803.5,1272.1V1286.2M804.5,1274.8V1284.5M805.5,1274.2V1281.2M806.5,1271.9V1284.5M807.5,1268.9V1282.1M808.5,1271.4V1280.1M809.5,1268.9V1275.3M810.5,1270.2V1274.7M811.5,1266.8V1274.8M812.5,1269.0V1273.2M813.5,1264.4V1277.9M814.5,1267.2V1275.5M815.5,1263.7V1275.1M816.5,1267.3V1274.9M817.5,1266.9V1279.4M818.5,1266.1V1270.7M819.5,1267.1V1273.4M820.5,1267.0V1273.4M821.5,1267.0V1273.2M822.5,1265.8V1276.3M823.5,1266.5V1276.0M824.5,1267.5V1272.8M825.5,1268.0V1272.8M826.5,1267.4V1275.2M827.5,1265.7V1275.3M828.5,1267.1V1275.6M829.5,1268.6V1274.6M830.5,1268.7V1274.8M831.5,1266.4V1275.8M832.5,1266.6V1273.7M833.5,1268.5V1275.4M834.5,1268.7V1273.4M835.5,1263.1V1272.6M836.5,1262.2V1272.1M837.5,1267.6V1274.1M838.5,1267.6V1272.3M839.5,1265.0V1276.4M840.5,1265.0V1273.9M841.5,1268.4V1280.5M842.5,1265.5V1276.5M843.5,1268.6V1274.2M844.5,1268.6V1274.2M845.5,1266.4V1272.5M846.5,1268.3V1276.4M847.5,1268.1V1275.5M848.5,1266.1V1272.0M849.5,1267.7V1273.6M850.5,1267.1V1271.7M851.5,1264.3V1271.4M852.5,1262.8V1274.4M853.5,1265.9V1274.9M854.5,1265.7V1271.2M855.5,1266.5V1270.7M856.5,1262.4V1271.1M857.5,1267.1V1274.5M858.5,1267.2V1272.7M859.5,1263.4V1272.4M860.5,1267.1V1272.4M861.5,1264.0V1274.9M862.5,1266.4V1272.1M863.5,1266.5V1272.1M864.5,1266.2V1272.0M865.5,1265.3V1273.5M866.5,1264.4V1269.6M867.5,1264.4V1268.7M868.5,1265.2V1269.9M869.5,1261.7V1272.5M870.5,1264.0V1269.6M871.5,1263.0V1276.0M872.5,1264.6V1273.0M873.5,1264.6V1275.6M874.5,1265.4V1276.5M875.5,1262.7V1274.0M876.5,1263.1V1271.8M877.5,1263.2V1290.7M878.5,1275.5V1286.4M879.5,1268.7V1281.1M880.5,1267.3V1281.0M881.5,1269.2V1275.7M882.5,1266.8V1278.3M883.5,1266.4V1271.9M884.5,1267.2V1275.6M885.5,1262.6V1379.4M886.5,1265.2V1339.9M887.5,1316.6V1339.9M888.5,1303.5V1322.1M889.5,1294.2V1308.7M890.5,1286.4V1301.8M891.5,1279.7V1295.1M892.5,1275.3V1288.2M893.5,1277.4V1284.0M894.5,1273.4V1282.2M895.5,1273.3V1279.3M896.5,1272.3V1277.8M897.5,1272.3V1276.4M898.5,1267.9V1276.5M899.5,1269.4V1275.8M900.5,1264.8V1274.7M901.5,1268.5V1276.1M902.5,1268.0V1273.3M903.5,1266.6V1272.4M904.5,1267.9V1274.7M905.5,1267.6V1271.6M906.5,1267.2V1271.3M907.5,1266.4V1271.7M908.5,1266.9V1271.8M909.5,1265.3V1273.6M910.5,1267.0V1290.7M911.5,1277.6V1290.9M912.5,1280.1V1289.7M913.5,1276.3V1285.6M914.5,1275.9V1285.7M915.5,1274.6V1281.1M916.5,1268.4V1280.5M917.5,1271.0V1281.4M918.5,1270.1V1278.1M919.5,1267.1V1275.4M920.5,1267.7V1276.3M921.5,1265.8V1278.7M922.5,1268.5V1273.2M923.5,1266.6V1273.0M924.5,1268.2V1272.6M925.5,1268.2V1271.9M926.5,1267.2V1273.2M927.5,1262.8V1273.2M928.5,1263.7V1276.3M929.5,1265.0V1273.8M930.5,1265.0V1273.9M931.5,1267.3V1273.1M932.5,1264.5V1277.1M933.5,1267.6V1272.9M934.5,1267.5V1271.2M935.5,1267.3V1275.8M936.5,1261.6V1273.1M937.5,1265.4V1273.1M938.5,1262.7V1273.1M939.5,1264.2V1272.0M940.5,1262.3V1272.1M941.5,1265.3V1272.3M942.5,1266.3V1272.9M943.5,1266.7V1272.9M944.5,1266.6V1273.8M945.5,1266.2V1271.5M946.5,1266.9V1276.6M947.5,1265.6V1273.2M948.5,1266.2V1271.9M949.5,1266.4V1272.3M950.5,1268.3V1276.8M951.5,1268.1V1273.3M952.5,1265.3V1273.0M953.5,1267.1V1276.3M954.5,1265.9V1271.9M955.5,1266.6V1271.9M956.5,1266.3V1271.6M957.5,1266.1V1271.4M958.5,1265.4V1271.6M959.5,1265.4V1278.5M960.5,1271.9V1279.3M961.5,1271.0V1277.8M962.5,1270.2V1276.9M963.5,1268.5V1276.3M964.5,1264.6V1277.8M965.5,1268.4V1272.5M966.5,1265.5V1272.4M967.5,1263.2V1272.9M968.5,1267.5V1272.9M969.5,1263.5V1273.0M970.5,1267.8V1272.4M971.5,1267.8V1272.3M972.5,1268.3V1274.7M973.5,1266.8V1272.9M974.5,1269.0V1273.0M975.5,1266.9V1276.3M976.5,1265.7V1277.2M977.5,1266.9V1274.5M978.5,1269.4V1277.4M979.5,1268.0V1276.0M980.5,1269.9V1276.3M981.5,1270.1V1276.3M982.5,1267.4V1276.3M983.5,1270.7V1276.7M984.5,1269.7V1277.1M985.5,1271.1V1277.1M986.5,1269.7V1362.7M987.5,1270.0V1331.6M988.5,1315.9V1331.6M989.5,1305.6V1323.3M990.5,1300.1V1314.8M991.5,1294.1V1308.2M992.5,1289.5V1300.2M993.5,1282.3V1295.8M994.5,1282.9V1300.0M995.5,1295.0V1337.7M996.5,1318.0V1336.2M997.5,1309.1V1329.5M998.5,1301.6V1316.3M999.5,1295.6V1307.6M1000.5,1291.1V1305.7M1001.5,1287.0V1299.4M1002.5,1284.1V1291.8M1003.5,1280.8V1290.0M1004.5,1278.0V1290.3M1005.5,1275.8V1286.4M1006.5,1272.6V1285.4M1007.5,1272.6V1301.0M1008.5,1292.5V1306.1M1009.5,1287.3V1307.9M1010.5,1284.5V1298.9M1011.5,1279.0V1294.3M1012.5,1272.5V1284.2M1013.5,1270.7V1286.2M1014.5,1271.1V1279.9M1015.5,1269.9V1283.3M1016.5,1270.0V1279.9M1017.5,1267.7V1274.3M1018.5,1268.5V1278.7M1019.5,1263.8V1274.9M1020.5,1262.9V1278.1M1021.5,1260.2V1278.4M1022.5,1263.8V1271.3M1023.5,1264.2V1271.0M1024.5,1259.6V1270.4M1025.5,1263.5V1271.7M1026.5,1262.9V1271.4M1027.5,1262.3V1268.6M1028.5,1262.7V1273.3M1029.5,1262.4V1269.1M1030.5,1262.9V1266.9M1031.5,1261.0V1268.5M1032.5,1261.0V1268.2M1033.5,1259.8V1270.8M1034.5,1262.8V1273.0M1035.5,1262.5V1266.7M1036.5,1262.7V1267.5M1037.5,1262.1V1271.3M1038.5,1260.9V1269.8M1039.5,1261.2V1270.0M1040.5,1261.5V1273.3M1041.5,1261.7V1270.0M1042.5,1262.9V1271.2M1043.5,1264.3V1271.4M1044.5,1265.5V1271.4M1045.5,1264.9V1273.3M1046.5,1264.0V1271.4M1047.5,1260.5V1273.1M1048.5,1261.7V1271.5M1049.5,1262.3V1270.0M1050.5,1262.3V1273.8M1051.5,1262.6V1269.1M1052.5,1262.2V1268.8M1053.5,1264.7V1269.2M1054.5,1264.8V1269.2M1055.5,1261.5V1269.2M1056.5,1264.3V1272.9M1057.5,1261.9V1272.4M1058.5,1264.5V1272.2M1059.5,1262.0V1271.4M1060.5,1262.0V1270.8M1061.5,1261.3V1269.2" fill="none" stroke="#141414" stroke-width="1" shape-rendering="crispEdges"/>
<path d="M162.5,1399.8V1411.6M163.5,1402.7V1415.1M164.5,1408.0V1414.8M165.5,1407.5V1413.1M166.5,1406.9V1414.4M167.5,1403.4V1411.4M168.5,1406.4V1411.0M169.5,1405.6V1409.5M170.5,1405.2V1409.3M171.5,1403.1V1410.3M172.5,1403.0V1410.2M173.5,1400.7V1409.7M174.5,1402.0V1409.7M175.5,1402.2V1411.3M176.5,1403.6V1411.2M177.5,1403.6V1411.1M178.5,1404.6V1408.4M179.5,1402.5V1408.2M180.5,1399.6V1410.1M181.5,1403.0V1407.7M182.5,1400.4V1407.7M183.5,1403.7V1408.4M184.5,1403.6V1408.2M185.5,1403.6V1408.7M186.5,1404.3V1411.7M187.5,1403.1V1407.7M188.5,1403.1V1411.1M189.5,1404.1V1408.9M190.5,1403.4V1413.0M191.5,1403.4V1411.0M192.5,1401.9V1408.2M193.5,1403.4V1411.0M194.5,1403.3V1409.6M195.5,1401.9V1407.2M196.5,1403.6V1411.5M197.5,1404.1V1407.7M198.5,1404.4V1407.7M199.5,1404.4V1407.8M200.5,1404.8V1409.8M201.5,1402.7V1409.2M202.5,1404.7V1409.4M203.5,1404.6V1407.8M204.5,1404.6V1407.5M205.5,1402.7V1407.7M206.5,1401.2V1407.3M207.5,1403.5V1407.5M208.5,1403.3V1407.5M209.5,1403.9V1410.9M210.5,1403.1V1407.7M211.5,1400.9V1407.7M212.5,1401.7V1407.4M213.5,1401.6V1407.4M214.5,1401.3V1411.7M215.5,1401.5V1408.1M216.5,1404.1V1407.2M217.5,1404.1V1407.2M218.5,1400.5V1410.8M219.5,1403.0V1407.4M220.5,1402.5V1406.9M221.5,1402.6V1407.4M222.5,1403.3V1410.4M223.5,1403.6V1416.3M224.5,1409.7V1422.1M225.5,1412.0V1419.8M226.5,1413.0V1418.1M227.5,1412.9V1417.0M228.5,1411.1V1416.3M229.5,1411.2V1419.2M230.5,1408.8V1415.4M231.5,1408.7V1414.7M232.5,1408.4V1413.9M233.5,1408.2V1413.4M234.5,1407.4V1412.9M235.5,1407.0V1412.0M236.5,1408.7V1412.1M237.5,1408.4V1412.0M238.5,1408.4V1427.4M239.5,1412.0V1421.2M240.5,1411.9V1425.0M241.5,1408.5V1417.6M242.5,1407.6V1412.9M243.5,1406.2V1417.2M244.5,1406.0V1413.1M245.5,1407.7V1410.9M246.5,1407.1V1410.2M247.5,1405.3V1413.3M248.5,1406.2V1411.6M249.5,1405.8V1415.4M250.5,1405.7V1415.0M251.5,1405.2V1409.2M252.5,1402.2V1408.7M253.5,1402.2V1408.5M254.5,1399.2V1411.0M255.5,1403.8V1410.5M256.5,1405.8V1412.8M257.5,1406.0V1411.0M258.5,1406.3V1411.8M259.5,1404.6V1409.7M260.5,1402.3V1408.9M261.5,1403.7V1408.9M262.5,1403.4V1408.6M263.5,1405.0V1410.2M264.5,1404.4V1412.7M265.5,1402.3V1408.2M266.5,1401.9V1408.0M267.5,1401.1V1406.9M268.5,1401.5V1406.7M269.5,1402.7V1407.8M270.5,1401.1V1408.2M271.5,1404.2V1410.2M272.5,1403.1V1410.2M273.5,1401.4V1410.3M274.5,1404.0V1408.9M275.5,1399.8V1408.9M276.5,1402.0V1408.4M277.5,1402.1V1408.5M278.5,1403.7V1407.5M279.5,1402.8V1408.0M280.5,1402.6V1407.6M281.5,1402.6V1407.4M282.5,1401.7V1406.2M283.5,1401.7V1405.9M284.5,1402.1V1406.9M285.5,1403.0V1410.4M286.5,1402.7V1407.9M287.5,1401.0V1408.5M288.5,1399.8V1408.9M289.5,1401.6V1407.8M290.5,1401.5V1407.8M291.5,1401.1V1407.3M292.5,1401.6V1407.4M293.5,1403.7V1409.4M294.5,1402.3V1409.1M295.5,1402.3V1408.8M296.5,1399.8V1406.2M297.5,1401.3V1405.8M298.5,1402.4V1405.6M299.5,1401.5V1408.2M300.5,1400.2V1405.1M301.5,1399.9V1405.0M302.5,1401.0V1408.5M303.5,1401.0V1405.3M304.5,1400.1V1407.9M305.5,1398.7V1404.8M306.5,1399.7V1406.6M307.5,1399.7V1404.3M308.5,1401.0V1404.4M309.5,1401.1V1405.2M310.5,1401.1V1405.0M311.5,1400.5V1404.2M312.5,1400.4V1404.1M313.5,1399.9V1403.9M314.5,1399.7V1405.2M315.5,1400.2V1409.0M316.5,1399.9V1404.1M317.5,1399.9V1404.1M318.5,1400.8V1404.9M319.5,1401.6V1405.3M320.5,1401.6V1408.9M321.5,1401.3V1410.4M322.5,1400.8V1405.4M323.5,1401.9V1405.4M324.5,1400.9V1405.5M325.5,1400.9V1405.6M326.5,1402.2V1408.7M327.5,1402.2V1417.1M328.5,1407.3V1420.2M329.5,1405.0V1413.7M330.5,1403.8V1410.8M331.5,1401.6V1410.1M332.5,1403.8V1408.3M333.5,1402.4V1409.2M334.5,1403.7V1411.0M335.5,1402.4V1406.4M336.5,1402.4V1406.3M337.5,1401.4V1406.4M338.5,1402.9V1410.5M339.5,1401.9V1407.1M340.5,1397.9V1406.4M341.5,1398.7V1407.3M342.5,1400.4V1407.5M343.5,1401.9V1407.5M344.5,1399.9V1406.5M345.5,1400.2V1406.6M346.5,1402.0V1406.6M347.5,1402.9V1407.3M348.5,1401.9V1411.8M349.5,1402.4V1407.6M350.5,1402.2V1406.9M351.5,1404.3V1408.1M352.5,1403.6V1410.6M353.5,1403.6V1413.3M354.5,1403.5V1410.5M355.5,1400.3V1407.8M356.5,1403.2V1407.8M357.5,1401.8V1410.3M358.5,1401.5V1407.4M359.5,1403.4V1409.9M360.5,1403.4V1408.1M361.5,1401.9V1412.2M362.5,1403.0V1406.5M363.5,1403.0V1416.4M364.5,1409.3V1417.1M365.5,1407.0V1413.6M366.5,1404.6V1411.3M367.5,1405.4V1414.0M368.5,1404.8V1410.4M369.5,1404.3V1409.9M370.5,1402.6V1409.1M371.5,1404.4V1411.3M372.5,1404.3V1409.2M373.5,1404.8V1407.8M374.5,1404.9V1410.4M375.5,1404.7V1408.9M376.5,1404.6V1407.9M377.5,1404.7V1408.0M378.5,1404.8V1408.3M379.5,1404.2V1408.1M380.5,1401.0V1409.6M381.5,1402.9V1409.6M382.5,1401.4V1407.7M383.5,1402.1V1407.5M384.5,1400.9V1409.7M385.5,1402.1V1409.7M386.5,1402.1V1409.6M387.5,1403.0V1409.3M388.5,1402.5V1408.0M389.5,1403.6V1410.6M390.5,1403.5V1411.3M391.5,1402.0V1407.7M392.5,1402.0V1407.9M393.5,1403.5V1407.0M394.5,1403.5V1407.0M395.5,1401.2V1407.0M396.5,1401.7V1409.0M397.5,1403.8V1409.9M398.5,1403.8V1409.9M399.5,1401.0V1406.8M400.5,1403.5V1406.7M401.5,1403.3V1408.4M402.5,1400.9V1406.8M403.5,1402.8V1406.7M404.5,1402.4V1410.5M405.5,1402.4V1408.5M406.5,1402.4V1408.7M407.5,1402.3V1407.2M408.5,1399.9V1407.4M409.5,1403.5V1407.4M410.5,1399.5V1407.9M411.5,1401.7V1410.8M412.5,1403.6V1407.5M413.5,1403.4V1408.6M414.5,1403.2V1408.6M415.5,1403.2V1429.0M416.5,1424.9V1445.3M417.5,1423.5V1437.2M418.5,1418.0V1429.3M419.5,1413.8V1421.9M420.5,1408.0V1423.0M421.5,1406.8V1415.9M422.5,1406.1V1414.0M423.5,1407.7V1412.9M424.5,1404.6V1412.3M425.5,1407.3V1412.6M426.5,1406.8V1410.0M427.5,1405.3V1409.6M428.5,1405.3V1409.9M429.5,1406.2V1410.2M430.5,1406.2V1410.3M431.5,1406.9V1410.4M432.5,1406.8V1410.4M433.5,1405.0V1412.9M434.5,1404.7V1409.8M435.5,1404.4V1412.2M436.5,1404.4V1411.8M437.5,1403.9V1411.8M438.5,1404.5V1411.9M439.5,1404.1V1414.1M440.5,1402.3V1408.0M441.5,1402.3V1407.3M442.5,1403.4V1408.7M443.5,1403.0V1408.3M444.5,1403.2V1409.4M445.5,1402.6V1409.4M446.5,1402.4V1408.8M447.5,1399.3V1405.5M448.5,1402.3V1409.0M449.5,1400.1V1408.0M450.5,1400.0V1405.7M451.5,1401.2V1405.6M452.5,1400.8V1474.8M453.5,1410.4V1465.4M454.5,1453.3V1462.8M455.5,1449.2V1462.1M456.5,1442.7V1457.7M457.5,1441.8V1450.9M458.5,1440.7V1447.4M459.5,1437.8V1444.9M460.5,1433.4V1441.8M461.5,1429.2V1438.5M462.5,1429.9V1437.5M463.5,1425.5V1432.5M464.5,1426.1V1430.6M465.5,1423.9V1429.9M466.5,1422.2V1427.9M467.5,1420.0V1429.1M468.5,1419.1V1427.5M469.5,1416.6V1426.6M470.5,1417.7V1424.1M471.5,1416.7V1423.0M472.5,1414.0V1422.8M473.5,1412.9V1418.8M474.5,1412.8V1417.9M475.5,1411.8V1416.5M476.5,1411.8V1416.6M477.5,1411.3V1418.9M478.5,1407.5V1418.1M479.5,1410.1V1414.6M480.5,1409.9V1417.8M481.5,1409.6V1414.1M482.5,1408.6V1417.7M483.5,1407.5V1414.3M484.5,1408.2V1413.8M485.5,1407.8V1413.3M486.5,1407.5V1415.8M487.5,1404.4V1412.1M488.5,1405.9V1411.5M489.5,1405.2V1410.3M490.5,1406.6V1411.4M491.5,1406.4V1410.9M492.5,1404.9V1409.7M493.5,1404.5V1409.7M494.5,1404.5V1409.4M495.5,1405.7V1412.1M496.5,1403.4V1409.5M497.5,1405.9V1409.1M498.5,1402.4V1408.7M499.5,1405.6V1409.7M500.5,1405.4V1409.7M501.5,1404.8V1409.7M502.5,1404.3V1411.8M503.5,1405.0V1407.8M504.5,1404.7V1407.8M505.5,1404.7V1410.2M506.5,1400.5V1408.5M507.5,1402.3V1411.8M508.5,1401.7V1408.1M509.5,1401.5V1408.1M510.5,1402.3V1407.5M511.5,1402.2V1407.5M512.5,1404.2V1407.3M513.5,1403.7V1408.3M514.5,1404.0V1410.8M515.5,1404.2V1413.7M516.5,1401.0V1410.9M517.5,1402.7V1409.6M518.5,1403.6V1407.8M519.5,1403.6V1409.5M520.5,1404.2V1410.0M521.5,1401.2V1409.8M522.5,1402.6V1411.9M523.5,1402.7V1432.5M524.5,1423.2V1430.3M525.5,1422.2V1433.8M526.5,1419.5V1428.6M527.5,1415.5V1423.9M528.5,1412.0V1420.5M529.5,1413.4V1418.4M530.5,1408.5V1416.5M531.5,1409.5V1417.3M532.5,1409.0V1415.5M533.5,1408.5V1413.5M534.5,1407.8V1413.0M535.5,1407.0V1412.5M536.5,1406.9V1413.6M537.5,1406.2V1410.3M538.5,1405.4V1410.6M539.5,1405.2V1410.2M540.5,1403.4V1409.1M541.5,1404.2V1408.6M542.5,1403.9V1411.6M543.5,1403.1V1409.9M544.5,1402.9V1409.7M545.5,1402.6V1407.8M546.5,1404.5V1408.2M547.5,1402.1V1408.8M548.5,1401.8V1408.1M549.5,1403.6V1407.9M550.5,1403.6V1407.8M551.5,1403.8V1408.6M552.5,1400.9V1412.3M553.5,1403.3V1407.5M554.5,1402.8V1407.5M555.5,1402.0V1408.5M556.5,1403.5V1406.9M557.5,1401.4V1406.9M558.5,1402.5V1407.2M559.5,1400.9V1406.8M560.5,1404.1V1406.9M561.5,1403.1V1407.3M562.5,1402.8V1407.2M563.5,1403.8V1407.8M564.5,1402.9V1407.1M565.5,1402.7V1410.0M566.5,1402.5V1408.2M567.5,1403.3V1407.2M568.5,1403.3V1407.2M569.5,1400.5V1406.1M570.5,1400.3V1406.1M571.5,1402.2V1406.1M572.5,1400.3V1411.0M573.5,1403.0V1412.1M574.5,1400.9V1407.0M575.5,1404.1V1410.3M576.5,1404.5V1407.4M577.5,1403.1V1408.4M578.5,1403.0V1408.3M579.5,1402.3V1409.6M580.5,1401.7V1407.0M581.5,1403.7V1409.6M582.5,1402.9V1406.9M583.5,1402.5V1409.0M584.5,1398.8V1408.9M585.5,1403.1V1407.5M586.5,1401.1V1408.0M587.5,1403.3V1411.2M588.5,1403.2V1407.4M589.5,1402.9V1407.2M590.5,1402.4V1406.8M591.5,1402.3V1408.3M592.5,1400.9V1408.4M593.5,1400.9V1411.8M594.5,1402.4V1406.4M595.5,1399.5V1406.4M596.5,1401.8V1409.4M597.5,1401.8V1408.3M598.5,1402.4V1408.7M599.5,1404.2V1411.7M600.5,1407.8V1415.9M601.5,1408.8V1415.9M602.5,1407.1V1413.8M603.5,1404.4V1412.3M604.5,1406.0V1411.7M605.5,1403.8V1413.0M606.5,1404.3V1412.2M607.5,1402.8V1409.2M608.5,1400.1V1408.8M609.5,1402.5V1411.5M610.5,1400.5V1407.8M611.5,1402.3V1406.4M612.5,1399.3V1406.4M613.5,1402.0V1406.2M614.5,1396.0V1405.9M615.5,1395.2V1407.8M616.5,1397.8V1405.3M617.5,1399.1V1405.6M618.5,1399.9V1404.7M619.5,1401.4V1408.0M620.5,1398.6V1404.8M621.5,1400.8V1405.5M622.5,1400.9V1405.8M623.5,1401.2V1406.2M624.5,1401.9V1406.6M625.5,1402.1V1406.8M626.5,1401.6V1410.9M627.5,1401.9V1405.5M628.5,1400.2V1410.5M629.5,1402.6V1407.1M630.5,1402.7V1405.4M631.5,1402.4V1405.4M632.5,1400.4V1405.2M633.5,1400.0V1408.9M634.5,1399.8V1406.8M635.5,1401.2V1406.3M636.5,1399.3V1407.9M637.5,1399.9V1405.7M638.5,1399.0V1407.3M639.5,1396.2V1407.3M640.5,1398.2V1404.5M641.5,1401.2V1408.8M642.5,1399.0V1407.0M643.5,1396.6V1406.5M644.5,1402.0V1407.7M645.5,1401.7V1407.7M646.5,1401.7V1406.0M647.5,1401.8V1408.3M648.5,1400.1V1404.5M649.5,1400.0V1404.4M650.5,1400.7V1405.4M651.5,1397.6V1405.8M652.5,1400.5V1405.4M653.5,1399.7V1403.8M654.5,1399.7V1403.7M655.5,1398.5V1406.2M656.5,1399.2V1404.1M657.5,1399.1V1403.9M658.5,1398.9V1403.5M659.5,1399.3V1413.4M660.5,1409.9V1419.0M661.5,1414.2V1420.2M662.5,1413.2V1421.2M663.5,1412.0V1421.1M664.5,1411.7V1415.7M665.5,1410.8V1415.1M666.5,1408.7V1418.7M667.5,1408.2V1418.8M668.5,1407.7V1415.2M669.5,1408.3V1415.3M670.5,1407.8V1414.6M671.5,1407.4V1413.3M672.5,1406.4V1412.4M673.5,1403.9V1410.5M674.5,1403.9V1409.9M675.5,1405.1V1411.6M676.5,1404.7V1408.7M677.5,1404.5V1408.4M678.5,1404.9V1409.0M679.5,1402.3V1409.2M680.5,1402.1V1408.9M681.5,1404.2V1408.9M682.5,1405.7V1410.1M683.5,1405.9V1409.3M684.5,1404.8V1409.7M685.5,1402.9V1410.7M686.5,1404.3V1411.0M687.5,1406.1V1409.7M688.5,1405.7V1409.4M689.5,1405.7V1412.0M690.5,1404.5V1409.8M691.5,1404.9V1410.4M692.5,1403.2V1412.7M693.5,1405.5V1410.0M694.5,1406.5V1410.0M695.5,1406.6V1415.5M696.5,1405.5V1412.8M697.5,1401.7V1412.5M698.5,1405.8V1413.3M699.5,1405.7V1413.1M700.5,1402.1V1412.9M701.5,1405.2V1411.6M702.5,1405.1V1411.2M703.5,1404.4V1410.9M704.5,1404.4V1413.2M705.5,1404.4V1410.9M706.5,1405.3V1415.3M707.5,1402.6V1412.8M708.5,1404.0V1409.4M709.5,1404.9V1409.0M710.5,1404.9V1409.2M711.5,1405.5V1410.5M712.5,1404.5V1410.6M713.5,1404.5V1410.4M714.5,1401.9V1410.4M715.5,1404.1V1411.4M716.5,1401.5V1412.9M717.5,1403.2V1409.3M718.5,1403.1V1410.7M719.5,1403.9V1407.7M720.5,1400.7V1411.2M721.5,1402.0V1406.7M722.5,1402.0V1406.7M723.5,1403.2V1407.8M724.5,1403.2V1411.0M725.5,1403.7V1407.9M726.5,1400.7V1408.0M727.5,1402.8V1412.2M728.5,1402.2V1406.4M729.5,1403.3V1406.2M730.5,1401.9V1406.3M731.5,1402.5V1406.7M732.5,1400.9V1408.7M733.5,1402.4V1407.7M734.5,1401.9V1407.2M735.5,1402.6V1409.2M736.5,1402.8V1409.1M737.5,1402.6V1407.0M738.5,1401.5V1407.2M739.5,1401.7V1407.2M740.5,1400.0V1407.6M741.5,1400.3V1407.0M742.5,1402.9V1407.7M743.5,1400.8V1409.2M744.5,1402.6V1407.5M745.5,1402.1V1407.3M746.5,1402.6V1406.8M747.5,1399.8V1407.2M748.5,1402.9V1407.2M749.5,1400.3V1410.6M750.5,1403.9V1409.1M751.5,1404.1V1409.4M752.5,1400.1V1408.2M753.5,1402.4V1408.2M754.5,1402.4V1408.4M755.5,1403.4V1408.0M756.5,1403.4V1411.5M757.5,1401.5V1407.6M758.5,1404.8V1411.2M759.5,1404.6V1408.0M760.5,1404.8V1408.0M761.5,1404.9V1408.0M762.5,1404.9V1408.1M763.5,1405.4V1408.3M764.5,1405.4V1408.8M765.5,1405.1V1412.4M766.5,1400.5V1410.7M767.5,1400.7V1410.7M768.5,1403.1V1410.4M769.5,1405.9V1410.2M770.5,1405.8V1410.3M771.5,1405.7V1412.7M772.5,1404.6V1409.3M773.5,1402.7V1411.0M774.5,1404.9V1412.2M775.5,1404.9V1412.0M776.5,1405.1V1410.1M777.5,1403.5V1409.1M778.5,1404.5V1409.1M779.5,1404.4V1408.9M780.5,1405.0V1412.1M781.5,1401.8V1408.8M782.5,1404.5V1407.9M783.5,1404.2V1408.0M784.5,1404.2V1407.9M785.5,1401.9V1407.9M786.5,1402.2V1407.8M787.5,1403.3V1407.5M788.5,1403.5V1407.8M789.5,1404.9V1408.9M790.5,1404.8V1408.9M791.5,1405.0V1413.1M792.5,1404.7V1411.6M793.5,1404.2V1408.8M794.5,1404.2V1408.3M795.5,1405.1V1410.9M796.5,1402.8V1409.1M797.5,1403.0V1409.1M798.5,1401.6V1409.5M799.5,1405.7V1410.8M800.5,1405.5V1410.8M801.5,1405.5V1410.5M802.5,1405.6V1408.9M803.5,1405.9V1412.9M804.5,1403.2V1409.1M805.5,1405.9V1411.8M806.5,1406.1V1409.3M807.5,1406.3V1410.2M808.5,1402.4V1413.6M809.5,1402.9V1410.4M810.5,1404.7V1410.2M811.5,1405.9V1410.4M812.5,1406.2V1411.9M813.5,1407.1V1411.5M814.5,1406.9V1409.9M815.5,1406.8V1409.7M816.5,1405.5V1416.1M817.5,1406.8V1414.3M818.5,1406.9V1411.7M819.5,1407.1V1412.0M820.5,1406.2V1414.9M821.5,1405.5V1412.6M822.5,1405.5V1410.4M823.5,1405.4V1410.4M824.5,1405.6V1413.7M825.5,1405.5V1412.1M826.5,1404.0V1410.2M827.5,1405.0V1410.1M828.5,1406.7V1410.3M829.5,1401.3V1410.6M830.5,1406.4V1413.4M831.5,1403.4V1409.5M832.5,1402.4V1409.1M833.5,1405.7V1409.7M834.5,1404.8V1409.4M835.5,1404.8V1411.7M836.5,1401.8V1410.9M837.5,1404.5V1412.3M838.5,1404.9V1412.0M839.5,1404.9V1409.2M840.5,1400.0V1407.7M841.5,1402.7V1407.7M842.5,1399.8V1407.1M843.5,1399.6V1409.8M844.5,1402.8V1409.9M845.5,1402.1V1407.0M846.5,1403.2V1407.0M847.5,1400.2V1407.8M848.5,1401.2V1410.2M849.5,1400.9V1407.3M850.5,1399.8V1407.6M851.5,1402.1V1407.5M852.5,1400.7V1406.9M853.5,1400.0V1406.4M854.5,1402.1V1408.2M855.5,1401.8V1406.1M856.5,1400.3V1408.0M857.5,1399.2V1408.1M858.5,1401.2V1406.4M859.5,1400.6V1407.8M860.5,1401.1V1407.0M861.5,1399.9V1405.2M862.5,1399.9V1405.3M863.5,1397.7V1407.2M864.5,1397.5V1404.6M865.5,1400.4V1404.5M866.5,1398.4V1407.8M867.5,1400.1V1406.7M868.5,1399.6V1406.6M869.5,1400.4V1404.0M870.5,1400.3V1404.2M871.5,1398.6V1404.5M872.5,1401.2V1438.2M873.5,1419.9V1433.8M874.5,1413.7V1425.0M875.5,1411.9V1420.3M876.5,1409.4V1416.7M877.5,1408.7V1416.1M878.5,1404.7V1414.4M879.5,1406.8V1414.5M880.5,1406.1V1413.1M881.5,1404.9V1409.3M882.5,1404.5V1408.9M883.5,1403.5V1412.1M884.5,1403.2V1408.1M885.5,1403.2V1408.2M886.5,1401.7V1409.2M887.5,1404.7V1409.6M888.5,1403.5V1407.3M889.5,1403.4V1407.2M890.5,1403.4V1407.2M891.5,1403.4V1408.6M892.5,1403.6V1408.8M893.5,1403.3V1408.5M894.5,1403.9V1412.7M895.5,1401.1V1407.8M896.5,1403.3V1411.9M897.5,1404.2V1411.2M898.5,1404.6V1411.6M899.5,1404.9V1411.8M900.5,1406.7V1413.1M901.5,1406.3V1409.4M902.5,1402.4V1409.9M903.5,1405.9V1409.9M904.5,1407.1V1413.9M905.5,1406.4V1412.6M906.5,1405.4V1409.6M907.5,1406.3V1409.4M908.5,1404.7V1409.7M909.5,1403.1V1408.9M910.5,1406.0V1411.5M911.5,1404.9V1412.6M912.5,1404.9V1412.1M913.5,1403.4V1412.1M914.5,1405.2V1412.0M915.5,1404.6V1409.2M916.5,1404.4V1408.7M917.5,1404.5V1409.0M918.5,1403.2V1408.4M919.5,1403.6V1408.9M920.5,1403.3V1408.6M921.5,1403.0V1409.8M922.5,1401.0V1409.4M923.5,1401.9V1410.5M924.5,1401.9V1407.9M925.5,1401.6V1411.2M926.5,1401.0V1406.1M927.5,1400.7V1405.5M928.5,1399.4V1408.5M929.5,1400.6V1406.8M930.5,1401.1V1406.8M931.5,1401.3V1407.2M932.5,1401.0V1405.7M933.5,1401.0V1405.7M934.5,1401.7V1410.8M935.5,1399.6V1406.4M936.5,1402.9V1406.6M937.5,1403.3V1406.4M938.5,1401.7V1408.7M939.5,1399.6V1406.5M940.5,1402.0V1406.7M941.5,1400.8V1410.3M942.5,1403.4V1407.9M943.5,1403.0V1407.6M944.5,1402.9V1411.0M945.5,1401.3V1407.7M946.5,1398.0V1407.0M947.5,1402.4V1406.8M948.5,1402.2V1406.8M949.5,1402.0V1406.6M950.5,1397.0V1407.6M951.5,1402.0V1407.9M952.5,1400.0V1406.3M953.5,1401.2V1406.6M954.5,1400.8V1410.5M955.5,1402.2V1406.2M956.5,1400.7V1405.9M957.5,1401.7V1408.4M958.5,1403.1V1408.1M959.5,1400.5V1406.8M960.5,1402.5V1407.0M961.5,1402.6V1406.5M962.5,1402.6V1406.5M963.5,1403.3V1407.5M964.5,1403.3V1407.4M965.5,1401.5V1406.5M966.5,1403.2V1406.5M967.5,1402.5V1406.2M968.5,1402.5V1406.3M969.5,1402.4V1406.3M970.5,1403.1V1406.4M971.5,1403.0V1409.1M972.5,1403.0V1406.5M973.5,1403.2V1406.6M974.5,1399.0V1406.9M975.5,1400.9V1407.1M976.5,1401.0V1407.4M977.5,1402.3V1407.7M978.5,1403.8V1409.2M979.5,1400.1V1408.0M980.5,1400.4V1417.7M981.5,1413.3V1419.0M982.5,1409.8V1429.9M983.5,1409.1V1421.4M984.5,1410.2V1417.5M985.5,1409.2V1414.5M986.5,1407.8V1413.2M987.5,1402.8V1413.2M988.5,1405.5V1412.4M989.5,1407.4V1413.1M990.5,1406.8V1416.0M991.5,1406.1V1409.9M992.5,1405.4V1410.8M993.5,1404.8V1410.7M994.5,1404.4V1412.9M995.5,1402.9V1409.1M996.5,1402.1V1410.1M997.5,1402.2V1406.0M998.5,1401.8V1406.8M999.5,1401.0V1406.1M1000.5,1400.7V1409.6M1001.5,1400.9V1407.9M1002.5,1400.9V1407.9M1003.5,1402.1V1405.5M1004.5,1399.5V1406.4M1005.5,1401.0V1406.6M1006.5,1401.1V1406.9M1007.5,1402.0V1406.3M1008.5,1402.2V1405.7M1009.5,1402.0V1405.7M1010.5,1400.1V1408.5M1011.5,1401.4V1408.0M1012.5,1401.5V1408.5M1013.5,1402.0V1411.2M1014.5,1403.7V1408.7M1015.5,1404.0V1410.5M1016.5,1400.7V1410.9M1017.5,1404.0V1407.8M1018.5,1404.3V1408.1M1019.5,1404.8V1409.2M1020.5,1402.3V1408.0M1021.5,1404.7V1408.2M1022.5,1402.5V1409.9M1023.5,1402.8V1407.9M1024.5,1403.9V1410.4M1025.5,1402.1V1407.8M1026.5,1405.0V1408.3M1027.5,1405.0V1408.3M1028.5,1403.9V1409.4M1029.5,1403.6V1409.3M1030.5,1399.9V1408.9M1031.5,1403.2V1408.7M1032.5,1403.4V1407.9M1033.5,1403.5V1408.1M1034.5,1404.3V1408.9M1035.5,1404.3V1408.9M1036.5,1403.9V1408.9M1037.5,1402.6V1409.8M1038.5,1402.4V1409.8M1039.5,1402.8V1408.2M1040.5,1404.3V1408.2M1041.5,1402.2V1409.1M1042.5,1401.6V1412.0M1043.5,1404.9V1410.3M1044.5,1405.2V1410.7M1045.5,1405.2V1411.5M1046.5,1407.0V1411.0M1047.5,1406.8V1410.5M1048.5,1404.1V1410.5M1049.5,1404.1V1412.5M1050.5,1404.1V1413.2M1051.5,1407.0V1410.3M1052.5,1406.1V1410.6M1053.5,1403.4V1410.7M1054.5,1406.2V1414.6M1055.5,1400.0V1411.5M1056.5,1401.6V1411.6M1057.5,1406.8V1413.4M1058.5,1404.4V1411.3M1059.5,1404.6V1411.3M1060.5,1407.4V1411.0M1061.5,1404.0V1413.3M1062.5,1407.5V1411.4M1063.5,1405.4V1410.7M1064.5,1407.6V1410.9M1065.5,1407.6V1411.7" fill="none" stroke="#141414" stroke-width="1" shape-rendering="crispEdges"/>
<path d="M162.5,1536.7V1542.8M163.5,1535.5V1549.8M164.5,1534.0V1551.7M165.5,1534.8V1544.9M166.5,1534.4V1540.6M167.5,1533.0V1540.8M168.5,1530.2V1542.7M169.5,1531.4V1538.3M170.5,1527.2V1537.1M171.5,1528.0V1536.2M172.5,1528.8V1535.3M173.5,1527.6V1536.3M174.5,1523.0V1538.0M175.5,1524.0V1537.7M176.5,1526.6V1536.3M177.5,1527.7V1538.6M178.5,1523.5V1532.9M179.5,1526.1V1531.8M180.5,1523.2V1534.4M181.5,1523.2V1536.5M182.5,1523.0V1534.1M183.5,1525.3V1531.5M184.5,1523.7V1536.2M185.5,1525.7V1531.3M186.5,1525.8V1530.7M187.5,1519.6V1530.5M188.5,1523.3V1530.7M189.5,1523.2V1534.1M190.5,1522.1V1532.8M191.5,1521.9V1532.1M192.5,1521.0V1536.2M193.5,1521.0V1531.3M194.5,1525.1V1529.4M195.5,1525.1V1529.4M196.5,1521.2V1530.7M197.5,1524.4V1531.4M198.5,1520.5V1532.7M199.5,1520.4V1531.1M200.5,1523.8V1530.5M201.5,1519.3V1531.2M202.5,1519.4V1530.0M203.5,1525.9V1533.5M204.5,1527.8V1536.1M205.5,1530.8V1536.1M206.5,1529.8V1539.6M207.5,1524.2V1534.6M208.5,1524.5V1536.0M209.5,1526.3V1535.2M210.5,1527.3V1537.6M211.5,1524.1V1533.2M212.5,1524.2V1533.1M213.5,1527.4V1533.1M214.5,1523.3V1531.9M215.5,1526.9V1532.9M216.5,1523.6V1532.9M217.5,1525.6V1535.0M218.5,1525.1V1533.0M219.5,1527.0V1532.8M220.5,1524.2V1535.5M221.5,1526.5V1532.9M222.5,1526.4V1535.8M223.5,1524.5V1532.3M224.5,1524.5V1536.1M225.5,1521.2V1535.6M226.5,1526.4V1533.4M227.5,1526.0V1539.2M228.5,1522.3V1535.4M229.5,1528.6V1536.4M230.5,1525.0V1541.9M231.5,1529.6V1536.8M232.5,1527.4V1535.3M233.5,1528.4V1534.6M234.5,1526.5V1537.9M235.5,1526.1V1535.7M236.5,1525.7V1532.3M237.5,1525.2V1531.8M238.5,1527.2V1531.0M239.5,1526.0V1536.4M240.5,1525.4V1537.9M241.5,1525.4V1532.8M242.5,1524.7V1532.0M243.5,1524.7V1532.0M244.5,1522.0V1538.1M245.5,1519.0V1533.6M246.5,1519.6V1535.6M247.5,1525.4V1532.0M248.5,1520.5V1535.5M249.5,1523.9V1533.1M250.5,1520.3V1529.5M251.5,1523.5V1529.4M252.5,1521.6V1531.1M253.5,1524.4V1530.1M254.5,1524.6V1530.7M255.5,1523.0V1531.3M256.5,1523.1V1531.3M257.5,1523.1V1531.3M258.5,1524.9V1532.2M259.5,1523.3V1532.2M260.5,1522.9V1535.2M261.5,1522.4V1530.1M262.5,1520.6V1532.5M263.5,1522.4V1532.2M264.5,1520.2V1534.7M265.5,1523.1V1531.6M266.5,1523.1V1535.0M267.5,1520.5V1537.3M268.5,1524.9V1533.0M269.5,1524.5V1534.0M270.5,1520.5V1531.9M271.5,1525.1V1533.7M272.5,1523.1V1533.7M273.5,1526.2V1548.9M274.5,1525.6V1537.2M275.5,1529.7V1542.3M276.5,1527.8V1539.1M277.5,1527.1V1537.5M278.5,1526.3V1536.8M279.5,1529.9V1537.0M280.5,1528.3V1537.4M281.5,1529.7V1573.3M282.5,1547.1V1572.8M283.5,1549.9V1568.3M284.5,1549.8V1562.7M285.5,1547.4V1555.8M286.5,1544.4V1554.3M287.5,1541.5V1550.8M288.5,1539.0V1547.9M289.5,1535.5V1543.1M290.5,1532.7V1540.7M291.5,1530.8V1541.2M292.5,1526.0V1539.8M293.5,1528.0V1538.2M294.5,1527.9V1535.9M295.5,1528.8V1537.0M296.5,1525.4V1540.9M297.5,1525.8V1532.4M298.5,1525.1V1534.2M299.5,1525.0V1532.0M300.5,1524.3V1531.8M301.5,1525.1V1536.6M302.5,1524.6V1532.5M303.5,1524.9V1531.2M304.5,1524.5V1536.0M305.5,1519.0V1529.2M306.5,1520.4V1528.7M307.5,1523.8V1528.9M308.5,1523.4V1528.9M309.5,1523.1V1528.2M310.5,1523.4V1528.2M311.5,1523.1V1528.1M312.5,1520.1V1530.0M313.5,1516.6V1533.0M314.5,1519.7V1535.6M315.5,1523.6V1535.7M316.5,1523.6V1531.5M317.5,1524.2V1534.7M318.5,1524.2V1534.7M319.5,1524.0V1534.8M320.5,1524.4V1533.2M321.5,1521.3V1531.3M322.5,1521.2V1532.9M323.5,1524.6V1532.7M324.5,1523.0V1533.0M325.5,1524.9V1533.0M326.5,1524.5V1529.5M327.5,1524.5V1529.4M328.5,1523.4V1529.4M329.5,1522.9V1530.6M330.5,1522.9V1530.6M331.5,1522.9V1534.3M332.5,1524.4V1531.3M333.5,1523.9V1531.3M334.5,1522.2V1531.4M335.5,1524.7V1530.7M336.5,1519.5V1531.4M337.5,1522.0V1530.0M338.5,1526.0V1531.1M339.5,1526.3V1533.5M340.5,1526.5V1530.7M341.5,1526.5V1531.3M342.5,1521.3V1531.4M343.5,1523.9V1539.3M344.5,1526.2V1534.6M345.5,1525.2V1534.1M346.5,1525.0V1534.1M347.5,1525.0V1550.2M348.5,1526.8V1548.3M349.5,1540.7V1548.3M350.5,1539.4V1546.1M351.5,1535.5V1546.5M352.5,1534.5V1544.9M353.5,1534.4V1543.1M354.5,1532.6V1544.1M355.5,1531.8V1539.8M356.5,1529.7V1539.9M357.5,1529.2V1538.7M358.5,1527.8V1535.6M359.5,1528.1V1538.5M360.5,1526.8V1534.6M361.5,1525.5V1534.4M362.5,1527.6V1532.8M363.5,1527.2V1532.6M364.5,1524.5V1535.7M365.5,1526.7V1531.7M366.5,1526.2V1531.4M367.5,1526.4V1532.4M368.5,1522.3V1532.2M369.5,1525.0V1532.2M370.5,1525.0V1531.7M371.5,1519.2V1533.0M372.5,1521.4V1530.4M373.5,1520.6V1530.2M374.5,1522.2V1532.2M375.5,1522.2V1530.5M376.5,1522.2V1527.8M377.5,1519.1V1527.1M378.5,1520.3V1528.2M379.5,1518.6V1528.9M380.5,1520.6V1528.5M381.5,1519.6V1532.0M382.5,1519.6V1535.2M383.5,1521.8V1527.9M384.5,1521.1V1527.9M385.5,1516.5V1528.7M386.5,1520.6V1528.3M387.5,1519.7V1528.3M388.5,1519.1V1526.4M389.5,1515.9V1526.4M390.5,1518.9V1525.9M391.5,1517.5V1526.8M392.5,1515.8V1525.2M393.5,1520.1V1527.6M394.5,1517.5V1530.1M395.5,1521.0V1532.3M396.5,1521.3V1531.7M397.5,1514.7V1530.6M398.5,1520.8V1525.8M399.5,1519.7V1528.0M400.5,1519.7V1560.5M401.5,1540.3V1555.9M402.5,1534.3V1547.6M403.5,1529.1V1543.3M404.5,1525.3V1535.7M405.5,1524.5V1534.5M406.5,1522.1V1531.9M407.5,1522.3V1533.4M408.5,1521.7V1532.3M409.5,1520.9V1531.6M410.5,1517.8V1529.2M411.5,1512.5V1531.7M412.5,1514.7V1524.3M413.5,1518.5V1529.2M414.5,1513.3V1528.6M415.5,1513.4V1528.4M416.5,1518.3V1526.7M417.5,1516.7V1526.9M418.5,1517.8V1524.7M419.5,1517.9V1523.3M420.5,1513.9V1523.5M421.5,1517.3V1525.0M422.5,1519.3V1525.4M423.5,1519.3V1525.4M424.5,1519.3V1525.4M425.5,1514.6V1528.6M426.5,1515.7V1527.0M427.5,1517.1V1527.1M428.5,1518.7V1526.9M429.5,1516.7V1528.6M430.5,1514.4V1525.1M431.5,1517.4V1524.8M432.5,1515.1V1522.1M433.5,1515.2V1524.3M434.5,1517.0V1522.9M435.5,1513.9V1522.9M436.5,1515.2V1522.8M437.5,1513.3V1523.0M438.5,1518.2V1525.7M439.5,1512.8V1522.9M440.5,1518.5V1522.9M441.5,1516.9V1522.9M442.5,1517.9V1522.8M443.5,1516.2V1524.5M444.5,1514.8V1527.7M445.5,1515.0V1523.5M446.5,1516.0V1528.9M447.5,1518.5V1526.3M448.5,1518.2V1523.5M449.5,1518.2V1526.6M450.5,1517.4V1525.3M451.5,1516.1V1528.6M452.5,1515.3V1524.7M453.5,1517.9V1527.8M454.5,1516.7V1523.7M455.5,1516.3V1527.1M456.5,1516.4V1527.6M457.5,1512.7V1524.2M458.5,1518.0V1528.1M459.5,1516.5V1524.6M460.5,1517.7V1527.3M461.5,1517.7V1522.5M462.5,1516.7V1527.7M463.5,1516.9V1525.0M464.5,1517.0V1525.3M465.5,1516.2V1524.2M466.5,1517.9V1524.2M467.5,1515.0V1525.3M468.5,1513.6V1525.1M469.5,1516.1V1525.4M470.5,1519.3V1525.0M471.5,1519.5V1526.5M472.5,1520.0V1529.2M473.5,1519.7V1524.9M474.5,1516.2V1525.3M475.5,1517.4V1525.9M476.5,1519.4V1529.3M477.5,1522.5V1534.8M478.5,1524.4V1532.2M479.5,1523.7V1531.2M480.5,1521.6V1533.2M481.5,1522.3V1532.6M482.5,1522.6V1531.6M483.5,1522.0V1528.7M484.5,1518.1V1528.4M485.5,1521.8V1527.7M486.5,1522.3V1526.8M487.5,1522.2V1526.9M488.5,1521.5V1529.9M489.5,1521.4V1529.3M490.5,1520.1V1527.1M491.5,1517.1V1527.1M492.5,1519.1V1526.9M493.5,1517.5V1531.3M494.5,1519.7V1526.7M495.5,1518.1V1526.4M496.5,1518.1V1526.0M497.5,1519.9V1526.0M498.5,1520.1V1526.0M499.5,1520.1V1526.0M500.5,1520.1V1525.6M501.5,1516.9V1529.8M502.5,1516.7V1525.6M503.5,1517.3V1525.2M504.5,1519.0V1524.8M505.5,1518.4V1524.0M506.5,1516.9V1523.8M507.5,1518.9V1528.8M508.5,1518.4V1523.3M509.5,1515.3V1526.1M510.5,1518.4V1523.1M511.5,1516.7V1523.5M512.5,1519.2V1523.7M513.5,1515.3V1523.7M514.5,1512.2V1526.7M515.5,1517.3V1529.2M516.5,1517.7V1525.5M517.5,1517.7V1523.1M518.5,1516.8V1524.1M519.5,1516.2V1523.7M520.5,1514.2V1525.7M521.5,1517.1V1529.0M522.5,1515.1V1523.7M523.5,1513.4V1524.2M524.5,1515.9V1524.4M525.5,1518.0V1523.2M526.5,1517.0V1524.9M527.5,1517.2V1524.9M528.5,1519.1V1530.4M529.5,1518.8V1524.3M530.5,1514.7V1524.7M531.5,1519.4V1524.8M532.5,1519.9V1529.8M533.5,1516.7V1526.0M534.5,1516.4V1526.0M535.5,1516.2V1526.0M536.5,1516.2V1528.5M537.5,1517.7V1528.5M538.5,1520.3V1530.1M539.5,1520.5V1529.9M540.5,1517.9V1527.5M541.5,1517.9V1527.1M542.5,1518.5V1527.4M543.5,1520.0V1526.2M544.5,1520.6V1526.5M545.5,1516.8V1526.2M546.5,1521.0V1526.3M547.5,1518.6V1528.6M548.5,1520.9V1529.0M549.5,1519.7V1527.4M550.5,1520.0V1532.1M551.5,1521.7V1527.8M552.5,1519.9V1527.8M553.5,1521.5V1529.8M554.5,1521.9V1527.3M555.5,1521.9V1527.3M556.5,1521.5V1529.8M557.5,1518.5V1529.8M558.5,1514.4V1529.2M559.5,1517.8V1533.3M560.5,1519.6V1533.2M561.5,1519.4V1526.1M562.5,1519.4V1525.9M563.5,1519.4V1526.7M564.5,1516.0V1525.5M565.5,1516.0V1525.7M566.5,1520.4V1528.1M567.5,1515.3V1526.7M568.5,1516.4V1526.9M569.5,1517.9V1528.7M570.5,1517.7V1531.4M571.5,1520.2V1527.2M572.5,1513.3V1528.9M573.5,1517.4V1527.0M574.5,1520.3V1527.1M575.5,1520.3V1526.8M576.5,1520.0V1530.0M577.5,1519.1V1527.5M578.5,1514.1V1523.7M579.5,1514.7V1524.5M580.5,1513.0V1528.4M581.5,1516.8V1524.4M582.5,1516.8V1524.3M583.5,1518.3V1526.9M584.5,1515.2V1523.5M585.5,1517.5V1525.4M586.5,1517.8V1523.8M587.5,1518.7V1524.6M588.5,1518.2V1524.6M589.5,1517.1V1526.5M590.5,1516.9V1526.4M591.5,1513.2V1527.6M592.5,1517.9V1524.1M593.5,1518.1V1524.1M594.5,1515.8V1523.9M595.5,1513.8V1523.4M596.5,1518.1V1523.1M597.5,1518.5V1523.8M598.5,1519.2V1523.9M599.5,1519.5V1527.4M600.5,1518.0V1526.4M601.5,1521.0V1529.7M602.5,1515.0V1527.8M603.5,1517.2V1529.4M604.5,1519.4V1531.5M605.5,1525.8V1536.7M606.5,1527.3V1533.6M607.5,1526.2V1534.7M608.5,1521.6V1534.1M609.5,1524.1V1534.6M610.5,1525.9V1533.0M611.5,1525.4V1532.8M612.5,1523.1V1531.2M613.5,1522.9V1530.5M614.5,1523.6V1531.1M615.5,1521.3V1532.7M616.5,1519.4V1532.8M617.5,1521.1V1532.8M618.5,1522.4V1532.1M619.5,1522.5V1532.2M620.5,1522.4V1530.2M621.5,1522.3V1529.7M622.5,1518.9V1530.6M623.5,1522.5V1532.2M624.5,1522.3V1529.8M625.5,1522.3V1527.4M626.5,1522.4V1531.3M627.5,1522.1V1533.1M628.5,1521.0V1528.7M629.5,1522.1V1528.7M630.5,1519.0V1527.0M631.5,1521.2V1529.1M632.5,1518.3V1529.1M633.5,1521.8V1537.4M634.5,1531.8V1567.5M635.5,1559.3V1588.3M636.5,1579.3V1601.5M637.5,1571.9V1594.8M638.5,1560.8V1583.4M639.5,1556.2V1574.1M640.5,1546.1V1561.7M641.5,1541.1V1559.7M642.5,1540.0V1549.1M643.5,1537.1V1545.5M644.5,1532.0V1542.6M645.5,1530.0V1541.2M646.5,1529.0V1537.7M647.5,1529.4V1542.0M648.5,1526.2V1538.0M649.5,1523.3V1538.9M650.5,1524.5V1537.9M651.5,1523.5V1537.0M652.5,1525.9V1532.1M653.5,1524.5V1537.6M654.5,1525.1V1537.6M655.5,1520.7V1532.7M656.5,1522.6V1530.9M657.5,1522.1V1530.4M658.5,1521.5V1532.7M659.5,1516.8V1527.9M660.5,1521.0V1528.7M661.5,1517.1V1532.9M662.5,1520.7V1530.3M663.5,1519.6V1526.9M664.5,1515.5V1529.7M665.5,1514.1V1534.7M666.5,1521.0V1528.1M667.5,1523.2V1528.1M668.5,1523.0V1528.1M669.5,1516.8V1527.3M670.5,1516.9V1532.8M671.5,1520.4V1532.0M672.5,1517.5V1529.2M673.5,1521.9V1526.7M674.5,1520.1V1526.7M675.5,1518.4V1526.5M676.5,1520.7V1526.6M677.5,1521.2V1526.6M678.5,1517.8V1526.5M679.5,1517.7V1526.5M680.5,1517.6V1527.4M681.5,1519.3V1529.1M682.5,1518.9V1528.8M683.5,1521.8V1529.0M684.5,1517.9V1531.8M685.5,1522.6V1529.5M686.5,1519.2V1527.4M687.5,1520.9V1531.6M688.5,1520.9V1533.2M689.5,1520.7V1535.0M690.5,1522.4V1526.7M691.5,1519.3V1527.2M692.5,1519.5V1531.4M693.5,1518.9V1531.0M694.5,1516.6V1527.7M695.5,1521.6V1525.9M696.5,1519.3V1528.9M697.5,1520.2V1527.0M698.5,1522.0V1533.2M699.5,1521.6V1528.1M700.5,1519.1V1529.6M701.5,1521.4V1526.3M702.5,1518.9V1530.6M703.5,1521.6V1526.5M704.5,1520.5V1527.9M705.5,1515.9V1532.1M706.5,1518.1V1532.6M707.5,1517.8V1527.3M708.5,1520.0V1531.5M709.5,1521.3V1534.8M710.5,1521.5V1528.3M711.5,1521.2V1528.1M712.5,1517.7V1527.8M713.5,1518.4V1528.1M714.5,1521.6V1527.9M715.5,1521.6V1527.7M716.5,1519.7V1528.1M717.5,1521.3V1528.1M718.5,1521.0V1527.9M719.5,1521.3V1527.5M720.5,1519.8V1530.7M721.5,1515.7V1529.5M722.5,1519.8V1527.1M723.5,1519.4V1526.3M724.5,1521.3V1528.8M725.5,1518.8V1538.1M726.5,1521.1V1538.1M727.5,1526.5V1533.6M728.5,1524.3V1533.0M729.5,1526.2V1531.7M730.5,1525.3V1534.3M731.5,1524.4V1530.7M732.5,1524.1V1530.0M733.5,1520.8V1529.4M734.5,1519.7V1530.8M735.5,1521.8V1527.8M736.5,1520.2V1527.2M737.5,1520.9V1526.6M738.5,1518.9V1528.0M739.5,1518.6V1525.5M740.5,1519.3V1525.4M741.5,1515.1V1525.2M742.5,1518.5V1524.5M743.5,1518.7V1531.7M744.5,1518.6V1531.7M745.5,1518.3V1531.4M746.5,1517.6V1523.3M747.5,1515.1V1528.9M748.5,1515.4V1528.7M749.5,1513.3V1524.6M750.5,1517.8V1524.4M751.5,1515.6V1524.4M752.5,1513.9V1525.9M753.5,1511.9V1525.5M754.5,1516.5V1525.7M755.5,1514.2V1523.7M756.5,1516.7V1522.6M757.5,1517.1V1523.3M758.5,1517.1V1537.3M759.5,1525.6V1541.8M760.5,1526.1V1536.3M761.5,1525.5V1537.8M762.5,1522.4V1533.6M763.5,1523.6V1532.4M764.5,1521.8V1531.6M765.5,1519.7V1533.4M766.5,1522.9V1534.4M767.5,1521.9V1530.1M768.5,1519.0V1526.7M769.5,1517.9V1526.5M770.5,1519.2V1529.9M771.5,1519.4V1525.7M772.5,1519.2V1525.4M773.5,1519.4V1529.5M774.5,1515.1V1524.5M775.5,1517.4V1523.6M776.5,1516.4V1524.5M777.5,1516.3V1526.5M778.5,1518.3V1523.8M779.5,1514.5V1523.9M780.5,1518.2V1523.9M781.5,1519.4V1528.4M782.5,1513.8V1524.3M783.5,1514.8V1524.0M784.5,1514.5V1525.8M785.5,1518.3V1528.3M786.5,1513.5V1528.0M787.5,1513.9V1528.0M788.5,1519.4V1525.6M789.5,1519.7V1525.9M790.5,1514.4V1530.5M791.5,1517.5V1528.5M792.5,1517.4V1528.5M793.5,1515.8V1528.5M794.5,1514.9V1529.9M795.5,1518.8V1525.9M796.5,1515.1V1527.3M797.5,1517.9V1529.3M798.5,1516.8V1527.6M799.5,1517.2V1524.3M800.5,1517.4V1527.8M801.5,1518.9V1527.3M802.5,1517.0V1526.0M803.5,1519.2V1526.4M804.5,1519.4V1528.9M805.5,1516.4V1526.8M806.5,1520.4V1526.3M807.5,1520.4V1526.3M808.5,1514.1V1525.9M809.5,1518.9V1529.9M810.5,1518.9V1524.8M811.5,1513.7V1527.5M812.5,1520.5V1527.3M813.5,1515.9V1528.0M814.5,1518.9V1526.7M815.5,1520.1V1526.7M816.5,1519.1V1527.4M817.5,1519.4V1528.0M818.5,1517.5V1528.5M819.5,1522.0V1527.5M820.5,1522.1V1527.5M821.5,1521.8V1532.5M822.5,1519.5V1529.5M823.5,1519.5V1529.5M824.5,1514.4V1531.8M825.5,1518.3V1528.4M826.5,1520.2V1527.0M827.5,1520.0V1526.7M828.5,1519.6V1527.3M829.5,1519.3V1527.2M830.5,1519.3V1525.0M831.5,1516.4V1525.0M832.5,1516.8V1525.0M833.5,1519.3V1535.6M834.5,1519.3V1538.5M835.5,1523.4V1536.9M836.5,1524.7V1535.9M837.5,1526.7V1532.7M838.5,1523.6V1534.9M839.5,1525.2V1534.6M840.5,1521.2V1531.4M841.5,1522.5V1529.0M842.5,1522.2V1529.2M843.5,1521.7V1528.7M844.5,1518.2V1527.5M845.5,1521.1V1528.3M846.5,1518.8V1527.9M847.5,1517.7V1527.1M848.5,1517.4V1526.7M849.5,1518.6V1525.8M850.5,1518.6V1525.8M851.5,1520.2V1526.4M852.5,1517.0V1524.7M853.5,1513.1V1524.4M854.5,1517.3V1524.6M855.5,1514.9V1524.8M856.5,1517.5V1525.3M857.5,1517.0V1526.7M858.5,1517.6V1528.4M859.5,1514.6V1529.5M860.5,1516.5V1530.0M861.5,1519.9V1525.9M862.5,1519.8V1532.8M863.5,1518.6V1525.8M864.5,1520.2V1528.9M865.5,1519.7V1526.5M866.5,1519.7V1525.5M867.5,1517.7V1525.5M868.5,1519.4V1524.5M869.5,1518.2V1525.6M870.5,1517.9V1524.1M871.5,1519.5V1524.2M872.5,1519.6V1529.5M873.5,1518.9V1528.3M874.5,1516.6V1525.8M875.5,1520.3V1525.7M876.5,1520.3V1531.0M877.5,1519.9V1533.0M878.5,1520.0V1529.2M879.5,1521.4V1531.4M880.5,1521.4V1527.3M881.5,1521.6V1527.6M882.5,1521.8V1526.6M883.5,1521.8V1545.0M884.5,1521.9V1535.9M885.5,1525.8V1534.1M886.5,1525.0V1530.9M887.5,1524.4V1530.1M888.5,1523.5V1534.2M889.5,1522.7V1533.5M890.5,1522.0V1532.7M891.5,1520.5V1528.8M892.5,1518.9V1527.0M893.5,1522.4V1528.8M894.5,1520.4V1532.3M895.5,1517.7V1532.0M896.5,1518.2V1528.7M897.5,1519.1V1532.2M898.5,1519.6V1526.2M899.5,1519.5V1526.6M900.5,1519.5V1526.6M901.5,1519.7V1530.7M902.5,1519.4V1526.4M903.5,1519.4V1526.4M904.5,1516.6V1528.0M905.5,1520.4V1533.4M906.5,1520.5V1528.5M907.5,1520.4V1529.1M908.5,1520.3V1526.9M909.5,1516.1V1526.9M910.5,1521.6V1528.9M911.5,1518.3V1527.3M912.5,1522.5V1527.3M913.5,1522.0V1527.6M914.5,1522.9V1529.0M915.5,1519.4V1529.2M916.5,1523.5V1528.0M917.5,1523.9V1528.0M918.5,1520.8V1528.0M919.5,1523.3V1527.7M920.5,1523.2V1527.3M921.5,1521.9V1530.0M922.5,1517.7V1528.6M923.5,1519.8V1530.9M924.5,1520.0V1532.3M925.5,1523.1V1535.3M926.5,1528.4V1538.2M927.5,1526.1V1540.4M928.5,1524.5V1534.9M929.5,1522.4V1534.9M930.5,1521.3V1537.7M931.5,1520.9V1531.7M932.5,1516.3V1528.8M933.5,1518.3V1530.3M934.5,1517.4V1527.5M935.5,1518.7V1525.8M936.5,1516.2V1525.4M937.5,1517.5V1528.3M938.5,1518.2V1530.5M939.5,1518.3V1530.5M940.5,1517.7V1527.9M941.5,1518.9V1526.0M942.5,1518.3V1523.7M943.5,1516.7V1526.0M944.5,1517.7V1523.4M945.5,1516.8V1523.9M946.5,1518.2V1525.8M947.5,1518.2V1525.6M948.5,1515.2V1527.9M949.5,1518.4V1527.4M950.5,1518.4V1524.4M951.5,1519.0V1525.1M952.5,1515.2V1524.1M953.5,1517.7V1524.7M954.5,1517.6V1524.6M955.5,1518.5V1525.5M956.5,1518.9V1525.7M957.5,1519.0V1525.7M958.5,1519.2V1525.8M959.5,1519.8V1528.3M960.5,1516.2V1526.0M961.5,1518.8V1525.8M962.5,1518.8V1527.3M963.5,1519.7V1526.8M964.5,1518.3V1526.3M965.5,1513.6V1526.1M966.5,1518.0V1527.2M967.5,1518.4V1527.2M968.5,1515.4V1528.3M969.5,1518.6V1529.9M970.5,1514.8V1530.0M971.5,1521.5V1526.9M972.5,1521.9V1529.6M973.5,1521.5V1526.2M974.5,1521.8V1526.6M975.5,1520.3V1529.3M976.5,1521.3V1529.2M977.5,1521.3V1531.8M978.5,1519.5V1531.4M979.5,1519.4V1526.6M980.5,1519.3V1530.7M981.5,1521.3V1530.1M982.5,1518.2V1528.5M983.5,1522.1V1531.5M984.5,1523.1V1527.7M985.5,1521.3V1527.8M986.5,1523.3V1527.9M987.5,1523.1V1532.0M988.5,1523.4V1530.4M989.5,1523.0V1536.4M990.5,1519.5V1531.6M991.5,1522.3V1527.8M992.5,1522.4V1527.8M993.5,1522.1V1527.8M994.5,1517.2V1532.1M995.5,1519.8V1527.9M996.5,1522.9V1533.3M997.5,1520.1V1527.9M998.5,1520.3V1527.1M999.5,1518.0V1528.7M1000.5,1517.4V1528.7M1001.5,1517.4V1528.1M1002.5,1521.0V1527.9M1003.5,1521.5V1529.8M1004.5,1521.1V1529.5M1005.5,1518.5V1527.8M1006.5,1514.6V1527.5M1007.5,1517.6V1527.7M1008.5,1517.9V1527.7M1009.5,1517.3V1532.0M1010.5,1520.8V1527.2M1011.5,1520.8V1527.4M1012.5,1519.3V1528.3M1013.5,1517.2V1528.5M1014.5,1520.0V1526.2M1015.5,1521.3V1528.2M1016.5,1521.3V1527.6M1017.5,1520.0V1528.0M1018.5,1517.7V1524.8M1019.5,1518.4V1528.7M1020.5,1514.5V1524.5M1021.5,1518.3V1526.0M1022.5,1518.1V1525.7M1023.5,1518.0V1525.2M1024.5,1515.0V1529.2M1025.5,1518.8V1525.2M1026.5,1518.8V1527.7M1027.5,1517.1V1525.6M1028.5,1515.3V1526.0M1029.5,1518.4V1531.0M1030.5,1516.4V1524.9M1031.5,1515.2V1522.7M1032.5,1515.0V1522.4M1033.5,1513.0V1522.3M1034.5,1518.0V1540.9M1035.5,1527.2V1537.1M1036.5,1527.1V1538.6M1037.5,1522.0V1535.7M1038.5,1517.3V1531.5M1039.5,1523.9V1529.3M1040.5,1523.7V1532.6M1041.5,1523.2V1528.4M1042.5,1521.1V1528.1M1043.5,1520.7V1528.5M1044.5,1522.0V1528.3M1045.5,1521.2V1527.9M1046.5,1520.9V1527.1M1047.5,1519.2V1526.2M1048.5,1518.9V1526.1M1049.5,1517.1V1525.6M1050.5,1517.2V1525.2M1051.5,1519.9V1545.0M1052.5,1520.5V1538.0M1053.5,1527.4V1538.0M1054.5,1525.4V1533.9M1055.5,1524.2V1532.6M1056.5,1523.5V1531.4M1057.5,1519.5V1529.3M1058.5,1522.7V1531.9M1059.5,1522.1V1530.2M1060.5,1520.4V1532.4M1061.5,1517.3V1533.4M1062.5,1517.3V1528.1M1063.5,1520.1V1526.0M1064.5,1521.4V1529.5" fill="none" stroke="#141414" stroke-width="1" shape-rendering="crispEdges"/>
<path d="M160.5,1632.3V1637.6M161.5,1628.1V1639.8M162.5,1632.2V1639.6M163.5,1632.2V1639.6M164.5,1632.3V1639.6M165.5,1631.2V1637.3M166.5,1627.2V1637.1M167.5,1629.6V1640.6M168.5,1630.1V1640.3M169.5,1629.8V1637.5M170.5,1629.9V1635.8M171.5,1625.9V1642.1M172.5,1630.0V1639.1M173.5,1628.5V1635.3M174.5,1628.5V1635.4M175.5,1628.9V1638.3M176.5,1632.0V1636.2M177.5,1631.8V1638.0M178.5,1629.5V1637.0M179.5,1631.3V1636.3M180.5,1631.3V1638.8M181.5,1627.9V1637.2M182.5,1631.2V1637.9M183.5,1631.7V1639.6M184.5,1632.3V1638.6M185.5,1632.8V1640.5M186.5,1633.8V1644.5M187.5,1640.6V1651.1M188.5,1645.1V1651.9M189.5,1643.2V1650.4M190.5,1637.9V1652.2M191.5,1641.3V1648.2M192.5,1637.0V1646.4M193.5,1636.9V1644.2M194.5,1637.0V1646.3M195.5,1634.6V1644.0M196.5,1633.8V1643.3M197.5,1634.5V1640.5M198.5,1634.1V1639.5M199.5,1633.6V1640.7M200.5,1633.6V1637.7M201.5,1629.7V1638.0M202.5,1631.0V1637.7M203.5,1628.2V1637.4M204.5,1631.7V1637.8M205.5,1631.7V1637.6M206.5,1632.8V1637.3M207.5,1632.5V1641.5M208.5,1632.6V1641.5M209.5,1632.8V1639.0M210.5,1630.9V1638.3M211.5,1633.0V1639.1M212.5,1633.0V1639.2M213.5,1631.8V1639.8M214.5,1634.3V1638.5M215.5,1634.4V1638.5M216.5,1634.3V1641.0M217.5,1634.4V1669.8M218.5,1658.0V1666.4M219.5,1654.8V1664.2M220.5,1653.0V1662.1M221.5,1651.7V1659.7M222.5,1649.7V1657.7M223.5,1648.7V1656.1M224.5,1647.4V1654.8M225.5,1645.2V1651.8M226.5,1645.2V1650.6M227.5,1641.8V1649.3M228.5,1642.9V1651.7M229.5,1638.1V1649.3M230.5,1637.1V1648.1M231.5,1639.2V1709.7M232.5,1676.4V1695.0M233.5,1675.7V1686.9M234.5,1675.7V1719.1M235.5,1706.6V1713.2M236.5,1697.6V1714.5M237.5,1689.3V1702.3M238.5,1682.0V1694.6M239.5,1671.3V1692.2M240.5,1670.7V1681.7M241.5,1663.3V1677.8M242.5,1659.3V1673.2M243.5,1657.0V1668.3M244.5,1653.8V1665.1M245.5,1651.0V1661.9M246.5,1646.5V1670.2M247.5,1649.5V1682.5M248.5,1664.4V1679.4M249.5,1652.5V1669.7M250.5,1656.3V1669.6M251.5,1660.6V1669.6M252.5,1656.9V1667.7M253.5,1655.9V1662.0M254.5,1653.9V1663.4M255.5,1652.2V1657.5M256.5,1648.8V1659.8M257.5,1643.2V1657.7M258.5,1644.8V1654.2M259.5,1643.9V1657.6M260.5,1639.6V1651.1M261.5,1642.9V1650.3M262.5,1642.3V1654.2M263.5,1642.3V1648.7M264.5,1641.8V1653.0M265.5,1640.0V1646.2M266.5,1640.0V1648.8M267.5,1638.3V1645.4M268.5,1634.4V1645.3M269.5,1638.5V1647.3M270.5,1638.3V1649.5M271.5,1640.4V1646.2M272.5,1640.6V1646.2M273.5,1639.6V1648.9M274.5,1637.9V1648.2M275.5,1639.3V1648.8M276.5,1638.8V1644.8M277.5,1637.0V1644.4M278.5,1637.8V1643.1M279.5,1634.9V1672.7M280.5,1666.2V1675.8M281.5,1663.4V1672.9M282.5,1661.7V1667.0M283.5,1659.6V1665.2M284.5,1657.0V1663.3M285.5,1653.0V1661.0M286.5,1651.6V1659.2M287.5,1652.9V1657.8M288.5,1650.6V1659.4M289.5,1647.2V1659.3M290.5,1643.9V1657.7M291.5,1642.0V1660.0M292.5,1645.1V1656.1M293.5,1642.3V1650.6M294.5,1644.1V1654.9M295.5,1642.7V1652.5M296.5,1642.2V1648.1M297.5,1636.9V1649.5M298.5,1640.7V1646.1M299.5,1640.2V1645.3M300.5,1640.2V1662.3M301.5,1656.6V1663.0M302.5,1653.4V1666.9M303.5,1651.9V1659.7M304.5,1648.0V1657.4M305.5,1647.3V1654.8M306.5,1642.8V1652.8M307.5,1642.3V1651.4M308.5,1636.9V1650.9M309.5,1642.0V1648.4M310.5,1637.0V1649.7M311.5,1639.9V1646.5M312.5,1636.8V1644.2M313.5,1638.4V1642.7M314.5,1637.9V1642.7M315.5,1637.1V1642.1M316.5,1636.1V1644.4M317.5,1636.8V1641.6M318.5,1636.9V1642.9M319.5,1636.9V1643.8M320.5,1637.9V1663.0M321.5,1647.8V1659.0M322.5,1647.2V1654.7M323.5,1637.5V1652.9M324.5,1640.5V1653.8M325.5,1636.3V1649.6M326.5,1637.5V1646.1M327.5,1639.5V1646.8M328.5,1639.1V1645.8M329.5,1638.4V1645.4M330.5,1635.9V1643.5M331.5,1635.9V1686.6M332.5,1673.6V1686.6M333.5,1670.0V1680.7M334.5,1665.1V1675.1M335.5,1660.9V1670.1M336.5,1653.6V1666.0M337.5,1653.8V1666.1M338.5,1650.9V1664.3M339.5,1648.5V1661.6M340.5,1644.8V1655.1M341.5,1642.6V1655.6M342.5,1642.6V1647.8M343.5,1641.5V1648.8M344.5,1640.3V1646.9M345.5,1639.7V1645.7M346.5,1639.0V1648.1M347.5,1636.5V1644.7M348.5,1636.6V1641.5M349.5,1636.1V1643.6M350.5,1635.9V1640.0M351.5,1633.7V1642.6M352.5,1634.4V1639.1M353.5,1631.7V1643.1M354.5,1632.8V1639.3M355.5,1632.4V1642.7M356.5,1633.9V1639.9M357.5,1632.6V1640.0M358.5,1630.6V1642.2M359.5,1633.7V1646.1M360.5,1629.5V1646.0M361.5,1631.0V1642.8M362.5,1634.1V1638.7M363.5,1634.0V1638.6M364.5,1629.9V1638.6M365.5,1630.3V1640.3M366.5,1632.8V1643.6M367.5,1630.9V1637.5M368.5,1632.3V1641.2M369.5,1633.5V1640.4M370.5,1634.1V1638.3M371.5,1633.8V1638.7M372.5,1634.3V1638.7M373.5,1634.4V1640.2M374.5,1634.4V1643.9M375.5,1630.3V1640.4M376.5,1631.9V1640.4M377.5,1633.8V1642.6M378.5,1633.6V1638.4M379.5,1630.9V1638.2M380.5,1632.6V1637.9M381.5,1632.6V1637.9M382.5,1629.1V1638.7M383.5,1632.8V1637.7M384.5,1632.8V1637.5M385.5,1633.7V1640.8M386.5,1633.8V1644.7M387.5,1630.5V1638.6M388.5,1630.5V1643.2M389.5,1630.7V1638.9M390.5,1632.2V1638.8M391.5,1633.4V1641.2M392.5,1629.8V1641.2M393.5,1633.8V1642.2M394.5,1633.6V1638.0M395.5,1633.6V1642.0M396.5,1633.9V1638.1M397.5,1633.9V1638.1M398.5,1628.1V1641.3M399.5,1631.3V1641.5M400.5,1631.1V1641.5M401.5,1632.3V1640.0M402.5,1632.5V1640.1M403.5,1628.7V1642.1M404.5,1634.4V1639.7M405.5,1634.5V1640.0M406.5,1634.3V1640.0M407.5,1632.7V1639.7M408.5,1632.4V1638.2M409.5,1632.0V1639.1M410.5,1632.2V1639.1M411.5,1632.2V1639.6M412.5,1630.8V1639.3M413.5,1629.8V1638.8M414.5,1633.0V1638.8M415.5,1633.4V1641.5M416.5,1633.9V1638.4M417.5,1633.9V1644.1M418.5,1634.1V1641.9M419.5,1634.1V1750.2M420.5,1718.8V1731.0M421.5,1708.3V1731.0M422.5,1694.5V1714.1M423.5,1684.0V1701.3M424.5,1672.6V1689.6M425.5,1663.3V1681.7M426.5,1659.7V1672.4M427.5,1656.4V1664.8M428.5,1649.0V1664.4M429.5,1650.1V1656.9M430.5,1646.0V1653.9M431.5,1643.0V1654.9M432.5,1641.3V1652.2M433.5,1640.0V1650.5M434.5,1642.1V1661.5M435.5,1653.1V1661.5M436.5,1649.1V1658.3M437.5,1643.5V1654.1M438.5,1643.4V1654.8M439.5,1640.9V1648.9M440.5,1639.0V1646.7M441.5,1634.4V1644.8M442.5,1633.1V1642.4M443.5,1634.7V1641.4M444.5,1635.6V1641.7M445.5,1633.6V1644.9M446.5,1632.3V1639.4M447.5,1633.0V1642.8M448.5,1632.8V1637.4M449.5,1632.4V1637.2M450.5,1632.3V1640.0M451.5,1629.5V1640.0M452.5,1632.4V1638.7M453.5,1631.0V1640.5M454.5,1629.7V1640.7M455.5,1631.8V1638.1M456.5,1633.2V1638.1M457.5,1626.5V1638.4M458.5,1632.2V1638.0M459.5,1632.1V1638.0M460.5,1633.4V1638.1M461.5,1633.4V1639.8M462.5,1631.3V1639.7M463.5,1631.0V1641.4M464.5,1633.9V1637.6M465.5,1628.6V1640.3M466.5,1630.0V1640.3M467.5,1632.6V1641.9M468.5,1632.2V1641.9M469.5,1633.0V1637.8M470.5,1630.4V1638.3M471.5,1633.0V1642.4M472.5,1632.1V1644.2M473.5,1633.7V1641.8M474.5,1631.8V1638.0M475.5,1632.9V1640.8M476.5,1634.6V1641.1M477.5,1634.9V1682.4M478.5,1664.4V1681.6M479.5,1661.7V1673.7M480.5,1655.7V1670.3M481.5,1651.7V1664.6M482.5,1648.2V1663.0M483.5,1641.7V1657.0M484.5,1642.2V1653.8M485.5,1640.7V1647.2M486.5,1637.0V1649.2M487.5,1635.5V1643.2M488.5,1634.2V1641.7M489.5,1635.5V1642.8M490.5,1633.0V1641.9M491.5,1632.4V1640.5M492.5,1632.2V1637.3M493.5,1631.4V1637.1M494.5,1631.5V1637.7M495.5,1631.1V1637.2M496.5,1629.1V1635.2M497.5,1629.1V1639.4M498.5,1629.7V1635.4M499.5,1629.5V1635.3M500.5,1629.8V1639.0M501.5,1629.6V1635.6M502.5,1628.0V1636.3M503.5,1629.6V1636.3M504.5,1627.1V1637.3M505.5,1630.7V1640.3M506.5,1630.0V1637.0M507.5,1630.3V1636.3M508.5,1628.5V1636.1M509.5,1628.5V1634.9M510.5,1629.7V1635.0M511.5,1627.7V1635.8M512.5,1628.7V1634.3M513.5,1628.5V1637.6M514.5,1628.6V1635.1M515.5,1628.7V1635.6M516.5,1628.6V1637.1M517.5,1628.9V1637.6M518.5,1624.7V1641.3M519.5,1628.9V1637.5M520.5,1631.2V1635.5M521.5,1631.2V1635.2M522.5,1631.4V1635.2M523.5,1628.2V1637.0M524.5,1630.8V1639.6M525.5,1630.8V1638.4M526.5,1629.2V1635.7M527.5,1629.0V1635.4M528.5,1630.5V1639.6M529.5,1630.5V1639.8M530.5,1629.4V1636.9M531.5,1629.3V1699.3M532.5,1676.8V1694.1M533.5,1668.5V1686.0M534.5,1660.6V1677.5M535.5,1657.2V1666.7M536.5,1648.8V1661.3M537.5,1653.0V1695.2M538.5,1673.6V1688.9M539.5,1666.8V1683.3M540.5,1662.7V1676.3M541.5,1656.3V1668.8M542.5,1650.2V1667.3M543.5,1649.5V1660.2M544.5,1647.4V1655.0M545.5,1645.2V1654.5M546.5,1642.3V1648.5M547.5,1637.1V1650.4M548.5,1638.3V1646.0M549.5,1636.1V1644.7M550.5,1637.2V1647.2M551.5,1634.1V1643.3M552.5,1629.8V1642.3M553.5,1628.2V1644.5M554.5,1633.8V1639.3M555.5,1633.4V1638.8M556.5,1632.1V1642.6M557.5,1630.6V1642.6M558.5,1631.7V1642.5M559.5,1633.0V1637.3M560.5,1632.9V1636.9M561.5,1631.2V1641.0M562.5,1629.7V1637.6M563.5,1633.2V1637.7M564.5,1631.9V1637.0M565.5,1631.5V1636.7M566.5,1632.2V1637.8M567.5,1632.5V1640.5M568.5,1631.9V1637.2M569.5,1632.2V1722.2M570.5,1684.2V1702.6M571.5,1680.4V1692.8M572.5,1674.8V1685.2M573.5,1671.0V1680.5M574.5,1667.6V1679.8M575.5,1663.0V1673.3M576.5,1655.8V1672.6M577.5,1660.0V1674.0M578.5,1658.0V1670.9M579.5,1654.3V1664.2M580.5,1651.2V1660.9M581.5,1651.3V1658.8M582.5,1648.7V1664.3M583.5,1645.4V1658.6M584.5,1645.0V1653.4M585.5,1646.2V1652.1M586.5,1643.9V1651.5M587.5,1642.2V1653.5M588.5,1640.4V1648.9M589.5,1636.4V1650.8M590.5,1640.7V1646.2M591.5,1637.8V1645.3M592.5,1639.0V1644.4M593.5,1634.1V1646.4M594.5,1633.3V1645.0M595.5,1632.9V1643.7M596.5,1633.1V1643.6M597.5,1634.5V1643.1M598.5,1631.8V1640.3M599.5,1631.6V1640.1M600.5,1632.3V1639.5M601.5,1633.9V1639.4M602.5,1633.9V1639.5M603.5,1634.2V1644.5M604.5,1633.9V1640.8M605.5,1633.9V1639.4M606.5,1633.9V1639.6M607.5,1632.8V1640.1M608.5,1633.9V1645.0M609.5,1633.7V1640.1M610.5,1635.1V1639.3M611.5,1635.1V1642.3M612.5,1633.7V1644.6M613.5,1636.6V1645.5M614.5,1635.3V1641.4M615.5,1634.7V1641.2M616.5,1634.3V1640.6M617.5,1634.8V1645.1M618.5,1638.5V1652.6M619.5,1643.7V1658.2M620.5,1652.6V1660.6M621.5,1652.4V1660.6M622.5,1649.2V1661.9M623.5,1649.2V1658.8M624.5,1652.8V1671.9M625.5,1660.0V1673.0M626.5,1657.1V1667.3M627.5,1656.7V1666.8M628.5,1652.3V1664.1M629.5,1649.8V1661.9M630.5,1647.1V1655.8M631.5,1644.4V1654.0M632.5,1647.4V1653.2M633.5,1645.8V1652.3M634.5,1642.3V1652.6M635.5,1642.4V1651.9M636.5,1643.0V1648.3M637.5,1640.5V1652.6M638.5,1635.7V1647.1M639.5,1641.3V1646.3M640.5,1640.6V1645.9M641.5,1635.9V1645.3M642.5,1635.6V1648.3M643.5,1637.4V1648.0M644.5,1636.9V1645.2M645.5,1633.6V1643.7M646.5,1631.3V1642.5M647.5,1635.4V1641.8M648.5,1634.8V1641.9M649.5,1630.0V1641.2M650.5,1634.1V1639.2M651.5,1633.5V1638.7M652.5,1634.4V1644.8M653.5,1634.3V1640.3M654.5,1630.6V1640.7M655.5,1630.5V1643.8M656.5,1631.9V1638.2M657.5,1631.9V1637.9M658.5,1630.3V1637.3M659.5,1630.3V1641.5M660.5,1631.2V1642.6M661.5,1630.5V1638.4M662.5,1628.1V1638.5M663.5,1630.8V1640.8M664.5,1628.6V1637.1M665.5,1630.9V1637.2M666.5,1631.5V1638.1M667.5,1631.5V1638.4M668.5,1632.7V1649.1M669.5,1643.6V1655.2M670.5,1647.6V1655.8M671.5,1647.1V1655.3M672.5,1645.5V1653.3M673.5,1643.7V1652.9M674.5,1642.6V1648.3M675.5,1641.8V1651.1M676.5,1637.0V1647.3M677.5,1639.0V1650.2M678.5,1635.9V1648.1M679.5,1637.3V1647.2M680.5,1635.3V1646.9M681.5,1637.0V1646.2M682.5,1633.1V1642.9M683.5,1633.8V1642.4M684.5,1636.0V1642.1M685.5,1632.2V1641.0M686.5,1636.1V1640.4M687.5,1634.2V1723.2M688.5,1700.3V1725.6M689.5,1687.8V1711.0M690.5,1676.6V1696.8M691.5,1671.3V1685.5M692.5,1663.1V1675.8M693.5,1654.2V1673.1M694.5,1654.9V1664.4M695.5,1649.4V1660.2M696.5,1645.6V1659.8M697.5,1645.5V1656.4M698.5,1641.8V1651.4M699.5,1644.2V1654.7M700.5,1646.6V1660.6M701.5,1648.1V1663.5M702.5,1647.8V1654.6M703.5,1646.1V1652.1M704.5,1644.5V1649.6M705.5,1642.6V1653.4M706.5,1640.5V1646.8M707.5,1637.7V1650.8M708.5,1639.2V1649.7M709.5,1638.0V1645.0M710.5,1638.5V1645.8M711.5,1637.8V1644.5M712.5,1637.6V1641.8M713.5,1637.3V1642.2M714.5,1633.2V1641.2M715.5,1632.9V1642.7M716.5,1632.7V1642.3M717.5,1634.8V1640.9M718.5,1634.7V1640.7M719.5,1634.5V1641.1M720.5,1634.4V1641.1M721.5,1634.4V1674.0M722.5,1664.9V1678.9M723.5,1660.2V1670.1M724.5,1657.5V1666.6M725.5,1653.3V1665.4M726.5,1652.0V1662.4M727.5,1650.8V1659.5M728.5,1648.8V1657.5M729.5,1645.1V1653.2M730.5,1646.0V1654.0M731.5,1643.9V1650.3M732.5,1642.3V1650.7M733.5,1644.5V1650.2M734.5,1643.9V1652.2M735.5,1641.4V1648.7M736.5,1641.8V1647.4M737.5,1642.2V1649.4M738.5,1639.2V1648.8M739.5,1641.4V1648.2M740.5,1640.5V1651.6M741.5,1637.4V1650.2M742.5,1632.4V1643.8M743.5,1633.1V1643.0M744.5,1637.3V1643.6M745.5,1632.1V1641.7M746.5,1634.2V1641.1M747.5,1635.7V1642.1M748.5,1633.8V1644.7M749.5,1632.8V1642.3M750.5,1636.6V1643.9M751.5,1636.5V1641.5M752.5,1633.7V1641.5M753.5,1634.6V1642.3M754.5,1636.1V1645.4M755.5,1636.2V1641.0M756.5,1636.0V1644.0M757.5,1635.8V1640.7M758.5,1632.1V1640.0M759.5,1635.4V1639.4M760.5,1635.4V1639.4M761.5,1635.2V1641.6M762.5,1633.8V1641.0M763.5,1634.4V1642.9M764.5,1635.5V1715.0M765.5,1692.4V1710.0M766.5,1684.0V1700.9M767.5,1677.2V1691.1M768.5,1668.9V1681.9M769.5,1662.8V1674.9M770.5,1659.2V1668.5M771.5,1655.3V1663.8M772.5,1648.3V1664.1M773.5,1648.6V1657.1M774.5,1643.4V1654.9M775.5,1641.2V1651.5M776.5,1637.5V1646.8M777.5,1640.2V1645.2M778.5,1637.8V1645.2M779.5,1636.6V1644.1M780.5,1637.2V1644.6M781.5,1634.0V1643.8M782.5,1634.7V1643.8M783.5,1632.0V1642.1M784.5,1634.5V1639.9M785.5,1631.4V1644.1M786.5,1630.0V1640.5M787.5,1630.7V1643.7M788.5,1629.4V1642.3M789.5,1632.1V1644.7M790.5,1630.3V1638.3M791.5,1630.5V1637.0M792.5,1631.7V1640.1M793.5,1627.8V1641.9M794.5,1631.7V1639.9M795.5,1631.7V1640.2M796.5,1632.0V1646.5M797.5,1637.6V1647.1M798.5,1639.9V1649.5M799.5,1639.4V1648.7M800.5,1638.8V1649.4M801.5,1638.3V1642.5M802.5,1637.9V1642.1M803.5,1637.6V1641.6M804.5,1636.9V1641.2M805.5,1636.9V1646.2M806.5,1636.3V1646.4M807.5,1632.5V1640.7M808.5,1634.8V1640.3M809.5,1634.7V1642.9M810.5,1632.3V1647.4M811.5,1635.2V1643.4M812.5,1633.0V1645.7M813.5,1636.6V1641.7M814.5,1637.1V1642.1M815.5,1636.0V1644.4M816.5,1636.8V1643.4M817.5,1638.6V1642.9M818.5,1638.7V1647.3M819.5,1635.3V1646.8M820.5,1639.0V1644.9M821.5,1639.0V1645.0M822.5,1637.2V1645.2M823.5,1639.0V1647.9M824.5,1638.9V1644.9M825.5,1639.2V1644.6M826.5,1639.2V1644.7M827.5,1639.2V1643.9M828.5,1638.7V1643.5M829.5,1639.0V1646.9M830.5,1639.0V1647.1M831.5,1639.2V1647.2M832.5,1636.5V1645.3M833.5,1638.8V1643.7M834.5,1639.7V1644.6M835.5,1639.2V1644.6M836.5,1637.7V1643.5M837.5,1638.5V1643.3M838.5,1638.0V1647.3M839.5,1637.4V1647.0M840.5,1637.9V1642.4M841.5,1636.8V1642.5M842.5,1638.0V1642.7M843.5,1637.9V1647.0M844.5,1636.3V1643.2M845.5,1635.8V1643.9M846.5,1638.5V1644.0M847.5,1638.1V1650.7M848.5,1633.0V1650.4M849.5,1637.5V1645.8M850.5,1635.3V1726.6M851.5,1647.9V1710.2M852.5,1692.9V1711.3M853.5,1683.5V1699.7M854.5,1675.2V1690.9M855.5,1668.2V1682.8M856.5,1658.7V1672.4M857.5,1654.4V1669.9M858.5,1652.4V1663.6M859.5,1646.7V1663.0M860.5,1648.1V1657.5M861.5,1647.5V1699.7M862.5,1674.6V1691.7M863.5,1678.1V1693.2M864.5,1671.0V1684.5M865.5,1665.4V1678.6M866.5,1659.6V1672.8M867.5,1656.9V1668.0M868.5,1651.7V1661.7M869.5,1650.6V1658.2M870.5,1643.4V1655.0M871.5,1646.4V1654.3M872.5,1643.1V1651.6M873.5,1637.8V1652.0M874.5,1642.3V1649.9M875.5,1639.2V1652.8M876.5,1640.5V1647.7M877.5,1640.0V1646.7M878.5,1637.5V1645.1M879.5,1632.9V1643.5M880.5,1636.6V1643.0M881.5,1635.9V1645.9M882.5,1635.7V1642.0M883.5,1637.4V1641.1M884.5,1635.8V1645.6M885.5,1632.9V1641.6M886.5,1635.3V1641.8M887.5,1632.9V1642.2M888.5,1636.2V1642.1M889.5,1634.9V1642.9M890.5,1636.6V1641.3M891.5,1636.7V1641.3M892.5,1636.4V1641.5M893.5,1636.0V1642.7M894.5,1635.1V1639.7M895.5,1629.8V1639.4M896.5,1634.3V1642.8M897.5,1634.3V1642.8M898.5,1634.4V1642.7M899.5,1630.3V1638.4M900.5,1631.5V1637.3M901.5,1630.9V1637.3M902.5,1631.5V1639.1M903.5,1630.9V1638.8M904.5,1627.5V1638.8M905.5,1630.0V1638.6M906.5,1631.2V1640.0M907.5,1631.2V1643.7M908.5,1627.9V1642.9M909.5,1627.9V1652.7M910.5,1648.0V1655.9M911.5,1644.5V1653.3M912.5,1640.3V1651.6M913.5,1640.9V1649.5M914.5,1641.3V1649.6M915.5,1639.9V1702.2M916.5,1684.5V1701.0M917.5,1679.2V1691.9M918.5,1671.7V1684.7M919.5,1666.5V1678.1M920.5,1663.0V1672.2M921.5,1656.4V1667.8M922.5,1656.5V1664.4M923.5,1652.0V1661.4M924.5,1649.7V1658.8M925.5,1644.5V1657.5M926.5,1643.1V1655.6M927.5,1638.4V1654.2M928.5,1640.6V1657.0M929.5,1643.8V1655.0M930.5,1642.5V1653.4M931.5,1642.4V1648.4M932.5,1641.9V1647.6M933.5,1639.4V1647.7M934.5,1637.7V1658.6M935.5,1648.2V1671.7M936.5,1658.0V1671.8M937.5,1654.4V1669.6M938.5,1654.0V1666.2M939.5,1651.3V1659.6M940.5,1648.3V1656.7M941.5,1647.4V1656.6M942.5,1646.1V1653.6M943.5,1644.6V1652.1M944.5,1643.3V1653.1M945.5,1641.7V1647.5M946.5,1640.3V1646.7M947.5,1640.3V1648.0M948.5,1639.6V1646.9M949.5,1638.4V1644.3M950.5,1637.5V1647.9M951.5,1636.6V1644.6M952.5,1636.1V1644.5M953.5,1632.2V1648.8M954.5,1640.1V1664.3M955.5,1652.3V1665.9M956.5,1648.8V1659.8M957.5,1648.6V1656.5M958.5,1644.2V1653.7M959.5,1644.5V1651.3M960.5,1640.1V1649.4M961.5,1638.7V1647.3M962.5,1635.3V1646.0M963.5,1633.6V1643.7M964.5,1638.6V1643.7M965.5,1637.8V1643.8M966.5,1634.4V1641.8M967.5,1636.5V1641.3M968.5,1633.0V1641.7M969.5,1632.7V1641.0M970.5,1633.3V1644.7M971.5,1633.3V1645.2M972.5,1638.5V1663.1M973.5,1653.1V1666.4M974.5,1651.6V1661.2M975.5,1646.6V1655.8M976.5,1644.7V1658.0M977.5,1644.1V1653.0M978.5,1642.4V1651.2M979.5,1642.0V1651.3M980.5,1640.5V1646.6M981.5,1639.5V1648.4M982.5,1637.9V1643.9M983.5,1635.4V1645.5M984.5,1637.0V1641.5M985.5,1636.1V1641.3M986.5,1636.0V1640.4M987.5,1632.9V1641.4M988.5,1632.9V1641.0M989.5,1636.1V1642.2M990.5,1636.1V1641.4M991.5,1635.8V1642.7M992.5,1635.2V1640.8M993.5,1635.6V1640.8M994.5,1632.5V1643.5M995.5,1634.9V1640.7M996.5,1637.3V1641.3M997.5,1635.2V1645.5M998.5,1634.7V1645.0M999.5,1631.9V1645.8M1000.5,1632.7V1645.8M1001.5,1633.6V1645.8M1002.5,1633.9V1643.2M1003.5,1636.5V1744.5M1004.5,1654.6V1728.6M1005.5,1708.6V1729.6M1006.5,1695.0V1717.6M1007.5,1686.3V1703.6M1008.5,1681.4V1693.4M1009.5,1674.7V1685.1M1010.5,1665.5V1678.4M1011.5,1663.6V1675.6M1012.5,1655.1V1668.2M1013.5,1653.5V1664.2M1014.5,1651.4V1661.8M1015.5,1650.4V1658.6M1016.5,1650.0V1674.5M1017.5,1662.1V1680.2M1018.5,1660.2V1677.9M1019.5,1658.2V1673.9M1020.5,1652.0V1663.9M1021.5,1649.5V1660.2M1022.5,1649.5V1665.0M1023.5,1643.9V1657.2M1024.5,1644.1V1656.7M1025.5,1639.4V1650.0M1026.5,1641.4V1648.5M1027.5,1639.8V1651.3M1028.5,1638.7V1650.1M1029.5,1637.8V1649.0M1030.5,1639.9V1648.4M1031.5,1638.0V1649.0M1032.5,1637.1V1648.1M1033.5,1635.3V1644.9M1034.5,1637.8V1643.6M1035.5,1638.6V1647.0M1036.5,1640.2V1644.9M1037.5,1636.9V1649.9M1038.5,1639.7V1651.6M1039.5,1640.5V1648.0M1040.5,1640.9V1648.0M1041.5,1641.5V1647.7M1042.5,1637.7V1647.5M1043.5,1640.0V1649.5M1044.5,1645.2V1656.0M1045.5,1648.8V1655.8M1046.5,1649.5V1655.8M1047.5,1647.5V1656.5M1048.5,1648.7V1655.1M1049.5,1644.5V1653.5M1050.5,1645.5V1652.8M1051.5,1645.3V1651.4M1052.5,1645.5V1651.6M1053.5,1643.8V1651.0M1054.5,1641.6V1650.2M1055.5,1636.7V1649.9M1056.5,1642.9V1652.5M1057.5,1642.5V1647.5M1058.5,1642.4V1647.1M1059.5,1635.8V1648.9M1060.5,1640.2V1648.6M1061.5,1636.7V1648.6" fill="none" stroke="#141414" stroke-width="1" shape-rendering="crispEdges"/>
</svg></body></html>
